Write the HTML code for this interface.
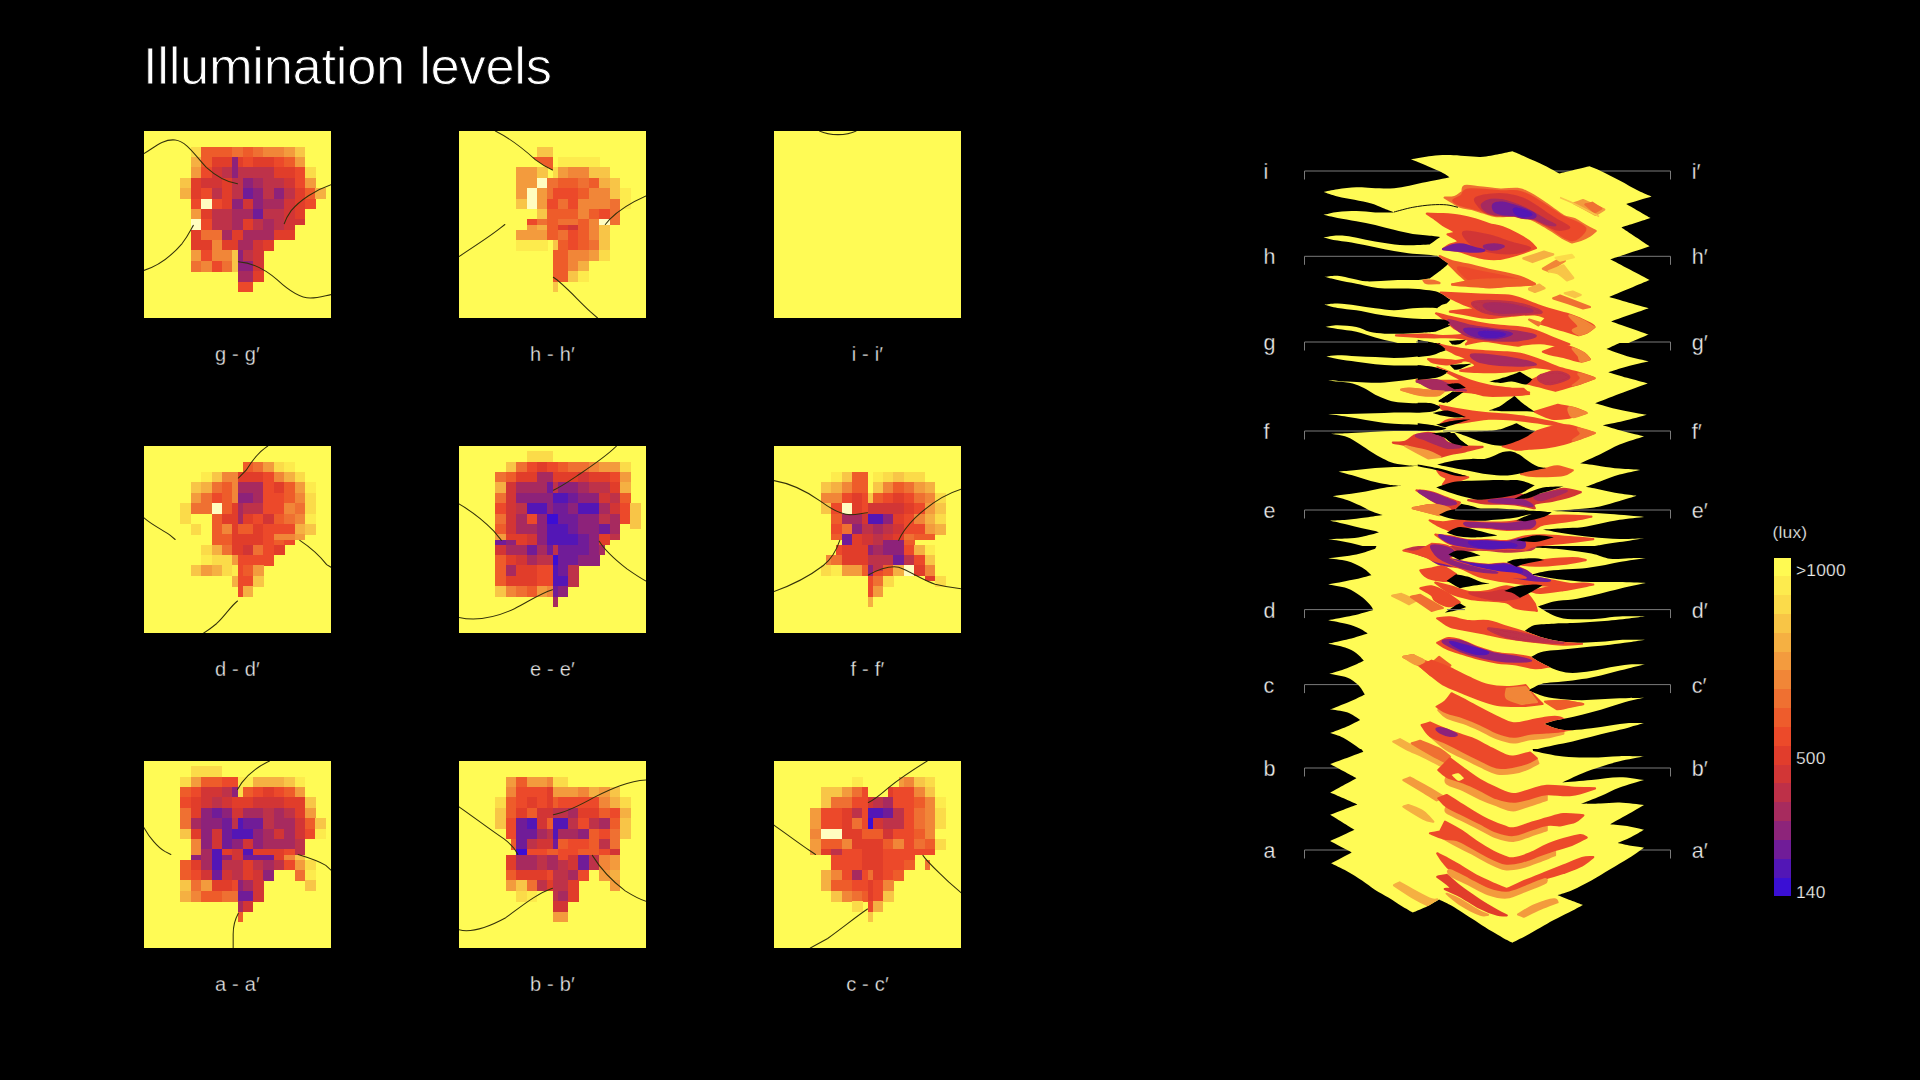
<!DOCTYPE html><html><head><meta charset="utf-8"><title>Illumination levels</title><style>
html,body{margin:0;padding:0;background:#000;}
body{width:1920px;height:1080px;position:relative;overflow:hidden;font-family:"Liberation Sans",sans-serif;color:#fff;}
.title{position:absolute;left:143px;top:35.5px;font-size:52.5px;line-height:60px;letter-spacing:-0.3px;white-space:nowrap;color:#fff;-webkit-text-stroke:0.9px #000;}
.hm{position:absolute;display:block;}
.lbl{position:absolute;width:187px;text-align:center;font-size:20px;line-height:24px;color:#e6e6e6;letter-spacing:0.2px;white-space:nowrap;-webkit-text-stroke:0.3px #000;}
.sl{position:absolute;font-size:21.5px;line-height:24px;color:#ececec;white-space:nowrap;-webkit-text-stroke:0.3px #000;}
.cb{position:absolute;left:1774px;top:557.5px;width:17px;}
.cb div{height:18.83px;width:17px;}
.cl{position:absolute;font-size:17.4px;-webkit-text-stroke:0.25px #000;line-height:20px;color:#f0f0f0;white-space:nowrap;letter-spacing:0.2px;}
#stack{position:absolute;left:0;top:0;}
</style></head><body>
<div class="title">Illumination levels</div>
<svg class="hm" style="left:144px;top:131px" width="187" height="187" viewBox="0 0 1080 1080">
<rect width="1080" height="1080" fill="#FFFB55"/>
<filter id="hb" x="0" y="0" width="100%" height="100%"><feGaussianBlur stdDeviation="2.5"/></filter><g filter="url(#hb)" shape-rendering="crispEdges">
<rect x="270" y="90" width="61.5" height="61.5" fill="#FBDB4A"/>
<rect x="330" y="90" width="61.5" height="61.5" fill="#EE5C2C"/>
<rect x="390" y="90" width="61.5" height="61.5" fill="#EE5C2C"/>
<rect x="450" y="90" width="61.5" height="61.5" fill="#EE5C2C"/>
<rect x="510" y="90" width="61.5" height="61.5" fill="#EF7031"/>
<rect x="570" y="90" width="61.5" height="61.5" fill="#EE5C2C"/>
<rect x="630" y="90" width="61.5" height="61.5" fill="#EF7031"/>
<rect x="690" y="90" width="61.5" height="61.5" fill="#F18637"/>
<rect x="750" y="90" width="61.5" height="61.5" fill="#F18637"/>
<rect x="810" y="90" width="61.5" height="61.5" fill="#F39B3E"/>
<rect x="870" y="90" width="61.5" height="61.5" fill="#F8C546"/>
<rect x="270" y="150" width="61.5" height="61.5" fill="#F5B042"/>
<rect x="330" y="150" width="61.5" height="61.5" fill="#EE5C2C"/>
<rect x="390" y="150" width="61.5" height="61.5" fill="#E13D2C"/>
<rect x="450" y="150" width="61.5" height="61.5" fill="#E13D2C"/>
<rect x="510" y="150" width="31.5" height="61.5" fill="#8D247A"/>
<rect x="540" y="150" width="31.5" height="61.5" fill="#E13D2C"/>
<rect x="570" y="150" width="61.5" height="61.5" fill="#EC4A2A"/>
<rect x="630" y="150" width="61.5" height="61.5" fill="#E13D2C"/>
<rect x="690" y="150" width="61.5" height="61.5" fill="#E13D2C"/>
<rect x="750" y="150" width="61.5" height="61.5" fill="#EC4A2A"/>
<rect x="810" y="150" width="61.5" height="61.5" fill="#EE5C2C"/>
<rect x="870" y="150" width="61.5" height="61.5" fill="#F39B3E"/>
<rect x="270" y="210" width="61.5" height="61.5" fill="#F39B3E"/>
<rect x="330" y="210" width="61.5" height="61.5" fill="#EC4A2A"/>
<rect x="390" y="210" width="61.5" height="61.5" fill="#D23636"/>
<rect x="450" y="210" width="61.5" height="61.5" fill="#BE3048"/>
<rect x="510" y="210" width="31.5" height="61.5" fill="#8D247A"/>
<rect x="540" y="210" width="31.5" height="61.5" fill="#BE3048"/>
<rect x="570" y="210" width="61.5" height="61.5" fill="#BE3048"/>
<rect x="630" y="210" width="61.5" height="61.5" fill="#BE3048"/>
<rect x="690" y="210" width="61.5" height="61.5" fill="#BE3048"/>
<rect x="750" y="210" width="61.5" height="61.5" fill="#E13D2C"/>
<rect x="810" y="210" width="61.5" height="61.5" fill="#E13D2C"/>
<rect x="870" y="210" width="61.5" height="61.5" fill="#EC4A2A"/>
<rect x="930" y="210" width="61.5" height="61.5" fill="#FBDB4A"/>
<rect x="210" y="270" width="61.5" height="61.5" fill="#F8C546"/>
<rect x="270" y="270" width="61.5" height="61.5" fill="#E13D2C"/>
<rect x="330" y="270" width="61.5" height="61.5" fill="#D23636"/>
<rect x="390" y="270" width="61.5" height="61.5" fill="#D23636"/>
<rect x="450" y="270" width="61.5" height="61.5" fill="#E13D2C"/>
<rect x="510" y="270" width="61.5" height="61.5" fill="#BE3048"/>
<rect x="570" y="270" width="61.5" height="61.5" fill="#8D247A"/>
<rect x="630" y="270" width="61.5" height="61.5" fill="#A72B5E"/>
<rect x="690" y="270" width="61.5" height="61.5" fill="#BE3048"/>
<rect x="750" y="270" width="61.5" height="61.5" fill="#BE3048"/>
<rect x="810" y="270" width="61.5" height="61.5" fill="#D23636"/>
<rect x="870" y="270" width="61.5" height="61.5" fill="#EC4A2A"/>
<rect x="930" y="270" width="61.5" height="61.5" fill="#F39B3E"/>
<rect x="210" y="330" width="61.5" height="61.5" fill="#F5B042"/>
<rect x="270" y="330" width="61.5" height="61.5" fill="#E13D2C"/>
<rect x="330" y="330" width="61.5" height="61.5" fill="#EC4A2A"/>
<rect x="390" y="330" width="61.5" height="61.5" fill="#BE3048"/>
<rect x="450" y="330" width="61.5" height="61.5" fill="#E13D2C"/>
<rect x="510" y="330" width="61.5" height="61.5" fill="#BE3048"/>
<rect x="570" y="330" width="61.5" height="61.5" fill="#701C98"/>
<rect x="630" y="330" width="61.5" height="61.5" fill="#8D247A"/>
<rect x="690" y="330" width="61.5" height="61.5" fill="#BE3048"/>
<rect x="750" y="330" width="61.5" height="61.5" fill="#8D247A"/>
<rect x="810" y="330" width="61.5" height="61.5" fill="#BE3048"/>
<rect x="870" y="330" width="61.5" height="61.5" fill="#E13D2C"/>
<rect x="930" y="330" width="61.5" height="61.5" fill="#EE5C2C"/>
<rect x="990" y="330" width="61.5" height="61.5" fill="#F5B042"/>
<rect x="270" y="390" width="61.5" height="61.5" fill="#EC4A2A"/>
<rect x="330" y="390" width="61.5" height="61.5" fill="#FFFDC0"/>
<rect x="390" y="390" width="61.5" height="61.5" fill="#EC4A2A"/>
<rect x="450" y="390" width="61.5" height="61.5" fill="#E13D2C"/>
<rect x="510" y="390" width="61.5" height="61.5" fill="#8D247A"/>
<rect x="570" y="390" width="61.5" height="61.5" fill="#D23636"/>
<rect x="630" y="390" width="61.5" height="61.5" fill="#8D247A"/>
<rect x="690" y="390" width="61.5" height="61.5" fill="#A72B5E"/>
<rect x="750" y="390" width="61.5" height="61.5" fill="#A72B5E"/>
<rect x="810" y="390" width="61.5" height="61.5" fill="#D23636"/>
<rect x="870" y="390" width="61.5" height="61.5" fill="#E13D2C"/>
<rect x="930" y="390" width="61.5" height="61.5" fill="#EC4A2A"/>
<rect x="270" y="450" width="61.5" height="61.5" fill="#F39B3E"/>
<rect x="330" y="450" width="61.5" height="61.5" fill="#E13D2C"/>
<rect x="390" y="450" width="61.5" height="61.5" fill="#BE3048"/>
<rect x="450" y="450" width="61.5" height="61.5" fill="#BE3048"/>
<rect x="510" y="450" width="61.5" height="61.5" fill="#A72B5E"/>
<rect x="570" y="450" width="61.5" height="61.5" fill="#A72B5E"/>
<rect x="630" y="450" width="61.5" height="61.5" fill="#701C98"/>
<rect x="690" y="450" width="61.5" height="61.5" fill="#BE3048"/>
<rect x="750" y="450" width="61.5" height="61.5" fill="#BE3048"/>
<rect x="810" y="450" width="61.5" height="61.5" fill="#D23636"/>
<rect x="870" y="450" width="61.5" height="61.5" fill="#E13D2C"/>
<rect x="270" y="510" width="61.5" height="61.5" fill="#FFFDC0"/>
<rect x="330" y="510" width="61.5" height="61.5" fill="#EC4A2A"/>
<rect x="390" y="510" width="61.5" height="61.5" fill="#BE3048"/>
<rect x="450" y="510" width="61.5" height="61.5" fill="#BE3048"/>
<rect x="510" y="510" width="61.5" height="61.5" fill="#A72B5E"/>
<rect x="570" y="510" width="61.5" height="61.5" fill="#E13D2C"/>
<rect x="630" y="510" width="61.5" height="61.5" fill="#BE3048"/>
<rect x="690" y="510" width="61.5" height="61.5" fill="#A72B5E"/>
<rect x="750" y="510" width="61.5" height="61.5" fill="#BE3048"/>
<rect x="810" y="510" width="61.5" height="61.5" fill="#D23636"/>
<rect x="870" y="510" width="61.5" height="31.5" fill="#D23636"/>
<rect x="270" y="570" width="61.5" height="61.5" fill="#E13D2C"/>
<rect x="330" y="570" width="61.5" height="61.5" fill="#EF7031"/>
<rect x="390" y="570" width="61.5" height="61.5" fill="#EF7031"/>
<rect x="450" y="570" width="61.5" height="61.5" fill="#A72B5E"/>
<rect x="510" y="570" width="61.5" height="61.5" fill="#E13D2C"/>
<rect x="570" y="570" width="61.5" height="61.5" fill="#A72B5E"/>
<rect x="630" y="570" width="61.5" height="61.5" fill="#A72B5E"/>
<rect x="690" y="570" width="61.5" height="61.5" fill="#A72B5E"/>
<rect x="750" y="570" width="61.5" height="61.5" fill="#E13D2C"/>
<rect x="810" y="570" width="61.5" height="61.5" fill="#E13D2C"/>
<rect x="270" y="630" width="61.5" height="61.5" fill="#E13D2C"/>
<rect x="330" y="630" width="61.5" height="61.5" fill="#E13D2C"/>
<rect x="390" y="630" width="61.5" height="61.5" fill="#F18637"/>
<rect x="450" y="630" width="61.5" height="61.5" fill="#E13D2C"/>
<rect x="510" y="630" width="31.5" height="61.5" fill="#E13D2C"/>
<rect x="540" y="630" width="31.5" height="61.5" fill="#A72B5E"/>
<rect x="570" y="630" width="61.5" height="61.5" fill="#A72B5E"/>
<rect x="630" y="630" width="61.5" height="61.5" fill="#D23636"/>
<rect x="690" y="630" width="61.5" height="61.5" fill="#E13D2C"/>
<rect x="270" y="690" width="61.5" height="61.5" fill="#F39B3E"/>
<rect x="330" y="690" width="61.5" height="61.5" fill="#EC4A2A"/>
<rect x="390" y="690" width="61.5" height="61.5" fill="#F18637"/>
<rect x="450" y="690" width="61.5" height="61.5" fill="#F18637"/>
<rect x="510" y="690" width="31.5" height="61.5" fill="#F8C546"/>
<rect x="540" y="690" width="31.5" height="61.5" fill="#8D247A"/>
<rect x="570" y="690" width="61.5" height="61.5" fill="#BE3048"/>
<rect x="630" y="690" width="61.5" height="61.5" fill="#D23636"/>
<rect x="270" y="750" width="61.5" height="61.5" fill="#EF7031"/>
<rect x="330" y="750" width="61.5" height="61.5" fill="#F18637"/>
<rect x="390" y="750" width="61.5" height="61.5" fill="#EC4A2A"/>
<rect x="450" y="750" width="61.5" height="61.5" fill="#EF7031"/>
<rect x="510" y="750" width="31.5" height="61.5" fill="#F8C546"/>
<rect x="540" y="750" width="31.5" height="61.5" fill="#8D247A"/>
<rect x="570" y="750" width="61.5" height="61.5" fill="#8D247A"/>
<rect x="630" y="750" width="61.5" height="61.5" fill="#D23636"/>
<rect x="540" y="810" width="31.5" height="61.5" fill="#A72B5E"/>
<rect x="570" y="810" width="61.5" height="61.5" fill="#A72B5E"/>
<rect x="630" y="810" width="61.5" height="61.5" fill="#E13D2C"/>
<rect x="540" y="870" width="31.5" height="61.5" fill="#EC4A2A"/>
<rect x="570" y="870" width="61.5" height="61.5" fill="#EC4A2A"/>
</g>
<path d="M0,130 C60,95 110,45 180,52 C250,60 300,150 360,210 C420,265 480,295 540,305" fill="none" stroke="#33310a" stroke-width="6" stroke-linecap="round"/>
<path d="M1080,310 C990,340 900,400 850,460 C825,495 815,520 810,535" fill="none" stroke="#33310a" stroke-width="6" stroke-linecap="round"/>
<path d="M0,805 C80,780 160,720 220,650 C255,605 270,570 285,545" fill="none" stroke="#33310a" stroke-width="6" stroke-linecap="round"/>
<path d="M545,755 C620,760 690,790 770,860 C840,925 900,965 960,965 C1010,962 1050,950 1080,945" fill="none" stroke="#33310a" stroke-width="6" stroke-linecap="round"/>
</svg>
<div class="lbl" style="left:144px;top:341.9px">g - g′</div>
<svg class="hm" style="left:459px;top:131px" width="187" height="187" viewBox="0 0 1080 1080">
<rect width="1080" height="1080" fill="#FFFB55"/>
<filter id="hb" x="0" y="0" width="100%" height="100%"><feGaussianBlur stdDeviation="2.5"/></filter><g filter="url(#hb)" shape-rendering="crispEdges">
<rect x="450" y="90" width="61.5" height="61.5" fill="#F8C546"/>
<rect x="510" y="90" width="31.5" height="61.5" fill="#F8C546"/>
<rect x="570" y="150" width="61.5" height="61.5" fill="#FDEB4E"/>
<rect x="630" y="150" width="61.5" height="61.5" fill="#FDEB4E"/>
<rect x="690" y="150" width="61.5" height="61.5" fill="#FDEB4E"/>
<rect x="750" y="150" width="61.5" height="61.5" fill="#FDEB4E"/>
<rect x="330" y="210" width="61.5" height="61.5" fill="#F39B3E"/>
<rect x="390" y="210" width="61.5" height="61.5" fill="#F39B3E"/>
<rect x="450" y="210" width="61.5" height="61.5" fill="#F8C546"/>
<rect x="540" y="210" width="31.5" height="61.5" fill="#FBDB4A"/>
<rect x="570" y="210" width="61.5" height="61.5" fill="#F39B3E"/>
<rect x="630" y="210" width="61.5" height="61.5" fill="#F18637"/>
<rect x="690" y="210" width="61.5" height="61.5" fill="#F18637"/>
<rect x="750" y="210" width="61.5" height="61.5" fill="#F8C546"/>
<rect x="810" y="210" width="61.5" height="61.5" fill="#F8C546"/>
<rect x="330" y="270" width="61.5" height="61.5" fill="#F39B3E"/>
<rect x="390" y="270" width="61.5" height="61.5" fill="#F39B3E"/>
<rect x="450" y="270" width="61.5" height="61.5" fill="#FFFDC0"/>
<rect x="510" y="270" width="61.5" height="61.5" fill="#EF7031"/>
<rect x="570" y="270" width="61.5" height="61.5" fill="#EE5C2C"/>
<rect x="630" y="270" width="61.5" height="61.5" fill="#EE5C2C"/>
<rect x="690" y="270" width="61.5" height="61.5" fill="#EF7031"/>
<rect x="750" y="270" width="61.5" height="61.5" fill="#EE5C2C"/>
<rect x="810" y="270" width="61.5" height="61.5" fill="#F5B042"/>
<rect x="870" y="270" width="61.5" height="61.5" fill="#F8C546"/>
<rect x="330" y="330" width="61.5" height="61.5" fill="#F39B3E"/>
<rect x="390" y="330" width="61.5" height="61.5" fill="#FFFDC0"/>
<rect x="450" y="330" width="61.5" height="61.5" fill="#F39B3E"/>
<rect x="510" y="330" width="31.5" height="61.5" fill="#EF7031"/>
<rect x="540" y="330" width="31.5" height="61.5" fill="#EC4A2A"/>
<rect x="570" y="330" width="61.5" height="61.5" fill="#EC4A2A"/>
<rect x="630" y="330" width="61.5" height="61.5" fill="#EC4A2A"/>
<rect x="690" y="330" width="61.5" height="61.5" fill="#EE5C2C"/>
<rect x="750" y="330" width="61.5" height="61.5" fill="#F18637"/>
<rect x="810" y="330" width="61.5" height="61.5" fill="#F18637"/>
<rect x="870" y="330" width="61.5" height="61.5" fill="#F8C546"/>
<rect x="930" y="330" width="61.5" height="61.5" fill="#FDEB4E"/>
<rect x="330" y="390" width="61.5" height="61.5" fill="#F8C546"/>
<rect x="390" y="390" width="61.5" height="61.5" fill="#FFFDC0"/>
<rect x="450" y="390" width="61.5" height="61.5" fill="#F39B3E"/>
<rect x="510" y="390" width="61.5" height="61.5" fill="#EC4A2A"/>
<rect x="570" y="390" width="61.5" height="61.5" fill="#EF7031"/>
<rect x="630" y="390" width="61.5" height="61.5" fill="#EC4A2A"/>
<rect x="690" y="390" width="61.5" height="61.5" fill="#F18637"/>
<rect x="750" y="390" width="61.5" height="61.5" fill="#F18637"/>
<rect x="810" y="390" width="61.5" height="61.5" fill="#F18637"/>
<rect x="870" y="390" width="61.5" height="61.5" fill="#EF7031"/>
<rect x="930" y="390" width="61.5" height="61.5" fill="#FDEB4E"/>
<rect x="450" y="450" width="61.5" height="61.5" fill="#F8C546"/>
<rect x="510" y="450" width="61.5" height="61.5" fill="#EE5C2C"/>
<rect x="570" y="450" width="61.5" height="61.5" fill="#EE5C2C"/>
<rect x="630" y="450" width="61.5" height="61.5" fill="#EE5C2C"/>
<rect x="690" y="450" width="61.5" height="61.5" fill="#F18637"/>
<rect x="750" y="450" width="61.5" height="61.5" fill="#EE5C2C"/>
<rect x="810" y="450" width="61.5" height="61.5" fill="#EC4A2A"/>
<rect x="870" y="450" width="61.5" height="61.5" fill="#EF7031"/>
<rect x="390" y="510" width="61.5" height="31.5" fill="#EC4A2A"/>
<rect x="390" y="540" width="61.5" height="31.5" fill="#F39B3E"/>
<rect x="450" y="510" width="61.5" height="31.5" fill="#EF7031"/>
<rect x="450" y="540" width="61.5" height="31.5" fill="#F5B042"/>
<rect x="510" y="510" width="61.5" height="61.5" fill="#EE5C2C"/>
<rect x="570" y="510" width="61.5" height="31.5" fill="#EF7031"/>
<rect x="570" y="540" width="61.5" height="31.5" fill="#E13D2C"/>
<rect x="630" y="510" width="61.5" height="31.5" fill="#EF7031"/>
<rect x="630" y="540" width="61.5" height="31.5" fill="#D23636"/>
<rect x="690" y="510" width="61.5" height="61.5" fill="#EE5C2C"/>
<rect x="750" y="510" width="61.5" height="61.5" fill="#F18637"/>
<rect x="810" y="510" width="61.5" height="31.5" fill="#FFFDC0"/>
<rect x="810" y="540" width="61.5" height="31.5" fill="#F8C546"/>
<rect x="870" y="510" width="61.5" height="31.5" fill="#EF7031"/>
<rect x="330" y="570" width="61.5" height="61.5" fill="#F39B3E"/>
<rect x="390" y="570" width="61.5" height="61.5" fill="#F39B3E"/>
<rect x="450" y="570" width="61.5" height="61.5" fill="#F39B3E"/>
<rect x="510" y="570" width="61.5" height="61.5" fill="#EE5C2C"/>
<rect x="570" y="570" width="61.5" height="61.5" fill="#EF7031"/>
<rect x="630" y="570" width="61.5" height="61.5" fill="#EC4A2A"/>
<rect x="690" y="570" width="61.5" height="61.5" fill="#EE5C2C"/>
<rect x="750" y="570" width="61.5" height="61.5" fill="#F18637"/>
<rect x="810" y="570" width="61.5" height="61.5" fill="#F8C546"/>
<rect x="330" y="630" width="61.5" height="61.5" fill="#FDEB4E"/>
<rect x="390" y="630" width="61.5" height="61.5" fill="#FDEB4E"/>
<rect x="450" y="630" width="61.5" height="61.5" fill="#FDEB4E"/>
<rect x="540" y="630" width="31.5" height="61.5" fill="#F8C546"/>
<rect x="570" y="630" width="61.5" height="61.5" fill="#EE5C2C"/>
<rect x="630" y="630" width="61.5" height="61.5" fill="#EC4A2A"/>
<rect x="690" y="630" width="61.5" height="61.5" fill="#EE5C2C"/>
<rect x="750" y="630" width="61.5" height="61.5" fill="#EF7031"/>
<rect x="810" y="630" width="61.5" height="61.5" fill="#F8C546"/>
<rect x="540" y="690" width="31.5" height="61.5" fill="#EE5C2C"/>
<rect x="570" y="690" width="61.5" height="61.5" fill="#EE5C2C"/>
<rect x="630" y="690" width="61.5" height="61.5" fill="#F18637"/>
<rect x="690" y="690" width="61.5" height="61.5" fill="#F18637"/>
<rect x="750" y="690" width="61.5" height="61.5" fill="#F39B3E"/>
<rect x="810" y="690" width="61.5" height="61.5" fill="#FBDB4A"/>
<rect x="540" y="750" width="31.5" height="61.5" fill="#EE5C2C"/>
<rect x="570" y="750" width="61.5" height="61.5" fill="#EE5C2C"/>
<rect x="630" y="750" width="61.5" height="61.5" fill="#F18637"/>
<rect x="690" y="750" width="61.5" height="61.5" fill="#F5B042"/>
<rect x="540" y="810" width="31.5" height="61.5" fill="#EE5C2C"/>
<rect x="570" y="810" width="61.5" height="61.5" fill="#EE5C2C"/>
<rect x="630" y="810" width="61.5" height="61.5" fill="#F8C546"/>
<rect x="690" y="810" width="61.5" height="61.5" fill="#FDEB4E"/>
<rect x="540" y="870" width="31.5" height="61.5" fill="#F8C546"/>
<polygon points="425,150 540,150 540,226 500,206 450,172" fill="#EE5C2C"/>
</g>
<path d="M210,0 C300,45 380,110 440,165 C480,195 510,212 540,225" fill="none" stroke="#33310a" stroke-width="6" stroke-linecap="round"/>
<path d="M1080,375 C1000,410 920,460 870,510 L845,540" fill="none" stroke="#33310a" stroke-width="6" stroke-linecap="round"/>
<path d="M0,725 C100,660 190,600 240,560 L265,540" fill="none" stroke="#33310a" stroke-width="6" stroke-linecap="round"/>
<path d="M545,845 C600,880 680,970 760,1045 L800,1080" fill="none" stroke="#33310a" stroke-width="6" stroke-linecap="round"/>
</svg>
<div class="lbl" style="left:459px;top:341.9px">h - h′</div>
<svg class="hm" style="left:774px;top:131px" width="187" height="187" viewBox="0 0 1080 1080">
<rect width="1080" height="1080" fill="#FFFB55"/>
<filter id="hb" x="0" y="0" width="100%" height="100%"><feGaussianBlur stdDeviation="2.5"/></filter><g filter="url(#hb)" shape-rendering="crispEdges">
</g>
<path d="M263,0 C320,28 420,28 474,0" fill="none" stroke="#33310a" stroke-width="6" stroke-linecap="round"/>
</svg>
<div class="lbl" style="left:774px;top:341.9px">i - i′</div>
<svg class="hm" style="left:144px;top:446px" width="187" height="187" viewBox="0 0 1080 1080">
<rect width="1080" height="1080" fill="#FFFB55"/>
<filter id="hb" x="0" y="0" width="100%" height="100%"><feGaussianBlur stdDeviation="2.5"/></filter><g filter="url(#hb)" shape-rendering="crispEdges">
<rect x="570" y="90" width="61.5" height="61.5" fill="#EE5C2C"/>
<rect x="630" y="90" width="61.5" height="61.5" fill="#EF7031"/>
<rect x="690" y="90" width="61.5" height="61.5" fill="#F39B3E"/>
<rect x="750" y="90" width="61.5" height="61.5" fill="#FBDB4A"/>
<rect x="810" y="90" width="61.5" height="61.5" fill="#FDEB4E"/>
<rect x="330" y="150" width="61.5" height="61.5" fill="#FDEB4E"/>
<rect x="390" y="150" width="61.5" height="61.5" fill="#F8C546"/>
<rect x="450" y="150" width="61.5" height="61.5" fill="#F18637"/>
<rect x="510" y="150" width="31.5" height="61.5" fill="#F18637"/>
<rect x="540" y="150" width="31.5" height="61.5" fill="#E13D2C"/>
<rect x="570" y="150" width="61.5" height="61.5" fill="#E13D2C"/>
<rect x="630" y="150" width="61.5" height="61.5" fill="#E13D2C"/>
<rect x="690" y="150" width="61.5" height="61.5" fill="#EC4A2A"/>
<rect x="750" y="150" width="61.5" height="61.5" fill="#F18637"/>
<rect x="810" y="150" width="61.5" height="61.5" fill="#F5B042"/>
<rect x="870" y="150" width="61.5" height="61.5" fill="#FBDB4A"/>
<rect x="270" y="210" width="61.5" height="61.5" fill="#F8C546"/>
<rect x="330" y="210" width="61.5" height="61.5" fill="#F5B042"/>
<rect x="390" y="210" width="61.5" height="61.5" fill="#EF7031"/>
<rect x="450" y="210" width="61.5" height="61.5" fill="#EE5C2C"/>
<rect x="510" y="210" width="31.5" height="61.5" fill="#F18637"/>
<rect x="540" y="210" width="31.5" height="61.5" fill="#A72B5E"/>
<rect x="570" y="210" width="61.5" height="61.5" fill="#A72B5E"/>
<rect x="630" y="210" width="61.5" height="61.5" fill="#A72B5E"/>
<rect x="690" y="210" width="61.5" height="61.5" fill="#EC4A2A"/>
<rect x="750" y="210" width="61.5" height="61.5" fill="#E13D2C"/>
<rect x="810" y="210" width="61.5" height="61.5" fill="#EE5C2C"/>
<rect x="870" y="210" width="61.5" height="61.5" fill="#F39B3E"/>
<rect x="930" y="210" width="61.5" height="61.5" fill="#FDEB4E"/>
<rect x="270" y="270" width="61.5" height="61.5" fill="#F39B3E"/>
<rect x="330" y="270" width="61.5" height="61.5" fill="#EF7031"/>
<rect x="390" y="270" width="61.5" height="61.5" fill="#EC4A2A"/>
<rect x="450" y="270" width="61.5" height="61.5" fill="#EE5C2C"/>
<rect x="510" y="270" width="31.5" height="61.5" fill="#F18637"/>
<rect x="540" y="270" width="31.5" height="61.5" fill="#8D247A"/>
<rect x="570" y="270" width="61.5" height="61.5" fill="#8D247A"/>
<rect x="630" y="270" width="61.5" height="61.5" fill="#A72B5E"/>
<rect x="690" y="270" width="61.5" height="61.5" fill="#EC4A2A"/>
<rect x="750" y="270" width="61.5" height="61.5" fill="#EC4A2A"/>
<rect x="810" y="270" width="61.5" height="61.5" fill="#EE5C2C"/>
<rect x="870" y="270" width="61.5" height="61.5" fill="#F18637"/>
<rect x="930" y="270" width="61.5" height="61.5" fill="#FBDB4A"/>
<rect x="210" y="330" width="61.5" height="61.5" fill="#FBDB4A"/>
<rect x="270" y="330" width="61.5" height="61.5" fill="#EF7031"/>
<rect x="330" y="330" width="61.5" height="61.5" fill="#EF7031"/>
<rect x="390" y="330" width="61.5" height="61.5" fill="#FFFDC0"/>
<rect x="450" y="330" width="61.5" height="61.5" fill="#EE5C2C"/>
<rect x="510" y="330" width="31.5" height="61.5" fill="#E13D2C"/>
<rect x="540" y="330" width="31.5" height="61.5" fill="#A72B5E"/>
<rect x="570" y="330" width="61.5" height="61.5" fill="#BE3048"/>
<rect x="630" y="330" width="61.5" height="61.5" fill="#BE3048"/>
<rect x="690" y="330" width="61.5" height="61.5" fill="#EC4A2A"/>
<rect x="750" y="330" width="61.5" height="61.5" fill="#EC4A2A"/>
<rect x="810" y="330" width="61.5" height="61.5" fill="#F18637"/>
<rect x="870" y="330" width="61.5" height="61.5" fill="#EF7031"/>
<rect x="930" y="330" width="61.5" height="61.5" fill="#FBDB4A"/>
<rect x="210" y="390" width="61.5" height="61.5" fill="#FBDB4A"/>
<rect x="390" y="390" width="61.5" height="61.5" fill="#EE5C2C"/>
<rect x="450" y="390" width="61.5" height="61.5" fill="#E13D2C"/>
<rect x="510" y="390" width="31.5" height="61.5" fill="#E13D2C"/>
<rect x="540" y="390" width="31.5" height="61.5" fill="#A72B5E"/>
<rect x="570" y="390" width="61.5" height="61.5" fill="#E13D2C"/>
<rect x="630" y="390" width="61.5" height="61.5" fill="#EC4A2A"/>
<rect x="690" y="390" width="61.5" height="61.5" fill="#D23636"/>
<rect x="750" y="390" width="61.5" height="61.5" fill="#EE5C2C"/>
<rect x="810" y="390" width="61.5" height="61.5" fill="#EF7031"/>
<rect x="870" y="390" width="61.5" height="61.5" fill="#F18637"/>
<rect x="930" y="390" width="61.5" height="61.5" fill="#FDEB4E"/>
<rect x="270" y="450" width="61.5" height="61.5" fill="#FBDB4A"/>
<rect x="390" y="450" width="61.5" height="61.5" fill="#EE5C2C"/>
<rect x="450" y="450" width="61.5" height="61.5" fill="#F18637"/>
<rect x="510" y="450" width="31.5" height="61.5" fill="#E13D2C"/>
<rect x="540" y="450" width="31.5" height="61.5" fill="#EE5C2C"/>
<rect x="570" y="450" width="61.5" height="61.5" fill="#EE5C2C"/>
<rect x="630" y="450" width="61.5" height="61.5" fill="#E13D2C"/>
<rect x="690" y="450" width="61.5" height="61.5" fill="#EC4A2A"/>
<rect x="750" y="450" width="61.5" height="61.5" fill="#EC4A2A"/>
<rect x="810" y="450" width="61.5" height="61.5" fill="#EC4A2A"/>
<rect x="870" y="450" width="61.5" height="61.5" fill="#F5B042"/>
<rect x="930" y="450" width="61.5" height="61.5" fill="#F8C546"/>
<rect x="390" y="510" width="61.5" height="61.5" fill="#EE5C2C"/>
<rect x="450" y="510" width="61.5" height="61.5" fill="#EE5C2C"/>
<rect x="510" y="510" width="61.5" height="61.5" fill="#E13D2C"/>
<rect x="570" y="510" width="61.5" height="61.5" fill="#E13D2C"/>
<rect x="630" y="510" width="61.5" height="61.5" fill="#E13D2C"/>
<rect x="690" y="510" width="61.5" height="61.5" fill="#EC4A2A"/>
<rect x="750" y="510" width="61.5" height="31.5" fill="#F18637"/>
<rect x="750" y="540" width="61.5" height="31.5" fill="#EE5C2C"/>
<rect x="810" y="510" width="61.5" height="31.5" fill="#F18637"/>
<rect x="810" y="540" width="61.5" height="31.5" fill="#EC4A2A"/>
<rect x="870" y="510" width="61.5" height="31.5" fill="#F39B3E"/>
<rect x="330" y="570" width="61.5" height="61.5" fill="#FBDB4A"/>
<rect x="390" y="570" width="61.5" height="61.5" fill="#F5B042"/>
<rect x="450" y="570" width="61.5" height="61.5" fill="#EF7031"/>
<rect x="510" y="570" width="61.5" height="61.5" fill="#E13D2C"/>
<rect x="570" y="570" width="61.5" height="61.5" fill="#D23636"/>
<rect x="630" y="570" width="61.5" height="61.5" fill="#EF7031"/>
<rect x="690" y="570" width="61.5" height="61.5" fill="#EC4A2A"/>
<rect x="750" y="570" width="61.5" height="61.5" fill="#E13D2C"/>
<rect x="330" y="630" width="61.5" height="61.5" fill="#FDEB4E"/>
<rect x="390" y="630" width="61.5" height="61.5" fill="#FBDB4A"/>
<rect x="450" y="630" width="61.5" height="61.5" fill="#FBDB4A"/>
<rect x="510" y="630" width="31.5" height="61.5" fill="#F39B3E"/>
<rect x="540" y="630" width="31.5" height="61.5" fill="#EC4A2A"/>
<rect x="570" y="630" width="61.5" height="61.5" fill="#EC4A2A"/>
<rect x="630" y="630" width="61.5" height="61.5" fill="#EC4A2A"/>
<rect x="690" y="630" width="61.5" height="61.5" fill="#EC4A2A"/>
<rect x="270" y="690" width="61.5" height="61.5" fill="#F8C546"/>
<rect x="330" y="690" width="61.5" height="61.5" fill="#F39B3E"/>
<rect x="390" y="690" width="61.5" height="61.5" fill="#F5B042"/>
<rect x="450" y="690" width="61.5" height="61.5" fill="#FBDB4A"/>
<rect x="510" y="690" width="31.5" height="61.5" fill="#FDEB4E"/>
<rect x="540" y="690" width="31.5" height="61.5" fill="#EC4A2A"/>
<rect x="570" y="690" width="61.5" height="61.5" fill="#EE5C2C"/>
<rect x="630" y="690" width="61.5" height="61.5" fill="#F39B3E"/>
<rect x="510" y="750" width="31.5" height="61.5" fill="#F5B042"/>
<rect x="540" y="750" width="31.5" height="61.5" fill="#EC4A2A"/>
<rect x="570" y="750" width="61.5" height="61.5" fill="#EC4A2A"/>
<rect x="630" y="750" width="61.5" height="61.5" fill="#F8C546"/>
<rect x="540" y="810" width="31.5" height="61.5" fill="#EC4A2A"/>
<rect x="570" y="810" width="61.5" height="61.5" fill="#F5B042"/>
</g>
<path d="M715,0 C660,35 620,90 590,140 L545,185" fill="none" stroke="#33310a" stroke-width="6" stroke-linecap="round"/>
<path d="M0,415 C50,460 120,490 150,515 L180,540" fill="none" stroke="#33310a" stroke-width="6" stroke-linecap="round"/>
<path d="M900,545 C960,585 1020,640 1055,685 L1080,700" fill="none" stroke="#33310a" stroke-width="6" stroke-linecap="round"/>
<path d="M540,895 C500,925 470,980 420,1025 C390,1050 365,1068 345,1080" fill="none" stroke="#33310a" stroke-width="6" stroke-linecap="round"/>
</svg>
<div class="lbl" style="left:144px;top:656.9px">d - d′</div>
<svg class="hm" style="left:459px;top:446px" width="187" height="187" viewBox="0 0 1080 1080">
<rect width="1080" height="1080" fill="#FFFB55"/>
<filter id="hb" x="0" y="0" width="100%" height="100%"><feGaussianBlur stdDeviation="2.5"/></filter><g filter="url(#hb)" shape-rendering="crispEdges">
<rect x="390" y="30" width="61.5" height="61.5" fill="#FBDB4A"/>
<rect x="450" y="30" width="61.5" height="61.5" fill="#FBDB4A"/>
<rect x="510" y="30" width="31.5" height="61.5" fill="#FBDB4A"/>
<rect x="270" y="90" width="61.5" height="61.5" fill="#F8C546"/>
<rect x="330" y="90" width="61.5" height="61.5" fill="#EF7031"/>
<rect x="390" y="90" width="61.5" height="61.5" fill="#EC4A2A"/>
<rect x="450" y="90" width="61.5" height="61.5" fill="#E13D2C"/>
<rect x="510" y="90" width="61.5" height="61.5" fill="#EC4A2A"/>
<rect x="570" y="90" width="61.5" height="61.5" fill="#EE5C2C"/>
<rect x="630" y="90" width="61.5" height="61.5" fill="#EF7031"/>
<rect x="690" y="90" width="61.5" height="61.5" fill="#EF7031"/>
<rect x="750" y="90" width="61.5" height="61.5" fill="#F18637"/>
<rect x="810" y="90" width="61.5" height="61.5" fill="#F39B3E"/>
<rect x="870" y="90" width="61.5" height="61.5" fill="#F39B3E"/>
<rect x="930" y="90" width="61.5" height="61.5" fill="#FBDB4A"/>
<rect x="210" y="150" width="61.5" height="61.5" fill="#EF7031"/>
<rect x="270" y="150" width="61.5" height="61.5" fill="#EE5C2C"/>
<rect x="330" y="150" width="61.5" height="61.5" fill="#E13D2C"/>
<rect x="390" y="150" width="61.5" height="61.5" fill="#E13D2C"/>
<rect x="450" y="150" width="61.5" height="61.5" fill="#A72B5E"/>
<rect x="510" y="150" width="31.5" height="61.5" fill="#A72B5E"/>
<rect x="540" y="150" width="31.5" height="61.5" fill="#E13D2C"/>
<rect x="570" y="150" width="61.5" height="61.5" fill="#E13D2C"/>
<rect x="630" y="150" width="61.5" height="61.5" fill="#E13D2C"/>
<rect x="690" y="150" width="61.5" height="61.5" fill="#D23636"/>
<rect x="750" y="150" width="61.5" height="61.5" fill="#E13D2C"/>
<rect x="810" y="150" width="61.5" height="61.5" fill="#E13D2C"/>
<rect x="870" y="150" width="61.5" height="61.5" fill="#EC4A2A"/>
<rect x="930" y="150" width="61.5" height="61.5" fill="#F39B3E"/>
<rect x="210" y="210" width="61.5" height="61.5" fill="#F5B042"/>
<rect x="270" y="210" width="61.5" height="61.5" fill="#D23636"/>
<rect x="330" y="210" width="61.5" height="61.5" fill="#A72B5E"/>
<rect x="390" y="210" width="61.5" height="61.5" fill="#A72B5E"/>
<rect x="450" y="210" width="61.5" height="61.5" fill="#A72B5E"/>
<rect x="510" y="210" width="31.5" height="61.5" fill="#701C98"/>
<rect x="540" y="210" width="31.5" height="61.5" fill="#BE3048"/>
<rect x="570" y="210" width="61.5" height="61.5" fill="#8D247A"/>
<rect x="630" y="210" width="61.5" height="61.5" fill="#8D247A"/>
<rect x="690" y="210" width="61.5" height="61.5" fill="#A72B5E"/>
<rect x="750" y="210" width="61.5" height="61.5" fill="#BE3048"/>
<rect x="810" y="210" width="61.5" height="61.5" fill="#BE3048"/>
<rect x="870" y="210" width="61.5" height="61.5" fill="#E13D2C"/>
<rect x="930" y="210" width="61.5" height="61.5" fill="#F5B042"/>
<rect x="210" y="270" width="61.5" height="61.5" fill="#EF7031"/>
<rect x="270" y="270" width="61.5" height="61.5" fill="#D23636"/>
<rect x="330" y="270" width="61.5" height="61.5" fill="#8D247A"/>
<rect x="390" y="270" width="61.5" height="61.5" fill="#8D247A"/>
<rect x="450" y="270" width="61.5" height="61.5" fill="#8D247A"/>
<rect x="510" y="270" width="31.5" height="61.5" fill="#8D247A"/>
<rect x="540" y="270" width="31.5" height="61.5" fill="#5216B6"/>
<rect x="570" y="270" width="61.5" height="61.5" fill="#5216B6"/>
<rect x="630" y="270" width="61.5" height="61.5" fill="#701C98"/>
<rect x="690" y="270" width="61.5" height="61.5" fill="#8D247A"/>
<rect x="750" y="270" width="61.5" height="61.5" fill="#8D247A"/>
<rect x="810" y="270" width="61.5" height="61.5" fill="#D23636"/>
<rect x="870" y="270" width="61.5" height="61.5" fill="#BE3048"/>
<rect x="930" y="270" width="61.5" height="61.5" fill="#EE5C2C"/>
<rect x="210" y="330" width="61.5" height="61.5" fill="#EC4A2A"/>
<rect x="270" y="330" width="61.5" height="61.5" fill="#D23636"/>
<rect x="330" y="330" width="61.5" height="61.5" fill="#BE3048"/>
<rect x="390" y="330" width="61.5" height="61.5" fill="#5216B6"/>
<rect x="450" y="330" width="61.5" height="61.5" fill="#5216B6"/>
<rect x="510" y="330" width="31.5" height="61.5" fill="#8D247A"/>
<rect x="540" y="330" width="31.5" height="61.5" fill="#701C98"/>
<rect x="570" y="330" width="61.5" height="61.5" fill="#701C98"/>
<rect x="630" y="330" width="61.5" height="61.5" fill="#8D247A"/>
<rect x="690" y="330" width="61.5" height="61.5" fill="#5216B6"/>
<rect x="750" y="330" width="61.5" height="61.5" fill="#5216B6"/>
<rect x="810" y="330" width="61.5" height="61.5" fill="#A72B5E"/>
<rect x="870" y="330" width="61.5" height="61.5" fill="#D23636"/>
<rect x="930" y="330" width="61.5" height="61.5" fill="#EC4A2A"/>
<rect x="990" y="330" width="61.5" height="61.5" fill="#F8C546"/>
<rect x="210" y="390" width="61.5" height="61.5" fill="#EF7031"/>
<rect x="270" y="390" width="61.5" height="61.5" fill="#D23636"/>
<rect x="330" y="390" width="61.5" height="61.5" fill="#A72B5E"/>
<rect x="390" y="390" width="61.5" height="61.5" fill="#EC4A2A"/>
<rect x="450" y="390" width="61.5" height="61.5" fill="#8D247A"/>
<rect x="510" y="390" width="61.5" height="61.5" fill="#3A0FD4"/>
<rect x="570" y="390" width="61.5" height="61.5" fill="#701C98"/>
<rect x="630" y="390" width="61.5" height="61.5" fill="#701C98"/>
<rect x="690" y="390" width="61.5" height="61.5" fill="#8D247A"/>
<rect x="750" y="390" width="61.5" height="61.5" fill="#8D247A"/>
<rect x="810" y="390" width="61.5" height="61.5" fill="#BE3048"/>
<rect x="870" y="390" width="61.5" height="61.5" fill="#A72B5E"/>
<rect x="930" y="390" width="61.5" height="61.5" fill="#EC4A2A"/>
<rect x="990" y="390" width="61.5" height="61.5" fill="#F8C546"/>
<rect x="210" y="450" width="61.5" height="61.5" fill="#EE5C2C"/>
<rect x="270" y="450" width="61.5" height="61.5" fill="#D23636"/>
<rect x="330" y="450" width="61.5" height="61.5" fill="#A72B5E"/>
<rect x="390" y="450" width="61.5" height="61.5" fill="#A72B5E"/>
<rect x="450" y="450" width="61.5" height="61.5" fill="#8D247A"/>
<rect x="510" y="450" width="61.5" height="61.5" fill="#5216B6"/>
<rect x="570" y="450" width="61.5" height="61.5" fill="#5216B6"/>
<rect x="630" y="450" width="61.5" height="61.5" fill="#701C98"/>
<rect x="690" y="450" width="61.5" height="61.5" fill="#8D247A"/>
<rect x="750" y="450" width="61.5" height="61.5" fill="#8D247A"/>
<rect x="810" y="450" width="61.5" height="61.5" fill="#701C98"/>
<rect x="870" y="450" width="61.5" height="61.5" fill="#A72B5E"/>
<rect x="990" y="450" width="61.5" height="31.5" fill="#F8C546"/>
<rect x="210" y="510" width="61.5" height="31.5" fill="#F39B3E"/>
<rect x="210" y="540" width="61.5" height="31.5" fill="#701C98"/>
<rect x="270" y="510" width="61.5" height="31.5" fill="#E13D2C"/>
<rect x="270" y="540" width="61.5" height="31.5" fill="#8D247A"/>
<rect x="330" y="510" width="61.5" height="61.5" fill="#E13D2C"/>
<rect x="390" y="510" width="61.5" height="61.5" fill="#D23636"/>
<rect x="450" y="510" width="61.5" height="61.5" fill="#8D247A"/>
<rect x="510" y="510" width="61.5" height="61.5" fill="#5216B6"/>
<rect x="570" y="510" width="61.5" height="61.5" fill="#5216B6"/>
<rect x="630" y="510" width="61.5" height="61.5" fill="#5216B6"/>
<rect x="690" y="510" width="61.5" height="61.5" fill="#701C98"/>
<rect x="750" y="510" width="61.5" height="61.5" fill="#8D247A"/>
<rect x="810" y="510" width="61.5" height="61.5" fill="#E13D2C"/>
<rect x="870" y="510" width="61.5" height="31.5" fill="#BE3048"/>
<rect x="210" y="570" width="61.5" height="61.5" fill="#D23636"/>
<rect x="270" y="570" width="61.5" height="61.5" fill="#A72B5E"/>
<rect x="330" y="570" width="61.5" height="61.5" fill="#A72B5E"/>
<rect x="390" y="570" width="61.5" height="61.5" fill="#701C98"/>
<rect x="450" y="570" width="61.5" height="61.5" fill="#A72B5E"/>
<rect x="510" y="570" width="31.5" height="61.5" fill="#701C98"/>
<rect x="540" y="570" width="31.5" height="61.5" fill="#BE3048"/>
<rect x="570" y="570" width="61.5" height="61.5" fill="#701C98"/>
<rect x="630" y="570" width="61.5" height="61.5" fill="#701C98"/>
<rect x="690" y="570" width="61.5" height="61.5" fill="#701C98"/>
<rect x="750" y="570" width="61.5" height="61.5" fill="#8D247A"/>
<rect x="810" y="570" width="31.5" height="61.5" fill="#A72B5E"/>
<rect x="210" y="630" width="61.5" height="61.5" fill="#EE5C2C"/>
<rect x="270" y="630" width="61.5" height="61.5" fill="#E13D2C"/>
<rect x="330" y="630" width="61.5" height="61.5" fill="#D23636"/>
<rect x="390" y="630" width="61.5" height="61.5" fill="#A72B5E"/>
<rect x="450" y="630" width="61.5" height="61.5" fill="#BE3048"/>
<rect x="510" y="630" width="31.5" height="61.5" fill="#BE3048"/>
<rect x="540" y="630" width="31.5" height="61.5" fill="#3A0FD4"/>
<rect x="570" y="630" width="61.5" height="61.5" fill="#701C98"/>
<rect x="630" y="630" width="61.5" height="61.5" fill="#701C98"/>
<rect x="690" y="630" width="61.5" height="61.5" fill="#8D247A"/>
<rect x="750" y="630" width="61.5" height="61.5" fill="#8D247A"/>
<rect x="210" y="690" width="61.5" height="61.5" fill="#EE5C2C"/>
<rect x="270" y="690" width="61.5" height="61.5" fill="#A72B5E"/>
<rect x="330" y="690" width="61.5" height="61.5" fill="#E13D2C"/>
<rect x="390" y="690" width="61.5" height="61.5" fill="#E13D2C"/>
<rect x="450" y="690" width="61.5" height="61.5" fill="#EC4A2A"/>
<rect x="510" y="690" width="31.5" height="61.5" fill="#EC4A2A"/>
<rect x="540" y="690" width="31.5" height="61.5" fill="#5216B6"/>
<rect x="570" y="690" width="61.5" height="61.5" fill="#701C98"/>
<rect x="630" y="690" width="61.5" height="61.5" fill="#BE3048"/>
<rect x="210" y="750" width="61.5" height="61.5" fill="#EE5C2C"/>
<rect x="270" y="750" width="61.5" height="61.5" fill="#E13D2C"/>
<rect x="330" y="750" width="61.5" height="61.5" fill="#E13D2C"/>
<rect x="390" y="750" width="61.5" height="61.5" fill="#E13D2C"/>
<rect x="450" y="750" width="61.5" height="61.5" fill="#EC4A2A"/>
<rect x="510" y="750" width="31.5" height="61.5" fill="#EC4A2A"/>
<rect x="540" y="750" width="31.5" height="61.5" fill="#5216B6"/>
<rect x="570" y="750" width="61.5" height="61.5" fill="#5216B6"/>
<rect x="630" y="750" width="61.5" height="61.5" fill="#BE3048"/>
<rect x="210" y="810" width="61.5" height="61.5" fill="#F8C546"/>
<rect x="270" y="810" width="61.5" height="61.5" fill="#F18637"/>
<rect x="330" y="810" width="61.5" height="61.5" fill="#EF7031"/>
<rect x="390" y="810" width="61.5" height="61.5" fill="#EE5C2C"/>
<rect x="450" y="810" width="61.5" height="61.5" fill="#F39B3E"/>
<rect x="510" y="810" width="31.5" height="61.5" fill="#F18637"/>
<rect x="540" y="810" width="31.5" height="61.5" fill="#701C98"/>
<rect x="570" y="810" width="61.5" height="61.5" fill="#8D247A"/>
<rect x="540" y="870" width="31.5" height="61.5" fill="#A72B5E"/>
</g>
<path d="M910,0 C860,50 790,100 700,160 C640,200 590,235 545,255" fill="none" stroke="#33310a" stroke-width="6" stroke-linecap="round"/>
<path d="M0,335 C70,375 150,440 200,490 L245,545" fill="none" stroke="#33310a" stroke-width="6" stroke-linecap="round"/>
<path d="M810,550 C840,600 900,655 970,710 C1010,738 1050,765 1080,780" fill="none" stroke="#33310a" stroke-width="6" stroke-linecap="round"/>
<path d="M0,990 C90,1010 200,995 320,940 C400,900 470,850 540,830" fill="none" stroke="#33310a" stroke-width="6" stroke-linecap="round"/>
</svg>
<div class="lbl" style="left:459px;top:656.9px">e - e′</div>
<svg class="hm" style="left:774px;top:446px" width="187" height="187" viewBox="0 0 1080 1080">
<rect width="1080" height="1080" fill="#FFFB55"/>
<filter id="hb" x="0" y="0" width="100%" height="100%"><feGaussianBlur stdDeviation="2.5"/></filter><g filter="url(#hb)" shape-rendering="crispEdges">
<rect x="330" y="150" width="61.5" height="61.5" fill="#FDEB4E"/>
<rect x="390" y="150" width="61.5" height="61.5" fill="#F8C546"/>
<rect x="450" y="150" width="61.5" height="61.5" fill="#EE5C2C"/>
<rect x="510" y="150" width="31.5" height="61.5" fill="#EE5C2C"/>
<rect x="570" y="150" width="61.5" height="61.5" fill="#FDEB4E"/>
<rect x="630" y="150" width="61.5" height="61.5" fill="#FBDB4A"/>
<rect x="690" y="150" width="61.5" height="61.5" fill="#F8C546"/>
<rect x="750" y="150" width="61.5" height="61.5" fill="#FBDB4A"/>
<rect x="810" y="150" width="61.5" height="61.5" fill="#FBDB4A"/>
<rect x="270" y="210" width="61.5" height="61.5" fill="#F8C546"/>
<rect x="330" y="210" width="61.5" height="61.5" fill="#F5B042"/>
<rect x="390" y="210" width="61.5" height="61.5" fill="#F18637"/>
<rect x="450" y="210" width="61.5" height="61.5" fill="#EE5C2C"/>
<rect x="510" y="210" width="31.5" height="61.5" fill="#EE5C2C"/>
<rect x="570" y="210" width="61.5" height="61.5" fill="#F8C546"/>
<rect x="630" y="210" width="61.5" height="61.5" fill="#F18637"/>
<rect x="690" y="210" width="61.5" height="61.5" fill="#EE5C2C"/>
<rect x="750" y="210" width="61.5" height="61.5" fill="#EF7031"/>
<rect x="810" y="210" width="61.5" height="61.5" fill="#F39B3E"/>
<rect x="870" y="210" width="61.5" height="61.5" fill="#F5B042"/>
<rect x="270" y="270" width="61.5" height="61.5" fill="#F18637"/>
<rect x="330" y="270" width="61.5" height="61.5" fill="#F18637"/>
<rect x="390" y="270" width="61.5" height="61.5" fill="#EC4A2A"/>
<rect x="450" y="270" width="61.5" height="61.5" fill="#E13D2C"/>
<rect x="510" y="270" width="31.5" height="61.5" fill="#EC4A2A"/>
<rect x="540" y="270" width="31.5" height="61.5" fill="#F8C546"/>
<rect x="570" y="270" width="61.5" height="61.5" fill="#EE5C2C"/>
<rect x="630" y="270" width="61.5" height="61.5" fill="#EC4A2A"/>
<rect x="690" y="270" width="61.5" height="61.5" fill="#E13D2C"/>
<rect x="750" y="270" width="61.5" height="61.5" fill="#EC4A2A"/>
<rect x="810" y="270" width="61.5" height="61.5" fill="#EF7031"/>
<rect x="870" y="270" width="61.5" height="61.5" fill="#F18637"/>
<rect x="930" y="270" width="61.5" height="61.5" fill="#FBDB4A"/>
<rect x="270" y="330" width="61.5" height="61.5" fill="#F8C546"/>
<rect x="330" y="330" width="61.5" height="61.5" fill="#EC4A2A"/>
<rect x="390" y="330" width="61.5" height="61.5" fill="#FFFDC0"/>
<rect x="450" y="330" width="61.5" height="61.5" fill="#E13D2C"/>
<rect x="510" y="330" width="31.5" height="61.5" fill="#EC4A2A"/>
<rect x="540" y="330" width="31.5" height="61.5" fill="#D23636"/>
<rect x="570" y="330" width="61.5" height="61.5" fill="#D23636"/>
<rect x="630" y="330" width="61.5" height="61.5" fill="#D23636"/>
<rect x="690" y="330" width="61.5" height="61.5" fill="#D23636"/>
<rect x="750" y="330" width="61.5" height="61.5" fill="#E13D2C"/>
<rect x="810" y="330" width="61.5" height="61.5" fill="#EC4A2A"/>
<rect x="870" y="330" width="61.5" height="61.5" fill="#F39B3E"/>
<rect x="930" y="330" width="61.5" height="61.5" fill="#F8C546"/>
<rect x="330" y="390" width="61.5" height="61.5" fill="#EE5C2C"/>
<rect x="390" y="390" width="61.5" height="61.5" fill="#A72B5E"/>
<rect x="450" y="390" width="61.5" height="61.5" fill="#A72B5E"/>
<rect x="510" y="390" width="31.5" height="61.5" fill="#D23636"/>
<rect x="540" y="390" width="31.5" height="61.5" fill="#5216B6"/>
<rect x="570" y="390" width="61.5" height="61.5" fill="#5216B6"/>
<rect x="630" y="390" width="61.5" height="61.5" fill="#8D247A"/>
<rect x="690" y="390" width="61.5" height="61.5" fill="#E13D2C"/>
<rect x="750" y="390" width="61.5" height="61.5" fill="#EC4A2A"/>
<rect x="810" y="390" width="61.5" height="61.5" fill="#F18637"/>
<rect x="870" y="390" width="61.5" height="61.5" fill="#F5B042"/>
<rect x="930" y="390" width="61.5" height="61.5" fill="#FBDB4A"/>
<rect x="330" y="450" width="61.5" height="61.5" fill="#EC4A2A"/>
<rect x="390" y="450" width="61.5" height="61.5" fill="#EF7031"/>
<rect x="450" y="450" width="61.5" height="61.5" fill="#8D247A"/>
<rect x="510" y="450" width="61.5" height="61.5" fill="#BE3048"/>
<rect x="570" y="450" width="61.5" height="61.5" fill="#A72B5E"/>
<rect x="630" y="450" width="61.5" height="61.5" fill="#BE3048"/>
<rect x="690" y="450" width="61.5" height="61.5" fill="#D23636"/>
<rect x="750" y="450" width="61.5" height="61.5" fill="#EC4A2A"/>
<rect x="810" y="450" width="61.5" height="61.5" fill="#EC4A2A"/>
<rect x="870" y="450" width="61.5" height="61.5" fill="#F39B3E"/>
<rect x="930" y="450" width="61.5" height="61.5" fill="#F5B042"/>
<rect x="330" y="510" width="61.5" height="31.5" fill="#EE5C2C"/>
<rect x="390" y="510" width="61.5" height="61.5" fill="#701C98"/>
<rect x="450" y="510" width="61.5" height="61.5" fill="#E13D2C"/>
<rect x="510" y="510" width="61.5" height="61.5" fill="#D23636"/>
<rect x="570" y="510" width="61.5" height="61.5" fill="#BE3048"/>
<rect x="630" y="510" width="61.5" height="31.5" fill="#D23636"/>
<rect x="630" y="540" width="61.5" height="31.5" fill="#8D247A"/>
<rect x="690" y="510" width="61.5" height="31.5" fill="#E13D2C"/>
<rect x="690" y="540" width="61.5" height="31.5" fill="#8D247A"/>
<rect x="750" y="510" width="61.5" height="31.5" fill="#EF7031"/>
<rect x="750" y="540" width="61.5" height="31.5" fill="#EE5C2C"/>
<rect x="810" y="510" width="61.5" height="31.5" fill="#EE5C2C"/>
<rect x="870" y="510" width="61.5" height="31.5" fill="#EE5C2C"/>
<rect x="360" y="570" width="31.5" height="61.5" fill="#EC4A2A"/>
<rect x="390" y="570" width="61.5" height="61.5" fill="#E13D2C"/>
<rect x="450" y="570" width="61.5" height="61.5" fill="#E13D2C"/>
<rect x="510" y="570" width="31.5" height="61.5" fill="#E13D2C"/>
<rect x="540" y="570" width="31.5" height="61.5" fill="#8D247A"/>
<rect x="570" y="570" width="61.5" height="61.5" fill="#A72B5E"/>
<rect x="630" y="570" width="61.5" height="61.5" fill="#8D247A"/>
<rect x="690" y="570" width="61.5" height="61.5" fill="#8D247A"/>
<rect x="750" y="570" width="61.5" height="61.5" fill="#EC4A2A"/>
<rect x="810" y="570" width="61.5" height="61.5" fill="#F5B042"/>
<rect x="870" y="570" width="61.5" height="61.5" fill="#FDEB4E"/>
<rect x="300" y="630" width="31.5" height="61.5" fill="#F18637"/>
<rect x="330" y="630" width="61.5" height="61.5" fill="#EF7031"/>
<rect x="390" y="630" width="61.5" height="61.5" fill="#E13D2C"/>
<rect x="450" y="630" width="61.5" height="61.5" fill="#E13D2C"/>
<rect x="510" y="630" width="31.5" height="61.5" fill="#E13D2C"/>
<rect x="540" y="630" width="31.5" height="61.5" fill="#BE3048"/>
<rect x="570" y="630" width="61.5" height="61.5" fill="#BE3048"/>
<rect x="630" y="630" width="61.5" height="61.5" fill="#BE3048"/>
<rect x="690" y="630" width="61.5" height="61.5" fill="#701C98"/>
<rect x="750" y="630" width="61.5" height="61.5" fill="#BE3048"/>
<rect x="810" y="630" width="61.5" height="61.5" fill="#EC4A2A"/>
<rect x="870" y="630" width="61.5" height="61.5" fill="#F8C546"/>
<rect x="270" y="690" width="61.5" height="61.5" fill="#FBDB4A"/>
<rect x="330" y="690" width="61.5" height="61.5" fill="#FDEB4E"/>
<rect x="390" y="690" width="61.5" height="61.5" fill="#F39B3E"/>
<rect x="450" y="690" width="61.5" height="61.5" fill="#F39B3E"/>
<rect x="510" y="690" width="31.5" height="61.5" fill="#EE5C2C"/>
<rect x="540" y="690" width="31.5" height="61.5" fill="#8D247A"/>
<rect x="570" y="690" width="61.5" height="31.5" fill="#BE3048"/>
<rect x="570" y="720" width="61.5" height="31.5" fill="#EC4A2A"/>
<rect x="630" y="690" width="61.5" height="61.5" fill="#EE5C2C"/>
<rect x="690" y="690" width="61.5" height="61.5" fill="#F5B042"/>
<rect x="750" y="690" width="61.5" height="61.5" fill="#FFFDC0"/>
<rect x="810" y="690" width="61.5" height="61.5" fill="#E13D2C"/>
<rect x="870" y="690" width="61.5" height="61.5" fill="#F18637"/>
<rect x="540" y="750" width="31.5" height="61.5" fill="#EC4A2A"/>
<rect x="570" y="750" width="61.5" height="61.5" fill="#EF7031"/>
<rect x="630" y="750" width="61.5" height="61.5" fill="#FBDB4A"/>
<rect x="870" y="750" width="61.5" height="31.5" fill="#E13D2C"/>
<rect x="930" y="750" width="61.5" height="61.5" fill="#FBDB4A"/>
<rect x="540" y="810" width="31.5" height="61.5" fill="#EC4A2A"/>
<rect x="570" y="810" width="61.5" height="61.5" fill="#F39B3E"/>
<rect x="540" y="870" width="31.5" height="61.5" fill="#F5B042"/>
</g>
<path d="M0,200 C90,215 180,255 270,320 C330,365 390,395 440,397 C480,397 510,388 540,385" fill="none" stroke="#33310a" stroke-width="6" stroke-linecap="round"/>
<path d="M1080,250 C1000,275 900,335 815,415 C770,460 735,510 720,545" fill="none" stroke="#33310a" stroke-width="6" stroke-linecap="round"/>
<path d="M0,840 C100,805 200,755 285,690 C335,650 365,590 380,545" fill="none" stroke="#33310a" stroke-width="6" stroke-linecap="round"/>
<path d="M545,745 C600,715 660,690 720,700 C790,725 860,775 930,798 C990,812 1040,820 1080,825" fill="none" stroke="#33310a" stroke-width="6" stroke-linecap="round"/>
</svg>
<div class="lbl" style="left:774px;top:656.9px">f - f′</div>
<svg class="hm" style="left:144px;top:761px" width="187" height="187" viewBox="0 0 1080 1080">
<rect width="1080" height="1080" fill="#FFFB55"/>
<filter id="hb" x="0" y="0" width="100%" height="100%"><feGaussianBlur stdDeviation="2.5"/></filter><g filter="url(#hb)" shape-rendering="crispEdges">
<rect x="270" y="30" width="61.5" height="61.5" fill="#FBDB4A"/>
<rect x="330" y="30" width="61.5" height="61.5" fill="#FBDB4A"/>
<rect x="390" y="30" width="61.5" height="61.5" fill="#FBDB4A"/>
<rect x="210" y="90" width="61.5" height="61.5" fill="#FBDB4A"/>
<rect x="270" y="90" width="61.5" height="61.5" fill="#F39B3E"/>
<rect x="330" y="90" width="61.5" height="61.5" fill="#EE5C2C"/>
<rect x="390" y="90" width="61.5" height="61.5" fill="#EE5C2C"/>
<rect x="450" y="90" width="61.5" height="61.5" fill="#EC4A2A"/>
<rect x="510" y="90" width="31.5" height="61.5" fill="#EC4A2A"/>
<rect x="540" y="90" width="31.5" height="61.5" fill="#FDEB4E"/>
<rect x="570" y="90" width="61.5" height="61.5" fill="#FDEB4E"/>
<rect x="630" y="90" width="61.5" height="61.5" fill="#F5B042"/>
<rect x="690" y="90" width="61.5" height="61.5" fill="#F5B042"/>
<rect x="750" y="90" width="61.5" height="61.5" fill="#F5B042"/>
<rect x="810" y="90" width="61.5" height="61.5" fill="#F8C546"/>
<rect x="870" y="90" width="61.5" height="61.5" fill="#FDEB4E"/>
<rect x="210" y="150" width="61.5" height="61.5" fill="#EE5C2C"/>
<rect x="270" y="150" width="61.5" height="61.5" fill="#EC4A2A"/>
<rect x="330" y="150" width="61.5" height="61.5" fill="#D23636"/>
<rect x="390" y="150" width="61.5" height="61.5" fill="#D23636"/>
<rect x="450" y="150" width="61.5" height="61.5" fill="#BE3048"/>
<rect x="510" y="150" width="31.5" height="61.5" fill="#8D247A"/>
<rect x="540" y="150" width="31.5" height="61.5" fill="#FBDB4A"/>
<rect x="570" y="150" width="61.5" height="61.5" fill="#EE5C2C"/>
<rect x="630" y="150" width="61.5" height="61.5" fill="#EC4A2A"/>
<rect x="690" y="150" width="61.5" height="61.5" fill="#E13D2C"/>
<rect x="750" y="150" width="61.5" height="61.5" fill="#EC4A2A"/>
<rect x="810" y="150" width="61.5" height="61.5" fill="#EE5C2C"/>
<rect x="870" y="150" width="61.5" height="61.5" fill="#F39B3E"/>
<rect x="210" y="210" width="61.5" height="61.5" fill="#EC4A2A"/>
<rect x="270" y="210" width="61.5" height="61.5" fill="#E13D2C"/>
<rect x="330" y="210" width="61.5" height="61.5" fill="#D23636"/>
<rect x="390" y="210" width="61.5" height="61.5" fill="#BE3048"/>
<rect x="450" y="210" width="61.5" height="61.5" fill="#D23636"/>
<rect x="510" y="210" width="61.5" height="61.5" fill="#E13D2C"/>
<rect x="570" y="210" width="61.5" height="61.5" fill="#E13D2C"/>
<rect x="630" y="210" width="61.5" height="61.5" fill="#D23636"/>
<rect x="690" y="210" width="61.5" height="61.5" fill="#D23636"/>
<rect x="750" y="210" width="61.5" height="61.5" fill="#D23636"/>
<rect x="810" y="210" width="61.5" height="61.5" fill="#E13D2C"/>
<rect x="870" y="210" width="61.5" height="61.5" fill="#E13D2C"/>
<rect x="930" y="210" width="61.5" height="61.5" fill="#F8C546"/>
<rect x="210" y="270" width="61.5" height="61.5" fill="#EF7031"/>
<rect x="270" y="270" width="61.5" height="61.5" fill="#E13D2C"/>
<rect x="330" y="270" width="61.5" height="61.5" fill="#8D247A"/>
<rect x="390" y="270" width="61.5" height="61.5" fill="#701C98"/>
<rect x="450" y="270" width="61.5" height="61.5" fill="#8D247A"/>
<rect x="510" y="270" width="61.5" height="61.5" fill="#D23636"/>
<rect x="570" y="270" width="61.5" height="61.5" fill="#A72B5E"/>
<rect x="630" y="270" width="61.5" height="61.5" fill="#A72B5E"/>
<rect x="690" y="270" width="61.5" height="61.5" fill="#BE3048"/>
<rect x="750" y="270" width="61.5" height="61.5" fill="#A72B5E"/>
<rect x="810" y="270" width="61.5" height="61.5" fill="#BE3048"/>
<rect x="870" y="270" width="61.5" height="61.5" fill="#E13D2C"/>
<rect x="930" y="270" width="61.5" height="61.5" fill="#F39B3E"/>
<rect x="210" y="330" width="61.5" height="61.5" fill="#EF7031"/>
<rect x="270" y="330" width="61.5" height="61.5" fill="#A72B5E"/>
<rect x="330" y="330" width="61.5" height="61.5" fill="#8D247A"/>
<rect x="390" y="330" width="61.5" height="61.5" fill="#8D247A"/>
<rect x="450" y="330" width="61.5" height="61.5" fill="#701C98"/>
<rect x="510" y="330" width="31.5" height="61.5" fill="#BE3048"/>
<rect x="540" y="330" width="31.5" height="61.5" fill="#5216B6"/>
<rect x="570" y="330" width="61.5" height="61.5" fill="#701C98"/>
<rect x="630" y="330" width="61.5" height="61.5" fill="#701C98"/>
<rect x="690" y="330" width="61.5" height="61.5" fill="#BE3048"/>
<rect x="750" y="330" width="61.5" height="61.5" fill="#A72B5E"/>
<rect x="810" y="330" width="61.5" height="61.5" fill="#A72B5E"/>
<rect x="870" y="330" width="61.5" height="61.5" fill="#D23636"/>
<rect x="930" y="330" width="61.5" height="61.5" fill="#EE5C2C"/>
<rect x="990" y="330" width="61.5" height="61.5" fill="#F8C546"/>
<rect x="210" y="390" width="61.5" height="61.5" fill="#F8C546"/>
<rect x="270" y="390" width="61.5" height="61.5" fill="#E13D2C"/>
<rect x="330" y="390" width="61.5" height="61.5" fill="#8D247A"/>
<rect x="390" y="390" width="61.5" height="61.5" fill="#D23636"/>
<rect x="450" y="390" width="61.5" height="61.5" fill="#701C98"/>
<rect x="510" y="390" width="61.5" height="61.5" fill="#5216B6"/>
<rect x="570" y="390" width="61.5" height="61.5" fill="#5216B6"/>
<rect x="630" y="390" width="61.5" height="61.5" fill="#8D247A"/>
<rect x="690" y="390" width="61.5" height="61.5" fill="#A72B5E"/>
<rect x="750" y="390" width="61.5" height="61.5" fill="#D23636"/>
<rect x="810" y="390" width="61.5" height="61.5" fill="#A72B5E"/>
<rect x="870" y="390" width="61.5" height="61.5" fill="#D23636"/>
<rect x="930" y="390" width="61.5" height="61.5" fill="#EC4A2A"/>
<rect x="990" y="390" width="61.5" height="61.5" fill="#FDEB4E"/>
<rect x="270" y="450" width="61.5" height="61.5" fill="#F18637"/>
<rect x="330" y="450" width="61.5" height="61.5" fill="#8D247A"/>
<rect x="390" y="450" width="61.5" height="61.5" fill="#D23636"/>
<rect x="450" y="450" width="61.5" height="61.5" fill="#701C98"/>
<rect x="510" y="450" width="61.5" height="61.5" fill="#8D247A"/>
<rect x="570" y="450" width="61.5" height="61.5" fill="#D23636"/>
<rect x="630" y="450" width="61.5" height="61.5" fill="#8D247A"/>
<rect x="690" y="450" width="61.5" height="61.5" fill="#A72B5E"/>
<rect x="750" y="450" width="61.5" height="61.5" fill="#A72B5E"/>
<rect x="810" y="450" width="61.5" height="61.5" fill="#A72B5E"/>
<rect x="870" y="450" width="61.5" height="61.5" fill="#BE3048"/>
<rect x="270" y="510" width="61.5" height="31.5" fill="#F18637"/>
<rect x="270" y="540" width="61.5" height="31.5" fill="#8D247A"/>
<rect x="330" y="510" width="61.5" height="61.5" fill="#A72B5E"/>
<rect x="390" y="510" width="61.5" height="61.5" fill="#5216B6"/>
<rect x="450" y="510" width="61.5" height="31.5" fill="#E13D2C"/>
<rect x="450" y="540" width="61.5" height="31.5" fill="#8D247A"/>
<rect x="510" y="510" width="61.5" height="61.5" fill="#D23636"/>
<rect x="570" y="510" width="61.5" height="31.5" fill="#5216B6"/>
<rect x="570" y="540" width="61.5" height="31.5" fill="#701C98"/>
<rect x="630" y="510" width="61.5" height="31.5" fill="#E13D2C"/>
<rect x="630" y="540" width="61.5" height="31.5" fill="#701C98"/>
<rect x="690" y="510" width="61.5" height="31.5" fill="#E13D2C"/>
<rect x="690" y="540" width="61.5" height="31.5" fill="#701C98"/>
<rect x="750" y="510" width="61.5" height="61.5" fill="#E13D2C"/>
<rect x="810" y="510" width="61.5" height="31.5" fill="#EC4A2A"/>
<rect x="810" y="540" width="61.5" height="31.5" fill="#F18637"/>
<rect x="870" y="510" width="61.5" height="31.5" fill="#BE3048"/>
<rect x="870" y="540" width="61.5" height="31.5" fill="#F8C546"/>
<rect x="210" y="570" width="61.5" height="61.5" fill="#EE5C2C"/>
<rect x="270" y="570" width="61.5" height="61.5" fill="#E13D2C"/>
<rect x="330" y="570" width="61.5" height="61.5" fill="#A72B5E"/>
<rect x="390" y="570" width="61.5" height="61.5" fill="#5216B6"/>
<rect x="450" y="570" width="61.5" height="61.5" fill="#BE3048"/>
<rect x="510" y="570" width="61.5" height="61.5" fill="#BE3048"/>
<rect x="570" y="570" width="61.5" height="61.5" fill="#E13D2C"/>
<rect x="630" y="570" width="61.5" height="61.5" fill="#BE3048"/>
<rect x="690" y="570" width="61.5" height="61.5" fill="#A72B5E"/>
<rect x="750" y="570" width="61.5" height="61.5" fill="#BE3048"/>
<rect x="810" y="570" width="61.5" height="61.5" fill="#EC4A2A"/>
<rect x="870" y="570" width="61.5" height="61.5" fill="#F39B3E"/>
<rect x="930" y="570" width="61.5" height="61.5" fill="#FBDB4A"/>
<rect x="210" y="630" width="61.5" height="61.5" fill="#EE5C2C"/>
<rect x="270" y="630" width="61.5" height="61.5" fill="#EC4A2A"/>
<rect x="330" y="630" width="61.5" height="61.5" fill="#D23636"/>
<rect x="390" y="630" width="61.5" height="61.5" fill="#701C98"/>
<rect x="450" y="630" width="61.5" height="61.5" fill="#D23636"/>
<rect x="510" y="630" width="61.5" height="61.5" fill="#BE3048"/>
<rect x="570" y="630" width="61.5" height="61.5" fill="#E13D2C"/>
<rect x="630" y="630" width="61.5" height="61.5" fill="#D23636"/>
<rect x="690" y="630" width="61.5" height="61.5" fill="#8D247A"/>
<rect x="870" y="630" width="61.5" height="61.5" fill="#EF7031"/>
<rect x="930" y="630" width="61.5" height="61.5" fill="#FDEB4E"/>
<rect x="210" y="690" width="61.5" height="61.5" fill="#F8C546"/>
<rect x="270" y="690" width="61.5" height="61.5" fill="#EF7031"/>
<rect x="330" y="690" width="61.5" height="61.5" fill="#F39B3E"/>
<rect x="390" y="690" width="61.5" height="61.5" fill="#E13D2C"/>
<rect x="450" y="690" width="61.5" height="61.5" fill="#E13D2C"/>
<rect x="510" y="690" width="31.5" height="61.5" fill="#EC4A2A"/>
<rect x="540" y="690" width="31.5" height="61.5" fill="#8D247A"/>
<rect x="570" y="690" width="61.5" height="61.5" fill="#A72B5E"/>
<rect x="630" y="690" width="61.5" height="61.5" fill="#D23636"/>
<rect x="930" y="690" width="61.5" height="61.5" fill="#F8C546"/>
<rect x="210" y="750" width="61.5" height="61.5" fill="#F5B042"/>
<rect x="270" y="750" width="61.5" height="61.5" fill="#F18637"/>
<rect x="330" y="750" width="61.5" height="61.5" fill="#EE5C2C"/>
<rect x="390" y="750" width="61.5" height="61.5" fill="#EE5C2C"/>
<rect x="450" y="750" width="61.5" height="61.5" fill="#EF7031"/>
<rect x="510" y="750" width="31.5" height="61.5" fill="#EF7031"/>
<rect x="540" y="750" width="31.5" height="61.5" fill="#701C98"/>
<rect x="570" y="750" width="61.5" height="61.5" fill="#701C98"/>
<rect x="630" y="750" width="61.5" height="61.5" fill="#D23636"/>
<rect x="540" y="810" width="31.5" height="61.5" fill="#A72B5E"/>
<rect x="570" y="810" width="61.5" height="61.5" fill="#D23636"/>
<rect x="540" y="870" width="31.5" height="61.5" fill="#EE5C2C"/>
</g>
<path d="M725,0 C660,30 600,80 565,125 L540,165" fill="none" stroke="#33310a" stroke-width="6" stroke-linecap="round"/>
<path d="M0,385 C30,440 80,500 120,522 L155,540" fill="none" stroke="#33310a" stroke-width="6" stroke-linecap="round"/>
<path d="M890,540 C950,558 1010,578 1050,603 L1080,630" fill="none" stroke="#33310a" stroke-width="6" stroke-linecap="round"/>
<path d="M545,880 C520,925 515,960 515,1000 L515,1080" fill="none" stroke="#33310a" stroke-width="6" stroke-linecap="round"/>
</svg>
<div class="lbl" style="left:144px;top:971.9px">a - a′</div>
<svg class="hm" style="left:459px;top:761px" width="187" height="187" viewBox="0 0 1080 1080">
<rect width="1080" height="1080" fill="#FFFB55"/>
<filter id="hb" x="0" y="0" width="100%" height="100%"><feGaussianBlur stdDeviation="2.5"/></filter><g filter="url(#hb)" shape-rendering="crispEdges">
<rect x="270" y="90" width="61.5" height="61.5" fill="#F39B3E"/>
<rect x="330" y="90" width="61.5" height="61.5" fill="#EE5C2C"/>
<rect x="390" y="90" width="61.5" height="61.5" fill="#F39B3E"/>
<rect x="450" y="90" width="61.5" height="61.5" fill="#F39B3E"/>
<rect x="510" y="90" width="31.5" height="61.5" fill="#F18637"/>
<rect x="540" y="90" width="31.5" height="61.5" fill="#FBDB4A"/>
<rect x="570" y="90" width="61.5" height="61.5" fill="#FBDB4A"/>
<rect x="270" y="150" width="61.5" height="61.5" fill="#F18637"/>
<rect x="330" y="150" width="61.5" height="61.5" fill="#EC4A2A"/>
<rect x="390" y="150" width="61.5" height="61.5" fill="#EC4A2A"/>
<rect x="450" y="150" width="61.5" height="61.5" fill="#EC4A2A"/>
<rect x="510" y="150" width="31.5" height="61.5" fill="#E13D2C"/>
<rect x="540" y="150" width="31.5" height="61.5" fill="#F39B3E"/>
<rect x="570" y="150" width="61.5" height="61.5" fill="#F39B3E"/>
<rect x="630" y="150" width="61.5" height="61.5" fill="#F39B3E"/>
<rect x="690" y="150" width="61.5" height="61.5" fill="#F18637"/>
<rect x="750" y="150" width="61.5" height="61.5" fill="#F5B042"/>
<rect x="810" y="150" width="61.5" height="61.5" fill="#F39B3E"/>
<rect x="870" y="150" width="61.5" height="61.5" fill="#F8C546"/>
<rect x="210" y="210" width="61.5" height="61.5" fill="#FBDB4A"/>
<rect x="270" y="210" width="61.5" height="61.5" fill="#EE5C2C"/>
<rect x="330" y="210" width="61.5" height="61.5" fill="#EC4A2A"/>
<rect x="390" y="210" width="61.5" height="61.5" fill="#E13D2C"/>
<rect x="450" y="210" width="61.5" height="61.5" fill="#EC4A2A"/>
<rect x="510" y="210" width="31.5" height="61.5" fill="#E13D2C"/>
<rect x="540" y="210" width="31.5" height="61.5" fill="#EE5C2C"/>
<rect x="570" y="210" width="61.5" height="61.5" fill="#EC4A2A"/>
<rect x="630" y="210" width="61.5" height="61.5" fill="#EC4A2A"/>
<rect x="690" y="210" width="61.5" height="61.5" fill="#EC4A2A"/>
<rect x="750" y="210" width="61.5" height="61.5" fill="#EC4A2A"/>
<rect x="810" y="210" width="61.5" height="61.5" fill="#F18637"/>
<rect x="870" y="210" width="61.5" height="61.5" fill="#F5B042"/>
<rect x="930" y="210" width="61.5" height="61.5" fill="#FBDB4A"/>
<rect x="210" y="270" width="61.5" height="61.5" fill="#F8C546"/>
<rect x="270" y="270" width="61.5" height="61.5" fill="#EE5C2C"/>
<rect x="330" y="270" width="61.5" height="61.5" fill="#E13D2C"/>
<rect x="390" y="270" width="61.5" height="61.5" fill="#EE5C2C"/>
<rect x="450" y="270" width="61.5" height="61.5" fill="#D23636"/>
<rect x="510" y="270" width="31.5" height="61.5" fill="#D23636"/>
<rect x="540" y="270" width="31.5" height="61.5" fill="#BE3048"/>
<rect x="570" y="270" width="61.5" height="61.5" fill="#BE3048"/>
<rect x="630" y="270" width="61.5" height="61.5" fill="#A72B5E"/>
<rect x="690" y="270" width="61.5" height="61.5" fill="#E13D2C"/>
<rect x="750" y="270" width="61.5" height="61.5" fill="#E13D2C"/>
<rect x="810" y="270" width="61.5" height="61.5" fill="#EE5C2C"/>
<rect x="870" y="270" width="61.5" height="61.5" fill="#EC4A2A"/>
<rect x="930" y="270" width="61.5" height="61.5" fill="#F5B042"/>
<rect x="210" y="330" width="61.5" height="61.5" fill="#F8C546"/>
<rect x="270" y="330" width="61.5" height="61.5" fill="#EC4A2A"/>
<rect x="330" y="330" width="61.5" height="61.5" fill="#701C98"/>
<rect x="390" y="330" width="61.5" height="61.5" fill="#5216B6"/>
<rect x="450" y="330" width="61.5" height="61.5" fill="#D23636"/>
<rect x="510" y="330" width="31.5" height="61.5" fill="#EE5C2C"/>
<rect x="540" y="330" width="31.5" height="61.5" fill="#5216B6"/>
<rect x="570" y="330" width="61.5" height="61.5" fill="#5216B6"/>
<rect x="630" y="330" width="61.5" height="61.5" fill="#BE3048"/>
<rect x="690" y="330" width="61.5" height="61.5" fill="#EC4A2A"/>
<rect x="750" y="330" width="61.5" height="61.5" fill="#BE3048"/>
<rect x="810" y="330" width="61.5" height="61.5" fill="#A72B5E"/>
<rect x="870" y="330" width="61.5" height="61.5" fill="#EE5C2C"/>
<rect x="930" y="330" width="61.5" height="61.5" fill="#F8C546"/>
<rect x="270" y="390" width="61.5" height="61.5" fill="#EC4A2A"/>
<rect x="330" y="390" width="61.5" height="61.5" fill="#701C98"/>
<rect x="390" y="390" width="61.5" height="61.5" fill="#701C98"/>
<rect x="450" y="390" width="61.5" height="61.5" fill="#A72B5E"/>
<rect x="510" y="390" width="31.5" height="61.5" fill="#BE3048"/>
<rect x="540" y="390" width="31.5" height="61.5" fill="#5216B6"/>
<rect x="570" y="390" width="61.5" height="61.5" fill="#A72B5E"/>
<rect x="630" y="390" width="61.5" height="61.5" fill="#A72B5E"/>
<rect x="690" y="390" width="61.5" height="61.5" fill="#8D247A"/>
<rect x="750" y="390" width="61.5" height="61.5" fill="#EE5C2C"/>
<rect x="810" y="390" width="61.5" height="61.5" fill="#EC4A2A"/>
<rect x="870" y="390" width="61.5" height="61.5" fill="#EF7031"/>
<rect x="930" y="390" width="61.5" height="61.5" fill="#F8C546"/>
<rect x="300" y="450" width="31.5" height="61.5" fill="#EE5C2C"/>
<rect x="330" y="450" width="61.5" height="61.5" fill="#701C98"/>
<rect x="390" y="450" width="61.5" height="61.5" fill="#BE3048"/>
<rect x="450" y="450" width="61.5" height="61.5" fill="#D23636"/>
<rect x="510" y="450" width="31.5" height="61.5" fill="#D23636"/>
<rect x="540" y="450" width="31.5" height="61.5" fill="#701C98"/>
<rect x="570" y="450" width="61.5" height="61.5" fill="#EE5C2C"/>
<rect x="630" y="450" width="61.5" height="61.5" fill="#EC4A2A"/>
<rect x="690" y="450" width="61.5" height="61.5" fill="#EC4A2A"/>
<rect x="750" y="450" width="61.5" height="61.5" fill="#EE5C2C"/>
<rect x="810" y="450" width="61.5" height="61.5" fill="#BE3048"/>
<rect x="870" y="450" width="61.5" height="61.5" fill="#EF7031"/>
<rect x="270" y="540" width="61.5" height="31.5" fill="#E13D2C"/>
<rect x="330" y="510" width="61.5" height="31.5" fill="#3A0FD4"/>
<rect x="330" y="540" width="61.5" height="31.5" fill="#A72B5E"/>
<rect x="390" y="510" width="61.5" height="31.5" fill="#EC4A2A"/>
<rect x="390" y="540" width="61.5" height="31.5" fill="#A72B5E"/>
<rect x="450" y="510" width="61.5" height="31.5" fill="#EC4A2A"/>
<rect x="450" y="540" width="61.5" height="31.5" fill="#BE3048"/>
<rect x="510" y="510" width="61.5" height="31.5" fill="#EE5C2C"/>
<rect x="510" y="540" width="61.5" height="31.5" fill="#A72B5E"/>
<rect x="570" y="510" width="61.5" height="61.5" fill="#EC4A2A"/>
<rect x="630" y="510" width="61.5" height="31.5" fill="#EC4A2A"/>
<rect x="630" y="540" width="61.5" height="31.5" fill="#D23636"/>
<rect x="690" y="510" width="61.5" height="31.5" fill="#EE5C2C"/>
<rect x="690" y="540" width="61.5" height="31.5" fill="#701C98"/>
<rect x="750" y="510" width="61.5" height="31.5" fill="#EE5C2C"/>
<rect x="750" y="540" width="61.5" height="31.5" fill="#BE3048"/>
<rect x="810" y="510" width="61.5" height="31.5" fill="#EC4A2A"/>
<rect x="810" y="540" width="61.5" height="31.5" fill="#F18637"/>
<rect x="870" y="510" width="61.5" height="31.5" fill="#D23636"/>
<rect x="870" y="540" width="61.5" height="31.5" fill="#F39B3E"/>
<rect x="270" y="570" width="61.5" height="61.5" fill="#E13D2C"/>
<rect x="330" y="570" width="61.5" height="61.5" fill="#A72B5E"/>
<rect x="390" y="570" width="61.5" height="61.5" fill="#A72B5E"/>
<rect x="450" y="570" width="61.5" height="61.5" fill="#BE3048"/>
<rect x="510" y="570" width="61.5" height="61.5" fill="#A72B5E"/>
<rect x="570" y="570" width="61.5" height="61.5" fill="#BE3048"/>
<rect x="630" y="570" width="61.5" height="61.5" fill="#D23636"/>
<rect x="690" y="570" width="61.5" height="61.5" fill="#701C98"/>
<rect x="750" y="570" width="61.5" height="61.5" fill="#BE3048"/>
<rect x="810" y="570" width="61.5" height="61.5" fill="#F18637"/>
<rect x="870" y="570" width="61.5" height="61.5" fill="#F39B3E"/>
<rect x="270" y="630" width="61.5" height="61.5" fill="#EE5C2C"/>
<rect x="330" y="630" width="61.5" height="61.5" fill="#E13D2C"/>
<rect x="390" y="630" width="61.5" height="61.5" fill="#E13D2C"/>
<rect x="450" y="630" width="61.5" height="61.5" fill="#E13D2C"/>
<rect x="510" y="630" width="31.5" height="61.5" fill="#EC4A2A"/>
<rect x="540" y="630" width="31.5" height="61.5" fill="#BE3048"/>
<rect x="570" y="630" width="61.5" height="61.5" fill="#BE3048"/>
<rect x="630" y="630" width="61.5" height="61.5" fill="#A72B5E"/>
<rect x="690" y="630" width="61.5" height="61.5" fill="#EC4A2A"/>
<rect x="810" y="630" width="61.5" height="61.5" fill="#F39B3E"/>
<rect x="870" y="630" width="61.5" height="61.5" fill="#F5B042"/>
<rect x="270" y="690" width="61.5" height="61.5" fill="#F39B3E"/>
<rect x="330" y="690" width="61.5" height="61.5" fill="#F8C546"/>
<rect x="390" y="690" width="61.5" height="61.5" fill="#EF7031"/>
<rect x="450" y="690" width="61.5" height="61.5" fill="#BE3048"/>
<rect x="510" y="690" width="31.5" height="61.5" fill="#E13D2C"/>
<rect x="540" y="690" width="31.5" height="61.5" fill="#BE3048"/>
<rect x="570" y="690" width="61.5" height="61.5" fill="#BE3048"/>
<rect x="630" y="690" width="61.5" height="61.5" fill="#E13D2C"/>
<rect x="870" y="690" width="61.5" height="61.5" fill="#F39B3E"/>
<rect x="330" y="750" width="61.5" height="61.5" fill="#FBDB4A"/>
<rect x="390" y="750" width="61.5" height="61.5" fill="#FDEB4E"/>
<rect x="540" y="750" width="31.5" height="61.5" fill="#BE3048"/>
<rect x="570" y="750" width="61.5" height="61.5" fill="#A72B5E"/>
<rect x="630" y="750" width="61.5" height="61.5" fill="#E13D2C"/>
<rect x="540" y="810" width="31.5" height="61.5" fill="#D23636"/>
<rect x="570" y="810" width="61.5" height="61.5" fill="#D23636"/>
<rect x="540" y="870" width="31.5" height="61.5" fill="#F39B3E"/>
<rect x="570" y="870" width="61.5" height="61.5" fill="#F39B3E"/>
</g>
<path d="M1080,110 C980,115 880,160 780,210 C700,255 620,295 545,310" fill="none" stroke="#33310a" stroke-width="6" stroke-linecap="round"/>
<path d="M0,265 C80,320 170,390 260,450 C300,480 325,510 340,540" fill="none" stroke="#33310a" stroke-width="6" stroke-linecap="round"/>
<path d="M770,545 C810,610 880,690 960,750 C1000,775 1045,800 1080,810" fill="none" stroke="#33310a" stroke-width="6" stroke-linecap="round"/>
<path d="M0,975 C60,990 160,965 270,905 C360,840 450,765 540,735" fill="none" stroke="#33310a" stroke-width="6" stroke-linecap="round"/>
</svg>
<div class="lbl" style="left:459px;top:971.9px">b - b′</div>
<svg class="hm" style="left:774px;top:761px" width="187" height="187" viewBox="0 0 1080 1080">
<rect width="1080" height="1080" fill="#FFFB55"/>
<filter id="hb" x="0" y="0" width="100%" height="100%"><feGaussianBlur stdDeviation="2.5"/></filter><g filter="url(#hb)" shape-rendering="crispEdges">
<rect x="450" y="90" width="61.5" height="61.5" fill="#FDEB4E"/>
<rect x="720" y="90" width="31.5" height="61.5" fill="#F39B3E"/>
<rect x="750" y="90" width="61.5" height="61.5" fill="#F18637"/>
<rect x="810" y="90" width="61.5" height="61.5" fill="#F8C546"/>
<rect x="870" y="90" width="61.5" height="61.5" fill="#FBDB4A"/>
<rect x="270" y="150" width="61.5" height="61.5" fill="#F8C546"/>
<rect x="330" y="150" width="61.5" height="61.5" fill="#F8C546"/>
<rect x="390" y="150" width="61.5" height="61.5" fill="#F39B3E"/>
<rect x="450" y="150" width="61.5" height="61.5" fill="#EF7031"/>
<rect x="510" y="150" width="31.5" height="61.5" fill="#EC4A2A"/>
<rect x="660" y="150" width="31.5" height="61.5" fill="#E13D2C"/>
<rect x="690" y="150" width="61.5" height="61.5" fill="#EC4A2A"/>
<rect x="750" y="150" width="61.5" height="61.5" fill="#EC4A2A"/>
<rect x="810" y="150" width="61.5" height="61.5" fill="#F18637"/>
<rect x="870" y="150" width="61.5" height="61.5" fill="#F8C546"/>
<rect x="270" y="210" width="61.5" height="61.5" fill="#F8C546"/>
<rect x="330" y="210" width="61.5" height="61.5" fill="#EF7031"/>
<rect x="390" y="210" width="61.5" height="61.5" fill="#EF7031"/>
<rect x="450" y="210" width="61.5" height="61.5" fill="#EC4A2A"/>
<rect x="510" y="210" width="31.5" height="61.5" fill="#EC4A2A"/>
<rect x="540" y="210" width="31.5" height="61.5" fill="#D23636"/>
<rect x="570" y="210" width="61.5" height="61.5" fill="#BE3048"/>
<rect x="630" y="210" width="61.5" height="61.5" fill="#A72B5E"/>
<rect x="690" y="210" width="61.5" height="61.5" fill="#EC4A2A"/>
<rect x="750" y="210" width="61.5" height="61.5" fill="#EC4A2A"/>
<rect x="810" y="210" width="61.5" height="61.5" fill="#EE5C2C"/>
<rect x="870" y="210" width="61.5" height="61.5" fill="#F18637"/>
<rect x="930" y="210" width="61.5" height="61.5" fill="#FDEB4E"/>
<rect x="210" y="270" width="61.5" height="61.5" fill="#F39B3E"/>
<rect x="270" y="270" width="61.5" height="61.5" fill="#EC4A2A"/>
<rect x="330" y="270" width="61.5" height="61.5" fill="#EC4A2A"/>
<rect x="390" y="270" width="61.5" height="61.5" fill="#E13D2C"/>
<rect x="450" y="270" width="61.5" height="61.5" fill="#BE3048"/>
<rect x="510" y="270" width="31.5" height="61.5" fill="#EC4A2A"/>
<rect x="540" y="270" width="31.5" height="61.5" fill="#5216B6"/>
<rect x="570" y="270" width="61.5" height="61.5" fill="#5216B6"/>
<rect x="630" y="270" width="61.5" height="61.5" fill="#701C98"/>
<rect x="690" y="270" width="61.5" height="61.5" fill="#BE3048"/>
<rect x="750" y="270" width="61.5" height="61.5" fill="#EC4A2A"/>
<rect x="810" y="270" width="61.5" height="61.5" fill="#EF7031"/>
<rect x="870" y="270" width="61.5" height="61.5" fill="#F18637"/>
<rect x="930" y="270" width="61.5" height="61.5" fill="#FBDB4A"/>
<rect x="210" y="330" width="61.5" height="61.5" fill="#F39B3E"/>
<rect x="270" y="330" width="61.5" height="61.5" fill="#EC4A2A"/>
<rect x="330" y="330" width="61.5" height="61.5" fill="#EC4A2A"/>
<rect x="390" y="330" width="61.5" height="61.5" fill="#E13D2C"/>
<rect x="450" y="330" width="61.5" height="61.5" fill="#EF7031"/>
<rect x="510" y="330" width="31.5" height="61.5" fill="#EC4A2A"/>
<rect x="540" y="330" width="31.5" height="61.5" fill="#3A0FD4"/>
<rect x="570" y="330" width="61.5" height="61.5" fill="#D23636"/>
<rect x="630" y="330" width="61.5" height="61.5" fill="#BE3048"/>
<rect x="690" y="330" width="61.5" height="61.5" fill="#BE3048"/>
<rect x="750" y="330" width="61.5" height="61.5" fill="#EC4A2A"/>
<rect x="810" y="330" width="61.5" height="61.5" fill="#EF7031"/>
<rect x="870" y="330" width="61.5" height="61.5" fill="#F18637"/>
<rect x="930" y="330" width="61.5" height="61.5" fill="#FBDB4A"/>
<rect x="210" y="390" width="61.5" height="61.5" fill="#F18637"/>
<rect x="270" y="390" width="61.5" height="61.5" fill="#FFFDC0"/>
<rect x="330" y="390" width="61.5" height="61.5" fill="#FFFDC0"/>
<rect x="390" y="390" width="61.5" height="61.5" fill="#E13D2C"/>
<rect x="450" y="390" width="61.5" height="61.5" fill="#E13D2C"/>
<rect x="510" y="390" width="61.5" height="61.5" fill="#EE5C2C"/>
<rect x="570" y="390" width="61.5" height="61.5" fill="#EE5C2C"/>
<rect x="630" y="390" width="61.5" height="61.5" fill="#D23636"/>
<rect x="690" y="390" width="61.5" height="61.5" fill="#EC4A2A"/>
<rect x="750" y="390" width="61.5" height="61.5" fill="#EC4A2A"/>
<rect x="810" y="390" width="61.5" height="61.5" fill="#EE5C2C"/>
<rect x="870" y="390" width="61.5" height="61.5" fill="#F18637"/>
<rect x="210" y="450" width="61.5" height="61.5" fill="#F39B3E"/>
<rect x="270" y="450" width="61.5" height="61.5" fill="#EE5C2C"/>
<rect x="330" y="450" width="61.5" height="61.5" fill="#EE5C2C"/>
<rect x="390" y="450" width="61.5" height="61.5" fill="#F18637"/>
<rect x="450" y="450" width="61.5" height="61.5" fill="#E13D2C"/>
<rect x="510" y="450" width="61.5" height="61.5" fill="#E13D2C"/>
<rect x="570" y="450" width="61.5" height="61.5" fill="#E13D2C"/>
<rect x="630" y="450" width="61.5" height="61.5" fill="#EE5C2C"/>
<rect x="690" y="450" width="61.5" height="61.5" fill="#F18637"/>
<rect x="750" y="450" width="61.5" height="61.5" fill="#EC4A2A"/>
<rect x="810" y="450" width="61.5" height="61.5" fill="#EF7031"/>
<rect x="870" y="450" width="61.5" height="61.5" fill="#EE5C2C"/>
<rect x="930" y="450" width="61.5" height="61.5" fill="#FBDB4A"/>
<rect x="210" y="510" width="61.5" height="31.5" fill="#F39B3E"/>
<rect x="270" y="510" width="61.5" height="31.5" fill="#E13D2C"/>
<rect x="330" y="510" width="61.5" height="31.5" fill="#BE3048"/>
<rect x="330" y="540" width="61.5" height="31.5" fill="#EC4A2A"/>
<rect x="390" y="510" width="61.5" height="61.5" fill="#EC4A2A"/>
<rect x="450" y="510" width="61.5" height="61.5" fill="#EC4A2A"/>
<rect x="510" y="510" width="61.5" height="61.5" fill="#E13D2C"/>
<rect x="570" y="510" width="61.5" height="61.5" fill="#E13D2C"/>
<rect x="630" y="510" width="61.5" height="61.5" fill="#EC4A2A"/>
<rect x="690" y="510" width="61.5" height="61.5" fill="#EC4A2A"/>
<rect x="750" y="510" width="61.5" height="61.5" fill="#EC4A2A"/>
<rect x="810" y="510" width="61.5" height="31.5" fill="#EC4A2A"/>
<rect x="870" y="510" width="61.5" height="31.5" fill="#EC4A2A"/>
<rect x="330" y="570" width="61.5" height="61.5" fill="#EC4A2A"/>
<rect x="390" y="570" width="61.5" height="61.5" fill="#EC4A2A"/>
<rect x="450" y="570" width="61.5" height="61.5" fill="#EC4A2A"/>
<rect x="510" y="570" width="61.5" height="61.5" fill="#E13D2C"/>
<rect x="570" y="570" width="61.5" height="61.5" fill="#E13D2C"/>
<rect x="630" y="570" width="61.5" height="61.5" fill="#EC4A2A"/>
<rect x="690" y="570" width="61.5" height="61.5" fill="#EC4A2A"/>
<rect x="750" y="570" width="61.5" height="61.5" fill="#EE5C2C"/>
<rect x="870" y="570" width="31.5" height="61.5" fill="#EF7031"/>
<rect x="270" y="630" width="61.5" height="61.5" fill="#F5B042"/>
<rect x="330" y="630" width="61.5" height="61.5" fill="#F18637"/>
<rect x="390" y="630" width="61.5" height="61.5" fill="#EC4A2A"/>
<rect x="450" y="630" width="61.5" height="61.5" fill="#A72B5E"/>
<rect x="510" y="630" width="31.5" height="61.5" fill="#EC4A2A"/>
<rect x="540" y="630" width="31.5" height="61.5" fill="#EF7031"/>
<rect x="570" y="630" width="61.5" height="61.5" fill="#E13D2C"/>
<rect x="630" y="630" width="61.5" height="61.5" fill="#EC4A2A"/>
<rect x="690" y="630" width="61.5" height="61.5" fill="#EE5C2C"/>
<rect x="270" y="690" width="61.5" height="61.5" fill="#F5B042"/>
<rect x="330" y="690" width="61.5" height="61.5" fill="#EE5C2C"/>
<rect x="390" y="690" width="61.5" height="61.5" fill="#EE5C2C"/>
<rect x="450" y="690" width="61.5" height="61.5" fill="#EC4A2A"/>
<rect x="510" y="690" width="31.5" height="61.5" fill="#EC4A2A"/>
<rect x="540" y="690" width="31.5" height="61.5" fill="#E13D2C"/>
<rect x="570" y="690" width="61.5" height="61.5" fill="#EC4A2A"/>
<rect x="630" y="690" width="61.5" height="61.5" fill="#F18637"/>
<rect x="330" y="750" width="61.5" height="61.5" fill="#F8C546"/>
<rect x="390" y="750" width="61.5" height="61.5" fill="#F18637"/>
<rect x="450" y="750" width="61.5" height="61.5" fill="#EF7031"/>
<rect x="510" y="750" width="31.5" height="61.5" fill="#EE5C2C"/>
<rect x="540" y="750" width="31.5" height="61.5" fill="#E13D2C"/>
<rect x="570" y="750" width="61.5" height="61.5" fill="#EC4A2A"/>
<rect x="630" y="750" width="61.5" height="61.5" fill="#F8C546"/>
<rect x="450" y="810" width="61.5" height="61.5" fill="#FBDB4A"/>
<rect x="540" y="810" width="31.5" height="61.5" fill="#EC4A2A"/>
<rect x="570" y="810" width="61.5" height="61.5" fill="#F5B042"/>
<rect x="540" y="870" width="31.5" height="61.5" fill="#F8C546"/>
</g>
<path d="M885,0 C820,40 740,90 660,155 C620,190 585,220 545,240" fill="none" stroke="#33310a" stroke-width="6" stroke-linecap="round"/>
<path d="M0,370 C70,420 150,480 210,520 L240,540" fill="none" stroke="#33310a" stroke-width="6" stroke-linecap="round"/>
<path d="M860,545 C890,590 950,640 1010,700 L1080,760" fill="none" stroke="#33310a" stroke-width="6" stroke-linecap="round"/>
<path d="M540,855 C480,895 400,960 310,1025 L210,1080" fill="none" stroke="#33310a" stroke-width="6" stroke-linecap="round"/>
</svg>
<div class="lbl" style="left:774px;top:971.9px">c - c′</div>
<svg id="stack" width="1920" height="1080" viewBox="0 0 1920 1080"><defs><clipPath id="cs1"><rect x="1200" y="140" width="560" height="203"/></clipPath><filter id="blA" x="-5%" y="-5%" width="110%" height="110%"><feGaussianBlur stdDeviation="4"/></filter><clipPath id="cs2"><rect x="1200" y="343" width="560" height="203"/></clipPath><clipPath id="cs3"><rect x="1200" y="546" width="560" height="203"/></clipPath><filter id="blS" x="-5%" y="-5%" width="110%" height="110%"><feGaussianBlur stdDeviation="2.5"/></filter><clipPath id="cs4"><rect x="1200" y="749" width="560" height="211"/></clipPath><clipPath id="sil"><path d="M590,103C605,109 652,128 680,140C708,152 741,165 760,175C779,185 789,194 795,198C786,200 764,205 740,210C716,215 680,222 650,228C620,234 588,243 560,248C532,253 510,257 480,258C450,259 410,256 380,255C350,254 330,251 300,252C270,253 229,258 200,262C171,266 138,274 125,276C138,280 172,293 200,300C228,307 260,312 290,318C320,324 355,331 380,338C405,345 420,354 440,362C460,370 490,381 500,385C483,385 433,386 400,385C367,384 333,378 300,378C267,378 229,380 200,383C171,386 138,396 125,398C138,401 171,409 200,415C229,421 267,426 300,432C333,438 367,444 400,452C433,460 467,470 500,478C533,486 567,495 600,500C633,505 676,507 700,510C724,513 738,515 745,516C736,523 699,549 690,556C668,557 600,561 560,560C520,559 485,553 450,548C415,543 382,536 350,530C318,524 285,516 260,512C235,508 222,507 200,508C178,509 138,516 125,518C138,521 171,530 200,535C229,540 267,544 300,550C333,556 367,563 400,570C433,577 467,584 500,590C533,596 570,602 600,605C630,608 658,608 680,610C702,612 722,615 730,616C740,623 780,651 790,658C782,665 757,687 740,700C723,713 698,731 690,737C678,738 648,744 620,745C592,746 552,744 520,745C488,746 458,749 430,750C402,751 375,754 350,752C325,750 305,743 280,738C255,733 225,724 200,722C175,720 142,727 130,728C142,731 172,739 200,745C228,751 270,759 300,765C330,771 355,778 380,782C405,786 422,789 450,790C478,791 517,789 550,790C583,791 622,792 650,795C678,798 702,800 720,805C738,810 753,819 760,822C767,827 793,845 800,850C797,853 783,867 780,870C767,873 730,884 700,888C670,892 633,892 600,895C567,898 533,905 500,905C467,905 433,899 400,895C367,891 333,884 300,880C267,876 228,871 200,870C172,869 142,875 130,876C142,879 172,888 200,893C228,898 267,900 300,905C333,910 367,919 400,925C433,931 467,936 500,940C533,944 567,948 600,950C633,952 673,953 700,955C727,957 750,961 760,962C767,966 793,984 800,988C787,993 733,1015 720,1020C708,1021 678,1023 650,1025C622,1027 583,1029 550,1030C517,1031 480,1032 450,1030C420,1028 395,1026 370,1020C345,1014 328,1001 300,995C272,989 228,985 200,985C172,985 146,992 135,993C146,995 172,1000 200,1005C228,1010 267,1012 300,1020C333,1028 367,1041 400,1050C433,1059 467,1067 500,1075C533,1083 583,1096 600,1100C783,1100 1517,1100 1700,1100C1726,1089 1829,1046 1855,1035C1822,1023 1688,977 1655,965C1688,953 1822,907 1855,895C1820,885 1680,845 1645,835C1681,820 1824,760 1860,745C1825,727 1685,653 1650,635C1685,623 1825,577 1860,565C1835,548 1735,482 1710,465C1736,457 1839,423 1865,415C1843,402 1757,352 1735,340C1758,333 1848,307 1870,300C1858,295 1828,284 1800,270C1772,256 1733,232 1700,215C1667,198 1627,178 1600,165C1573,152 1550,144 1540,140C1513,146 1407,172 1380,178C1367,171 1330,150 1300,135C1270,120 1228,102 1200,90C1172,78 1142,65 1130,60C1118,62 1088,70 1060,75C1032,80 1003,89 960,90C917,91 843,81 800,80C757,79 735,81 700,85C665,89 608,100 590,103Z" transform="translate(1300,140) scale(0.18799)"/><path d="M720,-30C729,-18 766,28 775,40C762,43 729,54 700,60C671,66 633,72 600,75C567,78 533,80 500,80C467,80 433,77 400,75C367,73 333,72 300,70C267,68 227,65 200,65C173,65 150,71 140,72C150,74 173,80 200,85C227,90 267,95 300,100C333,105 367,110 400,113C433,116 467,119 500,120C533,121 567,119 600,120C633,121 668,120 700,125C732,130 775,146 790,150C783,153 773,164 750,170C727,176 683,180 650,185C617,190 583,196 550,200C517,204 483,208 450,210C417,212 383,211 350,210C317,209 285,208 250,205C215,202 158,197 140,195C150,197 177,202 200,205C223,208 257,209 280,215C303,221 320,230 340,240C360,250 380,265 400,275C420,285 440,293 460,300C480,307 497,312 520,315C543,318 570,318 600,320C630,322 675,322 700,325C725,328 742,338 750,340C745,343 737,355 720,360C703,365 678,368 650,370C622,372 583,370 550,370C517,370 483,371 450,372C417,373 383,374 350,375C317,376 283,378 250,378C217,378 167,378 150,378C167,380 217,387 250,392C283,397 317,404 350,410C383,416 417,421 450,425C483,429 517,430 550,432C583,434 622,434 650,435C678,436 698,437 720,440C742,443 770,452 780,455C773,457 762,463 740,465C718,467 682,468 650,468C618,468 583,468 550,468C517,468 483,469 450,470C417,471 383,473 350,475C317,477 281,479 250,480C219,481 179,482 165,483C179,486 224,490 250,500C276,510 298,527 320,540C342,553 360,568 380,580C400,592 420,605 440,615C460,625 477,634 500,640C523,646 555,649 580,652C605,655 638,655 650,656C642,656 625,654 600,655C575,656 533,658 500,660C467,662 433,662 400,665C367,668 332,672 300,675C268,678 221,682 205,683C221,688 268,700 300,710C332,720 370,732 400,740C430,748 457,752 480,755C503,758 530,759 540,760C525,762 482,765 450,770C418,775 383,784 350,790C317,796 279,801 250,805C221,809 188,813 175,815C188,818 226,827 250,835C274,843 298,855 320,865C342,875 360,887 380,895C400,903 430,912 440,915C425,917 382,924 350,928C318,932 282,937 250,940C218,943 175,944 160,945C175,948 222,958 250,965C278,972 305,979 330,985C355,991 385,996 400,1000C415,1004 417,1007 420,1008C405,1012 358,1025 330,1030C302,1035 280,1038 250,1040C220,1042 167,1042 150,1043C167,1046 217,1053 250,1060C283,1067 325,1077 350,1085C375,1093 392,1106 400,1110C583,1110 1317,1110 1500,1110C1510,1105 1543,1088 1560,1082C1577,1076 1577,1078 1600,1074C1623,1070 1662,1065 1700,1059C1738,1053 1808,1042 1830,1038C1808,1039 1747,1043 1700,1042C1653,1041 1600,1037 1550,1032C1500,1027 1443,1019 1400,1012C1357,1005 1308,995 1290,992C1308,991 1365,987 1400,985C1435,983 1467,984 1500,980C1533,976 1567,967 1600,960C1633,953 1662,946 1700,940C1738,934 1808,928 1830,925C1800,922 1705,914 1650,910C1595,906 1552,903 1500,900C1448,897 1367,894 1340,893C1367,891 1457,886 1500,882C1543,878 1567,875 1600,868C1633,861 1668,849 1700,840C1732,831 1775,817 1790,812C1775,810 1732,805 1700,800C1668,795 1630,786 1600,780C1570,774 1533,768 1520,765C1533,760 1570,746 1600,735C1630,724 1665,710 1700,700C1735,690 1792,679 1810,675C1792,674 1735,671 1700,668C1665,665 1635,660 1600,655C1565,650 1508,642 1490,640C1508,632 1565,607 1600,590C1635,573 1662,556 1700,540C1738,524 1808,504 1830,497C1812,492 1757,480 1720,470C1683,460 1628,443 1610,438C1628,434 1681,424 1720,415C1759,406 1824,388 1845,382C1821,378 1746,365 1700,355C1654,345 1592,326 1570,320C1592,312 1653,288 1700,270C1747,252 1825,224 1850,215C1832,210 1775,195 1740,185C1705,175 1657,160 1640,155C1657,150 1704,135 1740,125C1776,115 1836,102 1855,97C1836,92 1778,81 1740,70C1702,59 1648,38 1630,32C1642,27 1678,10 1700,0C1722,-10 1750,-25 1760,-30C1587,-30 893,-30 720,-30Z" transform="translate(1300,343) scale(0.18799)"/><path d="M420,-30C417,-22 403,8 400,15C383,20 342,37 300,45C258,53 175,62 150,65C167,68 220,72 250,80C280,88 308,102 330,115C352,128 372,148 380,155C363,159 318,172 280,180C242,188 172,201 150,205C167,208 222,215 250,225C278,235 300,251 320,265C340,279 358,298 370,310C382,322 387,335 390,340C372,345 320,361 280,370C240,379 172,391 150,395C167,398 222,408 250,415C278,422 302,432 320,440C338,448 353,461 360,465C343,470 295,486 260,495C225,504 168,516 150,520C165,523 215,532 240,540C265,548 283,558 300,570C317,582 333,603 340,610C325,617 281,638 250,650C219,662 171,675 155,680C171,683 224,690 250,700C276,710 294,725 310,740C326,755 339,782 345,790C331,797 291,817 260,830C229,843 177,863 160,870C175,872 223,876 250,885C277,894 308,918 320,925C308,931 277,948 250,960C223,972 175,989 160,995C172,999 207,1008 230,1020C253,1032 282,1052 300,1065C318,1078 333,1090 340,1095C333,1098 307,1108 300,1110C458,1110 1092,1110 1250,1110C1250,1106 1233,1093 1250,1085C1267,1077 1317,1068 1350,1060C1383,1052 1417,1048 1450,1040C1483,1032 1517,1023 1550,1015C1583,1007 1617,998 1650,990C1683,982 1720,973 1750,965C1780,957 1817,946 1830,942C1817,942 1780,940 1750,942C1720,944 1683,950 1650,955C1617,960 1583,966 1550,970C1517,974 1478,979 1450,980C1422,981 1405,980 1380,975C1355,970 1313,952 1300,947C1308,944 1325,936 1350,930C1375,924 1417,918 1450,910C1483,902 1517,894 1550,885C1583,876 1617,865 1650,855C1683,845 1720,833 1750,825C1780,817 1817,810 1830,807C1808,808 1738,809 1700,810C1662,811 1633,813 1600,815C1567,817 1533,820 1500,820C1467,820 1433,818 1400,815C1367,812 1331,808 1300,800C1269,792 1229,772 1215,767C1226,762 1258,742 1280,735C1302,728 1322,728 1350,725C1378,722 1417,719 1450,715C1483,711 1517,707 1550,700C1583,693 1617,683 1650,675C1683,667 1719,658 1750,650C1781,642 1821,633 1835,630C1821,630 1781,628 1750,630C1719,632 1683,639 1650,645C1617,651 1583,660 1550,665C1517,670 1478,675 1450,675C1422,675 1405,672 1380,665C1355,658 1325,642 1300,630C1275,618 1242,597 1230,590C1238,586 1260,571 1280,565C1300,559 1322,558 1350,555C1378,552 1417,548 1450,545C1483,542 1517,538 1550,535C1583,532 1617,529 1650,525C1683,521 1719,516 1750,512C1781,508 1821,501 1835,499C1812,499 1739,498 1700,500C1661,502 1633,508 1600,510C1567,512 1533,515 1500,515C1467,515 1433,514 1400,510C1367,506 1334,500 1300,490C1266,480 1212,458 1195,452C1204,447 1224,426 1250,420C1276,414 1317,415 1350,413C1383,411 1408,412 1450,410C1492,408 1550,404 1600,400C1650,396 1711,389 1750,385C1789,381 1821,376 1835,374C1812,374 1739,373 1700,375C1661,377 1633,382 1600,385C1567,388 1533,390 1500,390C1467,390 1428,390 1400,385C1372,380 1352,370 1330,360C1308,350 1276,328 1265,322C1279,318 1319,301 1350,295C1381,289 1417,290 1450,285C1483,280 1517,272 1550,265C1583,258 1617,248 1650,240C1683,232 1718,222 1750,215C1782,208 1825,200 1840,197C1817,196 1740,193 1700,192C1660,191 1633,192 1600,192C1567,192 1533,192 1500,190C1467,188 1433,184 1400,180C1367,176 1328,170 1300,165C1272,160 1242,154 1230,152C1242,149 1272,140 1300,135C1328,130 1367,128 1400,125C1433,122 1467,123 1500,120C1533,117 1567,111 1600,105C1633,99 1660,92 1700,85C1740,78 1817,68 1840,64C1825,64 1782,64 1750,65C1718,66 1683,72 1650,68C1617,64 1592,48 1550,40C1508,32 1458,24 1400,18C1342,12 1233,7 1200,5C1192,-1 1158,-24 1150,-30C1028,-30 542,-30 420,-30Z" transform="translate(1300,546) scale(0.18799)"/><path d="M300,-30C306,-23 331,7 337,14C308,25 190,69 160,80C183,92 277,142 300,155C277,168 183,219 160,232C184,242 281,284 305,295C281,304 184,341 160,350C182,363 268,417 290,430C268,440 182,480 160,490C179,500 256,540 275,550C257,560 183,598 165,608C179,615 222,635 250,650C278,665 305,683 330,700C355,717 377,735 400,750C423,765 447,776 470,790C493,804 518,822 540,835C562,848 590,864 600,870C613,864 657,847 680,835C703,823 730,806 740,800C750,805 777,817 800,830C823,843 855,864 880,880C905,896 927,910 950,925C973,940 998,957 1020,970C1042,983 1062,995 1080,1005C1098,1015 1122,1026 1130,1030C1142,1024 1175,1008 1200,995C1225,982 1255,964 1280,950C1305,936 1325,923 1350,910C1375,897 1404,883 1430,870C1456,857 1492,837 1505,830C1494,826 1462,814 1440,805C1418,796 1382,782 1370,778C1383,773 1420,763 1450,750C1480,737 1517,718 1550,700C1583,682 1617,660 1650,640C1683,620 1720,599 1750,580C1780,561 1817,534 1830,525C1818,523 1783,519 1760,515C1737,511 1702,502 1690,500C1702,495 1737,482 1760,470C1783,458 1818,437 1830,430C1815,427 1770,415 1740,410C1710,405 1665,402 1650,400C1665,392 1710,367 1740,350C1770,333 1815,307 1830,298C1808,296 1738,286 1700,285C1662,284 1634,289 1600,290C1566,291 1512,292 1495,292C1512,285 1566,264 1600,250C1634,236 1662,219 1700,205C1738,191 1808,172 1830,165C1808,162 1747,150 1700,150C1653,150 1601,160 1550,165C1499,170 1421,176 1395,178C1412,170 1466,144 1500,130C1534,116 1567,106 1600,95C1633,84 1662,74 1700,65C1738,56 1808,44 1830,40C1808,40 1747,37 1700,38C1653,39 1600,45 1550,45C1500,45 1452,46 1400,40C1348,34 1267,15 1240,10C1238,3 1232,-23 1230,-30C1075,-30 455,-30 300,-30Z" transform="translate(1300,749) scale(0.18799)"/></clipPath></defs>
<path d="M1304.5,858.5 V850 H1670.5 V858.5" fill="none" stroke="#7a7a7a" stroke-width="1"/>
<path d="M1304.5,776.5 V768 H1670.5 V776.5" fill="none" stroke="#7a7a7a" stroke-width="1"/>
<path d="M1304.5,693.1 V684.6 H1670.5 V693.1" fill="none" stroke="#7a7a7a" stroke-width="1"/>
<path d="M1304.5,618.1 V609.6 H1670.5 V618.1" fill="none" stroke="#7a7a7a" stroke-width="1"/>
<path d="M1304.5,518.5 V510 H1670.5 V518.5" fill="none" stroke="#7a7a7a" stroke-width="1"/>
<path d="M1304.5,439.5 V431 H1670.5 V439.5" fill="none" stroke="#7a7a7a" stroke-width="1"/>
<path d="M1304.5,350.5 V342 H1670.5 V350.5" fill="none" stroke="#7a7a7a" stroke-width="1"/>
<path d="M1304.5,264.8 V256.3 H1670.5 V264.8" fill="none" stroke="#7a7a7a" stroke-width="1"/>
<path d="M1304.5,179.5 V171 H1670.5 V179.5" fill="none" stroke="#7a7a7a" stroke-width="1"/>
<g clip-path="url(#cs1)"><g transform="translate(1300,140) scale(0.18799)"><path d="M590,103C605,109 652,128 680,140C708,152 741,165 760,175C779,185 789,194 795,198C786,200 764,205 740,210C716,215 680,222 650,228C620,234 588,243 560,248C532,253 510,257 480,258C450,259 410,256 380,255C350,254 330,251 300,252C270,253 229,258 200,262C171,266 138,274 125,276C138,280 172,293 200,300C228,307 260,312 290,318C320,324 355,331 380,338C405,345 420,354 440,362C460,370 490,381 500,385C483,385 433,386 400,385C367,384 333,378 300,378C267,378 229,380 200,383C171,386 138,396 125,398C138,401 171,409 200,415C229,421 267,426 300,432C333,438 367,444 400,452C433,460 467,470 500,478C533,486 567,495 600,500C633,505 676,507 700,510C724,513 738,515 745,516C736,523 699,549 690,556C668,557 600,561 560,560C520,559 485,553 450,548C415,543 382,536 350,530C318,524 285,516 260,512C235,508 222,507 200,508C178,509 138,516 125,518C138,521 171,530 200,535C229,540 267,544 300,550C333,556 367,563 400,570C433,577 467,584 500,590C533,596 570,602 600,605C630,608 658,608 680,610C702,612 722,615 730,616C740,623 780,651 790,658C782,665 757,687 740,700C723,713 698,731 690,737C678,738 648,744 620,745C592,746 552,744 520,745C488,746 458,749 430,750C402,751 375,754 350,752C325,750 305,743 280,738C255,733 225,724 200,722C175,720 142,727 130,728C142,731 172,739 200,745C228,751 270,759 300,765C330,771 355,778 380,782C405,786 422,789 450,790C478,791 517,789 550,790C583,791 622,792 650,795C678,798 702,800 720,805C738,810 753,819 760,822C767,827 793,845 800,850C797,853 783,867 780,870C767,873 730,884 700,888C670,892 633,892 600,895C567,898 533,905 500,905C467,905 433,899 400,895C367,891 333,884 300,880C267,876 228,871 200,870C172,869 142,875 130,876C142,879 172,888 200,893C228,898 267,900 300,905C333,910 367,919 400,925C433,931 467,936 500,940C533,944 567,948 600,950C633,952 673,953 700,955C727,957 750,961 760,962C767,966 793,984 800,988C787,993 733,1015 720,1020C708,1021 678,1023 650,1025C622,1027 583,1029 550,1030C517,1031 480,1032 450,1030C420,1028 395,1026 370,1020C345,1014 328,1001 300,995C272,989 228,985 200,985C172,985 146,992 135,993C146,995 172,1000 200,1005C228,1010 267,1012 300,1020C333,1028 367,1041 400,1050C433,1059 467,1067 500,1075C533,1083 583,1096 600,1100C783,1100 1517,1100 1700,1100C1726,1089 1829,1046 1855,1035C1822,1023 1688,977 1655,965C1688,953 1822,907 1855,895C1820,885 1680,845 1645,835C1681,820 1824,760 1860,745C1825,727 1685,653 1650,635C1685,623 1825,577 1860,565C1835,548 1735,482 1710,465C1736,457 1839,423 1865,415C1843,402 1757,352 1735,340C1758,333 1848,307 1870,300C1858,295 1828,284 1800,270C1772,256 1733,232 1700,215C1667,198 1627,178 1600,165C1573,152 1550,144 1540,140C1513,146 1407,172 1380,178C1367,171 1330,150 1300,135C1270,120 1228,102 1200,90C1172,78 1142,65 1130,60C1118,62 1088,70 1060,75C1032,80 1003,89 960,90C917,91 843,81 800,80C757,79 735,81 700,85C665,89 608,100 590,103Z" fill="#FFFB55" /></g></g>
<g clip-path="url(#cs2)"><g transform="translate(1300,343) scale(0.18799)"><path d="M720,-30C729,-18 766,28 775,40C762,43 729,54 700,60C671,66 633,72 600,75C567,78 533,80 500,80C467,80 433,77 400,75C367,73 333,72 300,70C267,68 227,65 200,65C173,65 150,71 140,72C150,74 173,80 200,85C227,90 267,95 300,100C333,105 367,110 400,113C433,116 467,119 500,120C533,121 567,119 600,120C633,121 668,120 700,125C732,130 775,146 790,150C783,153 773,164 750,170C727,176 683,180 650,185C617,190 583,196 550,200C517,204 483,208 450,210C417,212 383,211 350,210C317,209 285,208 250,205C215,202 158,197 140,195C150,197 177,202 200,205C223,208 257,209 280,215C303,221 320,230 340,240C360,250 380,265 400,275C420,285 440,293 460,300C480,307 497,312 520,315C543,318 570,318 600,320C630,322 675,322 700,325C725,328 742,338 750,340C745,343 737,355 720,360C703,365 678,368 650,370C622,372 583,370 550,370C517,370 483,371 450,372C417,373 383,374 350,375C317,376 283,378 250,378C217,378 167,378 150,378C167,380 217,387 250,392C283,397 317,404 350,410C383,416 417,421 450,425C483,429 517,430 550,432C583,434 622,434 650,435C678,436 698,437 720,440C742,443 770,452 780,455C773,457 762,463 740,465C718,467 682,468 650,468C618,468 583,468 550,468C517,468 483,469 450,470C417,471 383,473 350,475C317,477 281,479 250,480C219,481 179,482 165,483C179,486 224,490 250,500C276,510 298,527 320,540C342,553 360,568 380,580C400,592 420,605 440,615C460,625 477,634 500,640C523,646 555,649 580,652C605,655 638,655 650,656C642,656 625,654 600,655C575,656 533,658 500,660C467,662 433,662 400,665C367,668 332,672 300,675C268,678 221,682 205,683C221,688 268,700 300,710C332,720 370,732 400,740C430,748 457,752 480,755C503,758 530,759 540,760C525,762 482,765 450,770C418,775 383,784 350,790C317,796 279,801 250,805C221,809 188,813 175,815C188,818 226,827 250,835C274,843 298,855 320,865C342,875 360,887 380,895C400,903 430,912 440,915C425,917 382,924 350,928C318,932 282,937 250,940C218,943 175,944 160,945C175,948 222,958 250,965C278,972 305,979 330,985C355,991 385,996 400,1000C415,1004 417,1007 420,1008C405,1012 358,1025 330,1030C302,1035 280,1038 250,1040C220,1042 167,1042 150,1043C167,1046 217,1053 250,1060C283,1067 325,1077 350,1085C375,1093 392,1106 400,1110C583,1110 1317,1110 1500,1110C1510,1105 1543,1088 1560,1082C1577,1076 1577,1078 1600,1074C1623,1070 1662,1065 1700,1059C1738,1053 1808,1042 1830,1038C1808,1039 1747,1043 1700,1042C1653,1041 1600,1037 1550,1032C1500,1027 1443,1019 1400,1012C1357,1005 1308,995 1290,992C1308,991 1365,987 1400,985C1435,983 1467,984 1500,980C1533,976 1567,967 1600,960C1633,953 1662,946 1700,940C1738,934 1808,928 1830,925C1800,922 1705,914 1650,910C1595,906 1552,903 1500,900C1448,897 1367,894 1340,893C1367,891 1457,886 1500,882C1543,878 1567,875 1600,868C1633,861 1668,849 1700,840C1732,831 1775,817 1790,812C1775,810 1732,805 1700,800C1668,795 1630,786 1600,780C1570,774 1533,768 1520,765C1533,760 1570,746 1600,735C1630,724 1665,710 1700,700C1735,690 1792,679 1810,675C1792,674 1735,671 1700,668C1665,665 1635,660 1600,655C1565,650 1508,642 1490,640C1508,632 1565,607 1600,590C1635,573 1662,556 1700,540C1738,524 1808,504 1830,497C1812,492 1757,480 1720,470C1683,460 1628,443 1610,438C1628,434 1681,424 1720,415C1759,406 1824,388 1845,382C1821,378 1746,365 1700,355C1654,345 1592,326 1570,320C1592,312 1653,288 1700,270C1747,252 1825,224 1850,215C1832,210 1775,195 1740,185C1705,175 1657,160 1640,155C1657,150 1704,135 1740,125C1776,115 1836,102 1855,97C1836,92 1778,81 1740,70C1702,59 1648,38 1630,32C1642,27 1678,10 1700,0C1722,-10 1750,-25 1760,-30C1587,-30 893,-30 720,-30Z" fill="#FFFB55" /></g></g>
<g clip-path="url(#cs3)"><g transform="translate(1300,546) scale(0.18799)"><path d="M420,-30C417,-22 403,8 400,15C383,20 342,37 300,45C258,53 175,62 150,65C167,68 220,72 250,80C280,88 308,102 330,115C352,128 372,148 380,155C363,159 318,172 280,180C242,188 172,201 150,205C167,208 222,215 250,225C278,235 300,251 320,265C340,279 358,298 370,310C382,322 387,335 390,340C372,345 320,361 280,370C240,379 172,391 150,395C167,398 222,408 250,415C278,422 302,432 320,440C338,448 353,461 360,465C343,470 295,486 260,495C225,504 168,516 150,520C165,523 215,532 240,540C265,548 283,558 300,570C317,582 333,603 340,610C325,617 281,638 250,650C219,662 171,675 155,680C171,683 224,690 250,700C276,710 294,725 310,740C326,755 339,782 345,790C331,797 291,817 260,830C229,843 177,863 160,870C175,872 223,876 250,885C277,894 308,918 320,925C308,931 277,948 250,960C223,972 175,989 160,995C172,999 207,1008 230,1020C253,1032 282,1052 300,1065C318,1078 333,1090 340,1095C333,1098 307,1108 300,1110C458,1110 1092,1110 1250,1110C1250,1106 1233,1093 1250,1085C1267,1077 1317,1068 1350,1060C1383,1052 1417,1048 1450,1040C1483,1032 1517,1023 1550,1015C1583,1007 1617,998 1650,990C1683,982 1720,973 1750,965C1780,957 1817,946 1830,942C1817,942 1780,940 1750,942C1720,944 1683,950 1650,955C1617,960 1583,966 1550,970C1517,974 1478,979 1450,980C1422,981 1405,980 1380,975C1355,970 1313,952 1300,947C1308,944 1325,936 1350,930C1375,924 1417,918 1450,910C1483,902 1517,894 1550,885C1583,876 1617,865 1650,855C1683,845 1720,833 1750,825C1780,817 1817,810 1830,807C1808,808 1738,809 1700,810C1662,811 1633,813 1600,815C1567,817 1533,820 1500,820C1467,820 1433,818 1400,815C1367,812 1331,808 1300,800C1269,792 1229,772 1215,767C1226,762 1258,742 1280,735C1302,728 1322,728 1350,725C1378,722 1417,719 1450,715C1483,711 1517,707 1550,700C1583,693 1617,683 1650,675C1683,667 1719,658 1750,650C1781,642 1821,633 1835,630C1821,630 1781,628 1750,630C1719,632 1683,639 1650,645C1617,651 1583,660 1550,665C1517,670 1478,675 1450,675C1422,675 1405,672 1380,665C1355,658 1325,642 1300,630C1275,618 1242,597 1230,590C1238,586 1260,571 1280,565C1300,559 1322,558 1350,555C1378,552 1417,548 1450,545C1483,542 1517,538 1550,535C1583,532 1617,529 1650,525C1683,521 1719,516 1750,512C1781,508 1821,501 1835,499C1812,499 1739,498 1700,500C1661,502 1633,508 1600,510C1567,512 1533,515 1500,515C1467,515 1433,514 1400,510C1367,506 1334,500 1300,490C1266,480 1212,458 1195,452C1204,447 1224,426 1250,420C1276,414 1317,415 1350,413C1383,411 1408,412 1450,410C1492,408 1550,404 1600,400C1650,396 1711,389 1750,385C1789,381 1821,376 1835,374C1812,374 1739,373 1700,375C1661,377 1633,382 1600,385C1567,388 1533,390 1500,390C1467,390 1428,390 1400,385C1372,380 1352,370 1330,360C1308,350 1276,328 1265,322C1279,318 1319,301 1350,295C1381,289 1417,290 1450,285C1483,280 1517,272 1550,265C1583,258 1617,248 1650,240C1683,232 1718,222 1750,215C1782,208 1825,200 1840,197C1817,196 1740,193 1700,192C1660,191 1633,192 1600,192C1567,192 1533,192 1500,190C1467,188 1433,184 1400,180C1367,176 1328,170 1300,165C1272,160 1242,154 1230,152C1242,149 1272,140 1300,135C1328,130 1367,128 1400,125C1433,122 1467,123 1500,120C1533,117 1567,111 1600,105C1633,99 1660,92 1700,85C1740,78 1817,68 1840,64C1825,64 1782,64 1750,65C1718,66 1683,72 1650,68C1617,64 1592,48 1550,40C1508,32 1458,24 1400,18C1342,12 1233,7 1200,5C1192,-1 1158,-24 1150,-30C1028,-30 542,-30 420,-30Z" fill="#FFFB55" /></g></g>
<g clip-path="url(#cs4)"><g transform="translate(1300,749) scale(0.18799)"><path d="M300,-30C306,-23 331,7 337,14C308,25 190,69 160,80C183,92 277,142 300,155C277,168 183,219 160,232C184,242 281,284 305,295C281,304 184,341 160,350C182,363 268,417 290,430C268,440 182,480 160,490C179,500 256,540 275,550C257,560 183,598 165,608C179,615 222,635 250,650C278,665 305,683 330,700C355,717 377,735 400,750C423,765 447,776 470,790C493,804 518,822 540,835C562,848 590,864 600,870C613,864 657,847 680,835C703,823 730,806 740,800C750,805 777,817 800,830C823,843 855,864 880,880C905,896 927,910 950,925C973,940 998,957 1020,970C1042,983 1062,995 1080,1005C1098,1015 1122,1026 1130,1030C1142,1024 1175,1008 1200,995C1225,982 1255,964 1280,950C1305,936 1325,923 1350,910C1375,897 1404,883 1430,870C1456,857 1492,837 1505,830C1494,826 1462,814 1440,805C1418,796 1382,782 1370,778C1383,773 1420,763 1450,750C1480,737 1517,718 1550,700C1583,682 1617,660 1650,640C1683,620 1720,599 1750,580C1780,561 1817,534 1830,525C1818,523 1783,519 1760,515C1737,511 1702,502 1690,500C1702,495 1737,482 1760,470C1783,458 1818,437 1830,430C1815,427 1770,415 1740,410C1710,405 1665,402 1650,400C1665,392 1710,367 1740,350C1770,333 1815,307 1830,298C1808,296 1738,286 1700,285C1662,284 1634,289 1600,290C1566,291 1512,292 1495,292C1512,285 1566,264 1600,250C1634,236 1662,219 1700,205C1738,191 1808,172 1830,165C1808,162 1747,150 1700,150C1653,150 1601,160 1550,165C1499,170 1421,176 1395,178C1412,170 1466,144 1500,130C1534,116 1567,106 1600,95C1633,84 1662,74 1700,65C1738,56 1808,44 1830,40C1808,40 1747,37 1700,38C1653,39 1600,45 1550,45C1500,45 1452,46 1400,40C1348,34 1267,15 1240,10C1238,3 1232,-23 1230,-30C1075,-30 455,-30 300,-30Z" fill="#FFFB55" /></g></g>
<g clip-path="url(#sil)">
<g clip-path="url(#cs1)"><g transform="translate(1420,170) scale(0.11482)"><g filter="url(#blA)"><path d="M390,140C415,133 468,145 520,150C572,155 645,168 700,170C755,172 808,160 850,165C892,170 917,184 950,200C983,216 1017,238 1050,260C1083,282 1117,307 1150,330C1183,353 1217,383 1250,400C1283,417 1317,415 1350,430C1383,445 1420,473 1450,490C1480,507 1517,523 1530,530C1522,537 1502,557 1480,570C1458,583 1427,600 1400,610C1373,620 1333,627 1320,630C1307,623 1268,607 1240,590C1212,573 1182,550 1150,530C1118,510 1083,488 1050,470C1017,452 983,432 950,420C917,408 883,398 850,395C817,392 783,399 750,400C717,401 683,405 650,400C617,395 583,380 550,370C517,360 483,348 450,340C417,332 378,330 350,320C322,310 302,293 280,280C258,267 226,247 215,240C229,239 274,243 300,235C326,227 358,198 370,190C373,182 365,147 390,140Z" fill="#EF7031"  stroke="#EF7031" stroke-width="19.2" stroke-linejoin="round"/>
<path d="M420,170C477,163 628,182 700,185C772,188 808,179 850,185C892,191 917,204 950,220C983,236 1017,259 1050,280C1083,301 1117,323 1150,345C1183,367 1217,392 1250,410C1283,428 1318,433 1350,450C1382,467 1435,487 1440,510C1445,533 1400,573 1380,590C1360,607 1343,612 1320,610C1297,608 1268,591 1240,575C1212,559 1182,535 1150,515C1118,495 1083,472 1050,455C1017,438 983,422 950,410C917,398 883,388 850,385C817,382 783,391 750,392C717,393 683,397 650,392C617,387 583,370 550,360C517,350 483,339 450,330C417,321 377,316 350,305C323,294 288,278 290,265C292,252 338,241 360,225C382,209 363,177 420,170Z" fill="#EC4A2A"  stroke="#EC4A2A" stroke-width="19.2" stroke-linejoin="round"/>
<path d="M480,250C493,228 573,221 620,215C667,209 713,209 760,215C807,221 857,232 900,250C943,268 983,297 1020,320C1057,343 1087,368 1120,390C1153,412 1190,432 1220,450C1250,468 1303,488 1300,500C1297,512 1233,523 1200,520C1167,517 1133,495 1100,480C1067,465 1033,441 1000,430C967,419 930,421 900,415C870,409 850,398 820,395C790,392 753,397 720,395C687,393 650,393 620,385C590,377 563,368 540,345C517,322 467,272 480,250Z" fill="#D23636"  stroke="#D23636" stroke-width="19.2" stroke-linejoin="round"/>
<path d="M540,300C550,286 590,266 620,260C650,254 687,259 720,265C753,271 787,283 820,295C853,307 888,320 920,335C952,350 980,368 1010,385C1040,402 1072,424 1100,440C1128,456 1180,475 1180,480C1180,485 1130,479 1100,470C1070,461 1033,434 1000,425C967,416 930,422 900,418C870,414 850,402 820,398C790,394 753,396 720,393C687,390 647,386 620,378C593,370 573,358 560,345C547,332 530,314 540,300Z" fill="#A72B5E"  stroke="#A72B5E" stroke-width="19.2" stroke-linejoin="round"/>
<path d="M640,300C652,288 690,283 720,285C750,287 787,300 820,310C853,320 890,332 920,345C950,358 988,373 1000,385C1012,397 1007,410 990,415C973,420 928,416 900,412C872,408 850,396 820,392C790,388 748,390 720,385C692,380 663,374 650,360C637,346 628,312 640,300Z" fill="#701C98"  stroke="#701C98" stroke-width="19.2" stroke-linejoin="round"/>
<path d="M820,340C830,334 875,342 900,350C925,358 970,376 970,385C970,394 922,405 900,405C878,405 853,396 840,385C827,374 810,346 820,340Z" fill="#5216B6"  stroke="#5216B6" stroke-width="19.2" stroke-linejoin="round"/>
<path d="M1340,290C1353,285 1407,267 1420,262C1451,276 1574,331 1605,345C1592,353 1542,384 1530,392C1498,375 1372,307 1340,290Z" fill="#F39B3E"  stroke="#F39B3E" stroke-width="19.2" stroke-linejoin="round"/>
<path d="M1440,300C1450,298 1490,288 1500,285C1513,293 1567,327 1580,335C1570,341 1530,364 1520,370C1507,358 1453,312 1440,300Z" fill="#EF7031"  stroke="#EF7031" stroke-width="19.2" stroke-linejoin="round"/>
<path d="M1220,240C1240,249 1283,264 1340,292C1397,320 1523,386 1560,405" fill="none" stroke="#F8C546" stroke-width="14"/>
<path d="M60,380C83,381 152,382 200,385C248,388 303,392 350,400C397,408 438,418 480,430C522,442 560,458 600,470C640,482 678,485 720,500C762,515 812,540 850,560C888,580 923,600 950,620C977,640 1000,670 1010,680C992,687 935,708 900,720C865,732 837,741 800,750C763,759 720,772 680,775C640,778 600,776 560,770C520,764 478,751 440,740C402,729 370,713 330,705C290,697 222,692 200,690C208,684 228,667 250,655C272,643 332,636 330,620C328,604 255,570 240,560C250,557 307,553 300,540C293,527 230,500 200,480C170,460 143,437 120,420C97,403 70,387 60,380Z" fill="#EC4A2A"  stroke="#EC4A2A" stroke-width="19.2" stroke-linejoin="round"/>
<path d="M380,540C405,527 530,554 600,570C670,586 740,617 800,635C860,653 960,665 960,680C960,695 860,720 800,725C740,730 658,722 600,710C542,698 487,678 450,650C413,622 355,553 380,540Z" fill="#D23636"  stroke="#D23636" stroke-width="19.2" stroke-linejoin="round"/>
<path d="M200,690C213,684 250,662 280,655C310,648 347,646 380,650C413,654 450,672 480,680C510,688 565,695 560,700C555,705 488,712 450,712C412,712 372,707 330,703C288,699 222,692 200,690Z" fill="#701C98"  stroke="#701C98" stroke-width="19.2" stroke-linejoin="round"/>
<path d="M560,660C572,654 622,647 650,648C678,649 730,658 730,665C730,672 675,689 650,692C625,695 595,690 580,685C565,680 548,666 560,660Z" fill="#8D247A"  stroke="#8D247A" stroke-width="19.2" stroke-linejoin="round"/>
<path d="M900,770C930,760 1050,720 1080,710C1093,714 1147,731 1160,735C1130,746 1010,791 980,802C967,797 913,775 900,770Z" fill="#F5B042"  stroke="#F5B042" stroke-width="19.2" stroke-linejoin="round"/>
<path d="M1070,860C1097,844 1203,781 1230,765C1235,769 1257,786 1262,790C1238,805 1144,867 1120,882C1112,878 1078,864 1070,860Z" fill="#F18637"  stroke="#F18637" stroke-width="19.2" stroke-linejoin="round"/>
<path d="M1120,882C1142,873 1228,839 1250,830C1264,848 1321,922 1335,940C1326,944 1289,958 1280,962C1267,952 1227,913 1200,900C1173,887 1133,885 1120,882Z" fill="#F8C546"  stroke="#F8C546" stroke-width="19.2" stroke-linejoin="round"/>
<path d="M1180,765C1203,760 1297,742 1320,738C1323,742 1337,756 1340,760C1320,765 1240,785 1220,790C1213,786 1187,769 1180,765Z" fill="#FBDB4A"  stroke="#FBDB4A" stroke-width="19.2" stroke-linejoin="round"/>
<path d="M170,750C192,758 253,787 300,800C347,813 400,818 450,830C500,842 550,858 600,870C650,882 700,888 750,900C800,912 858,925 900,940C942,955 983,982 1000,990C983,992 942,997 900,1000C858,1003 800,1006 750,1010C700,1014 650,1024 600,1022C550,1020 503,1004 450,1000C397,996 308,996 280,995C300,992 392,991 400,975C408,959 353,924 330,900C307,876 287,855 260,830C233,805 185,763 170,750Z" fill="#EE5C2C"  stroke="#EE5C2C" stroke-width="19.2" stroke-linejoin="round"/>
<path d="M330,850C342,837 438,868 500,880C562,892 637,906 700,920C763,934 880,952 880,965C880,978 760,994 700,1000C640,1006 565,1007 520,1000C475,993 462,985 430,960C398,935 318,863 330,850Z" fill="#EC4A2A"  stroke="#EC4A2A" stroke-width="19.2" stroke-linejoin="round"/>
<path d="M950,1040C965,1035 1025,1015 1040,1010C1048,1013 1078,1027 1085,1030C1071,1035 1014,1057 1000,1062C992,1058 958,1044 950,1040Z" fill="#F5B042"  stroke="#F5B042" stroke-width="19.2" stroke-linejoin="round"/>
<path d="M30,960C45,961 97,961 120,965C143,969 162,982 170,985C152,985 83,989 60,985C37,981 35,964 30,960Z" fill="#EF7031"  stroke="#EF7031" stroke-width="19.2" stroke-linejoin="round"/></g></g></g>
<g><g transform="translate(1420,280) scale(0.11482)"><g filter="url(#blA)"><path d="M280,40C317,33 397,7 500,0C603,-7 817,-7 900,0C983,7 983,33 1000,40C967,42 867,47 800,50C733,53 667,60 600,60C533,60 453,53 400,50C347,47 300,42 280,40Z" fill="#EE5C2C"  stroke="#EE5C2C" stroke-width="19.2" stroke-linejoin="round"/>
<path d="M950,75C965,69 1025,46 1040,40C1046,44 1069,61 1075,65C1062,71 1012,94 1000,100C992,96 958,79 950,75Z" fill="#F5B042"  stroke="#F5B042" stroke-width="19.2" stroke-linejoin="round"/>
<path d="M180,110C217,112 330,117 400,120C470,123 533,127 600,130C667,133 733,127 800,140C867,153 942,190 1000,210C1058,230 1100,245 1150,260C1200,275 1258,287 1300,300C1342,313 1367,325 1400,340C1433,355 1480,378 1500,390C1520,402 1517,407 1520,410C1508,418 1473,448 1450,460C1427,472 1392,477 1380,480C1358,473 1288,452 1250,440C1212,428 1183,420 1150,410C1117,400 1067,385 1050,380C1058,372 1092,338 1100,330C1083,325 1050,303 1000,300C950,297 867,305 800,310C733,315 667,332 600,330C533,328 457,309 400,300C343,291 283,279 260,275C283,272 363,264 400,260C437,256 483,258 480,250C477,242 415,225 380,210C345,195 303,177 270,160C237,143 195,118 180,110Z" fill="#EC4A2A"  stroke="#EC4A2A" stroke-width="19.2" stroke-linejoin="round"/>
<path d="M1300,310C1303,301 1364,328 1400,345C1436,362 1496,399 1515,410C1504,418 1472,447 1450,458C1428,469 1396,475 1385,478C1376,472 1331,453 1330,440C1329,427 1385,422 1380,400C1375,378 1297,319 1300,310Z" fill="#F18637"  stroke="#F18637" stroke-width="19.2" stroke-linejoin="round"/>
<path d="M460,195C487,180 627,182 700,185C773,188 840,199 900,215C960,231 1060,267 1060,280C1060,293 960,291 900,295C840,299 760,308 700,305C640,302 580,293 540,275C500,257 433,210 460,195Z" fill="#BE3048"  stroke="#BE3048" stroke-width="19.2" stroke-linejoin="round"/>
<path d="M560,215C577,206 647,202 700,205C753,208 833,224 880,235C927,246 983,262 980,270C977,278 907,278 860,280C813,282 743,288 700,285C657,282 623,272 600,260C577,248 543,224 560,215Z" fill="#A72B5E"  stroke="#A72B5E" stroke-width="19.2" stroke-linejoin="round"/>
<path d="M1160,160C1170,156 1210,139 1220,135C1263,152 1437,218 1480,235C1470,237 1430,245 1420,247C1377,232 1203,174 1160,160Z" fill="#EF7031"  stroke="#EF7031" stroke-width="19.2" stroke-linejoin="round"/>
<path d="M1260,115C1272,112 1318,102 1330,100C1342,105 1388,125 1400,130C1392,133 1358,147 1350,150C1335,144 1275,121 1260,115Z" fill="#F8C546"  stroke="#F8C546" stroke-width="19.2" stroke-linejoin="round"/>
<path d="M140,290C167,297 240,317 300,330C360,343 433,358 500,370C567,382 642,393 700,400C758,407 800,403 850,410C900,417 950,425 1000,440C1050,455 1100,480 1150,500C1200,520 1275,550 1300,560C1283,562 1242,572 1200,570C1158,568 1100,552 1050,550C1000,548 933,556 900,560C867,564 883,574 850,572C817,570 750,557 700,550C650,543 600,528 550,530C500,532 425,555 400,560C403,553 437,530 420,520C403,510 362,504 300,500C238,496 135,501 50,498C-35,495 -166,485 -209,482C-166,481 -18,475 50,476C118,477 142,489 200,488C258,487 383,481 400,470C417,459 330,440 300,420C270,400 247,372 220,350C193,328 153,300 140,290Z" fill="#EC4A2A"  stroke="#EC4A2A" stroke-width="19.2" stroke-linejoin="round"/>
<path d="M250,350C275,348 383,387 450,400C517,413 583,422 650,430C717,438 790,441 850,450C910,459 1010,472 1010,485C1010,498 910,518 850,525C790,532 712,528 650,525C588,522 525,514 480,505C435,496 410,486 380,470C350,454 322,430 300,410C278,390 225,352 250,350Z" fill="#A72B5E"  stroke="#A72B5E" stroke-width="19.2" stroke-linejoin="round"/>
<path d="M400,425C438,421 583,433 650,440C717,447 800,457 800,468C800,479 700,504 650,508C600,512 538,502 500,495C462,488 437,477 420,465C403,453 362,429 400,425Z" fill="#701C98"  stroke="#701C98" stroke-width="19.2" stroke-linejoin="round"/>
<path d="M520,455C538,450 613,452 650,455C687,458 740,465 740,472C740,479 683,493 650,495C617,497 562,492 540,485C518,478 502,460 520,455Z" fill="#5216B6"  stroke="#5216B6" stroke-width="19.2" stroke-linejoin="round"/>
<path d="M1070,625C1097,615 1203,575 1230,565C1247,569 1297,578 1330,590C1363,602 1405,623 1430,640C1455,657 1472,682 1480,690C1467,693 1438,713 1400,710C1362,707 1292,680 1250,670C1208,660 1180,658 1150,650C1120,642 1083,629 1070,625Z" fill="#EC4A2A"  stroke="#EC4A2A" stroke-width="19.2" stroke-linejoin="round"/>
<path d="M1330,595C1338,592 1405,624 1430,640C1455,656 1470,682 1478,690C1465,693 1416,713 1400,708C1384,703 1392,679 1380,660C1368,641 1322,598 1330,595Z" fill="#F18637"  stroke="#F18637" stroke-width="19.2" stroke-linejoin="round"/>
<path d="M950,345C967,350 1033,370 1050,375C1047,378 1033,392 1030,395C1017,387 963,353 950,345Z" fill="#EF7031"  stroke="#EF7031" stroke-width="19.2" stroke-linejoin="round"/>
<path d="M150,560C183,567 283,590 350,600C417,610 483,615 550,620C617,625 692,625 750,630C808,635 850,638 900,650C950,662 1000,682 1050,700C1100,718 1150,743 1200,760C1250,777 1308,788 1350,800C1392,812 1422,821 1450,830C1478,839 1508,851 1520,855C1500,862 1437,888 1400,900C1363,912 1337,919 1300,930C1263,941 1200,959 1180,965C1158,959 1092,941 1050,930C1008,919 950,905 930,900C942,893 958,880 1000,860C1042,840 1150,793 1180,780C1150,777 1047,760 1000,760C953,760 950,773 900,780C850,787 767,797 700,800C633,803 558,802 500,800C442,798 375,792 350,790C372,783 472,765 480,750C488,735 447,705 400,700C353,695 233,717 200,720C233,715 383,703 400,690C417,677 333,657 300,640C267,623 225,603 200,590C175,577 158,565 150,560Z" fill="#EC4A2A"  stroke="#EC4A2A" stroke-width="19.2" stroke-linejoin="round"/>
<path d="M450,650C475,642 583,653 650,660C717,667 790,678 850,690C910,702 1010,726 1010,735C1010,744 910,745 850,745C790,745 708,742 650,735C592,728 533,719 500,705C467,691 425,658 450,650Z" fill="#A72B5E"  stroke="#A72B5E" stroke-width="19.2" stroke-linejoin="round"/>
<path d="M1040,835C1065,821 1157,798 1200,800C1243,802 1308,832 1300,850C1292,868 1192,899 1150,905C1108,911 1068,897 1050,885C1032,873 1015,849 1040,835Z" fill="#BE3048"  stroke="#BE3048" stroke-width="19.2" stroke-linejoin="round"/>
<path d="M1380,815C1388,810 1427,825 1450,832C1473,839 1508,852 1520,856C1500,863 1432,887 1400,898C1368,909 1342,916 1330,920C1342,910 1392,878 1400,860C1408,842 1372,820 1380,815Z" fill="#EF7031"  stroke="#EF7031" stroke-width="19.2" stroke-linejoin="round"/>
<path d="M150,760C175,770 250,800 300,820C350,840 400,863 450,880C500,897 542,908 600,920C658,932 742,940 800,950C858,960 925,975 950,980C933,983 900,997 850,1000C800,1003 717,1003 650,1000C583,997 508,987 450,980C392,973 342,973 300,960C258,947 255,915 200,900C145,885 8,877 -30,872C17,873 187,878 250,878C313,878 350,881 350,870C350,859 283,828 250,810C217,792 167,768 150,760Z" fill="#EC4A2A"  stroke="#EC4A2A" stroke-width="19.2" stroke-linejoin="round"/>
<path d="M-30,885C0,884 95,872 150,880C205,888 258,916 300,930C342,944 383,957 400,962C375,960 300,959 250,952C200,945 147,933 100,922C53,911 -8,891 -30,885Z" fill="#A72B5E"  stroke="#A72B5E" stroke-width="19.2" stroke-linejoin="round"/>
<path d="M-165,955C-154,953 -136,944 -100,945C-64,946 0,955 50,960C100,965 175,972 200,975C192,980 183,1001 150,1005C117,1009 52,1008 0,1000C-52,992 -138,962 -165,955Z" fill="#F18637"  stroke="#F18637" stroke-width="19.2" stroke-linejoin="round"/></g></g></g>
<g><g transform="translate(1420,390) scale(0.11482)"><g filter="url(#blA)"><path d="M430,-10C508,-10 822,-10 900,-10C908,-2 942,28 950,35C925,37 858,42 800,45C742,48 650,52 600,50C550,48 528,40 500,30C472,20 442,-3 430,-10Z" fill="#EC4A2A"  stroke="#EC4A2A" stroke-width="19.2" stroke-linejoin="round"/>
<path d="M1000,190C1033,180 1167,140 1200,130C1225,135 1308,148 1350,160C1392,172 1433,193 1450,200C1425,207 1350,232 1300,240C1250,248 1200,258 1150,250C1100,242 1025,200 1000,190Z" fill="#EC4A2A"  stroke="#EC4A2A" stroke-width="19.2" stroke-linejoin="round"/>
<path d="M1300,150C1320,144 1425,192 1450,200C1430,206 1355,243 1330,235C1305,227 1280,156 1300,150Z" fill="#F18637"  stroke="#F18637" stroke-width="19.2" stroke-linejoin="round"/>
<path d="M170,135C200,141 287,159 350,170C413,181 483,192 550,200C617,208 683,208 750,215C817,222 883,229 950,240C1017,251 1092,267 1150,280C1208,293 1275,313 1300,320C1283,318 1250,317 1200,310C1150,303 1067,289 1000,280C933,271 867,260 800,255C733,250 658,248 600,250C542,252 500,263 450,270C400,277 345,285 300,290C255,295 200,298 180,300C192,293 213,269 250,260C287,251 392,255 400,245C408,235 333,212 300,200C267,188 222,181 200,170C178,159 175,141 170,135Z" fill="#EC4A2A"  stroke="#EC4A2A" stroke-width="19.2" stroke-linejoin="round"/>
<path d="M720,490C742,482 812,455 850,440C888,425 922,413 950,400C978,387 987,373 1020,360C1053,347 1103,328 1150,320C1197,312 1258,307 1300,310C1342,313 1363,329 1400,340C1437,351 1500,369 1520,375C1500,382 1445,404 1400,420C1355,436 1300,457 1250,470C1200,483 1150,493 1100,500C1050,507 992,507 950,510C908,513 888,523 850,520C812,517 742,495 720,490Z" fill="#EC4A2A"  stroke="#EC4A2A" stroke-width="19.2" stroke-linejoin="round"/>
<path d="M1380,335C1400,333 1498,368 1522,375C1502,383 1432,411 1400,422C1368,433 1330,446 1330,440C1330,434 1392,402 1400,385C1408,368 1360,337 1380,335Z" fill="#EF7031"  stroke="#EF7031" stroke-width="19.2" stroke-linejoin="round"/>
<path d="M150,700C175,706 255,725 300,735C345,745 400,756 420,760C405,765 367,780 330,790C293,800 222,817 200,822C205,813 233,784 230,770C227,756 193,752 180,740C167,728 155,707 150,700Z" fill="#EC4A2A"  stroke="#EC4A2A" stroke-width="19.2" stroke-linejoin="round"/>
<path d="M880,730C900,725 963,708 1000,700C1037,692 1067,691 1100,685C1133,679 1162,662 1200,665C1238,668 1308,694 1330,700C1317,707 1288,732 1250,740C1212,748 1150,749 1100,750C1050,751 987,748 950,745C913,742 892,732 880,730Z" fill="#EE5C2C"  stroke="#EE5C2C" stroke-width="19.2" stroke-linejoin="round"/>
<path d="M420,960C442,960 503,963 550,960C597,957 650,949 700,940C750,931 808,904 850,905C892,906 933,938 950,945C975,938 1050,914 1100,900C1150,886 1200,862 1250,860C1300,858 1375,885 1400,890C1383,897 1342,918 1300,930C1258,942 1200,955 1150,965C1100,975 1025,979 1000,990C975,1001 1000,1023 1000,1030C975,1025 900,1007 850,1000C800,993 750,992 700,990C650,988 597,990 550,985C503,980 442,964 420,960Z" fill="#D23636"  stroke="#D23636" stroke-width="19.2" stroke-linejoin="round"/>
<path d="M600,965C608,960 700,951 750,950C800,949 862,950 900,960C938,970 988,1005 980,1010C972,1015 897,995 850,990C803,985 742,986 700,982C658,978 592,970 600,965Z" fill="#8D247A"  stroke="#8D247A" stroke-width="19.2" stroke-linejoin="round"/>
<path d="M1000,930C1017,918 1103,898 1150,890C1197,882 1280,873 1280,880C1280,887 1188,917 1150,930C1112,943 1075,960 1050,960C1025,960 983,942 1000,930Z" fill="#A72B5E"  stroke="#A72B5E" stroke-width="19.2" stroke-linejoin="round"/></g></g></g>
<g clip-path="url(#cs3)"><g transform="translate(1300,546) scale(0.18799)"><g filter="url(#blS)"><path d="M560,20C583,17 593,3 700,0C807,-3 1112,-3 1200,0C1288,3 1225,17 1230,20C1208,22 1147,30 1100,30C1053,30 1000,18 950,20C900,22 842,33 800,40C758,47 730,60 700,60C670,60 643,47 620,40C597,33 570,23 560,20Z" fill="#BE3048"  stroke="#BE3048" stroke-width="11.7" stroke-linejoin="round"/>
<path d="M680,60C700,62 763,65 800,70C837,75 867,85 900,90C933,95 967,99 1000,100C1033,101 1067,90 1100,95C1133,100 1175,118 1200,130C1225,142 1225,156 1250,165C1275,174 1317,178 1350,185C1383,192 1433,202 1450,205C1425,206 1358,212 1300,210C1242,208 1158,198 1100,190C1042,182 992,172 950,160C908,148 883,125 850,115C817,105 778,109 750,100C722,91 692,67 680,60Z" fill="#EC4A2A"  stroke="#EC4A2A" stroke-width="11.7" stroke-linejoin="round"/>
<path d="M700,65C708,61 767,68 800,72C833,76 867,87 900,92C933,97 967,101 1000,102C1033,103 1067,92 1100,97C1133,102 1175,121 1200,132C1225,143 1228,156 1250,165C1272,174 1330,180 1330,183C1330,186 1280,186 1250,183C1220,180 1183,174 1150,168C1117,162 1083,155 1050,148C1017,141 983,135 950,128C917,121 883,113 850,108C817,103 775,105 750,98C725,91 692,69 700,65Z" fill="#701C98"  stroke="#701C98" stroke-width="11.7" stroke-linejoin="round"/>
<path d="M900,98C900,94 967,107 1000,108C1033,109 1070,100 1100,104C1130,108 1180,128 1180,135C1180,142 1130,146 1100,145C1070,144 1033,140 1000,132C967,124 900,102 900,98Z" fill="#5216B6"  stroke="#5216B6" stroke-width="11.7" stroke-linejoin="round"/>
<path d="M1150,95C1175,92 1250,80 1300,75C1350,70 1413,65 1450,65C1487,65 1508,73 1520,75C1500,78 1445,90 1400,95C1355,100 1292,105 1250,105C1208,105 1167,97 1150,95Z" fill="#EC4A2A"  stroke="#EC4A2A" stroke-width="11.7" stroke-linejoin="round"/>
<path d="M640,130C650,128 680,123 700,120C720,117 738,105 760,110C782,115 818,143 830,150C823,156 812,181 790,185C768,189 722,180 700,175C678,170 670,162 660,155C650,148 643,134 640,130Z" fill="#EC4A2A"  stroke="#EC4A2A" stroke-width="11.7" stroke-linejoin="round"/>
<path d="M640,225C650,223 677,211 700,215C723,219 755,236 780,250C805,264 838,292 850,300C840,303 812,322 790,320C768,318 735,300 720,290C705,280 713,271 700,260C687,249 650,231 640,225Z" fill="#EC4A2A"  stroke="#EC4A2A" stroke-width="11.7" stroke-linejoin="round"/>
<path d="M490,265C498,263 532,257 540,255C553,261 607,284 620,290C613,293 587,307 580,310C565,302 505,272 490,265Z" fill="#F5B042"  stroke="#F5B042" stroke-width="11.7" stroke-linejoin="round"/>
<path d="M590,270C598,268 632,262 640,260C660,272 740,318 760,330C750,332 710,342 700,345C682,332 608,282 590,270Z" fill="#EF7031"  stroke="#EF7031" stroke-width="11.7" stroke-linejoin="round"/>
<path d="M720,195C733,198 770,207 800,215C830,223 867,241 900,245C933,249 967,245 1000,240C1033,235 1067,213 1100,215C1133,217 1175,234 1200,250C1225,266 1242,300 1250,310C1252,316 1258,339 1260,345C1242,342 1177,338 1150,330C1123,322 1125,307 1100,300C1075,293 1033,293 1000,290C967,287 933,287 900,280C867,273 830,264 800,250C770,236 733,204 720,195Z" fill="#EC4A2A"  stroke="#EC4A2A" stroke-width="11.7" stroke-linejoin="round"/>
<path d="M900,250C900,245 967,252 1000,250C1033,248 1070,232 1100,235C1130,238 1180,257 1180,265C1180,273 1130,282 1100,285C1070,288 1033,286 1000,280C967,274 900,255 900,250Z" fill="#D23636"  stroke="#D23636" stroke-width="11.7" stroke-linejoin="round"/>
<path d="M1230,240C1250,236 1305,222 1350,215C1395,208 1465,202 1500,200C1535,198 1550,204 1560,205C1533,210 1447,228 1400,235C1353,242 1308,249 1280,250C1252,251 1238,242 1230,240Z" fill="#EC4A2A"  stroke="#EC4A2A" stroke-width="11.7" stroke-linejoin="round"/>
<path d="M730,385C742,384 772,378 800,380C828,382 867,397 900,400C933,403 967,395 1000,400C1033,405 1067,420 1100,430C1133,440 1167,450 1200,460C1233,470 1267,482 1300,490C1333,498 1367,505 1400,510C1433,515 1483,518 1500,520C1483,521 1442,527 1400,525C1358,523 1300,516 1250,510C1200,504 1142,497 1100,490C1058,483 1033,477 1000,470C967,463 933,457 900,450C867,443 828,441 800,430C772,419 742,392 730,385Z" fill="#EC4A2A"  stroke="#EC4A2A" stroke-width="11.7" stroke-linejoin="round"/>
<path d="M1000,440C1000,434 1067,445 1100,450C1133,455 1167,462 1200,470C1233,478 1267,488 1300,495C1333,502 1408,513 1400,515C1392,517 1300,513 1250,508C1200,503 1142,496 1100,485C1058,474 1000,446 1000,440Z" fill="#BE3048"  stroke="#BE3048" stroke-width="11.7" stroke-linejoin="round"/>
<path d="M730,515C740,511 770,492 790,490C810,488 823,492 850,500C877,508 917,528 950,540C983,552 1017,563 1050,570C1083,577 1117,575 1150,580C1183,585 1220,590 1250,600C1280,610 1317,633 1330,640C1317,642 1280,652 1250,650C1220,648 1183,635 1150,630C1117,625 1083,625 1050,620C1017,615 983,608 950,600C917,592 878,579 850,570C822,561 800,554 780,545C760,536 738,520 730,515Z" fill="#EC4A2A"  stroke="#EC4A2A" stroke-width="11.7" stroke-linejoin="round"/>
<path d="M760,505C768,500 818,498 850,505C882,512 917,533 950,545C983,557 1017,568 1050,575C1083,582 1120,584 1150,590C1180,596 1230,606 1230,610C1230,614 1180,615 1150,615C1120,615 1092,615 1050,608C1008,601 942,587 900,575C858,563 823,547 800,535C777,523 752,510 760,505Z" fill="#8D247A"  stroke="#8D247A" stroke-width="11.7" stroke-linejoin="round"/>
<path d="M800,510C808,508 867,526 900,535C933,544 992,558 1000,565C1008,572 975,578 950,575C925,572 875,556 850,545C825,534 792,512 800,510Z" fill="#5216B6"  stroke="#5216B6" stroke-width="11.7" stroke-linejoin="round"/>
<path d="M550,590C558,588 592,582 600,580C615,587 667,618 690,620C713,622 732,595 740,590C750,598 790,628 800,635C793,641 777,661 760,670C743,679 710,687 700,690C690,682 665,657 640,640C615,623 565,598 550,590Z" fill="#EE5C2C"  stroke="#EE5C2C" stroke-width="11.7" stroke-linejoin="round"/>
<path d="M550,590C558,588 592,582 600,580C610,585 657,602 660,610C663,618 638,633 620,630C602,627 562,597 550,590Z" fill="#F39B3E"  stroke="#F39B3E" stroke-width="11.7" stroke-linejoin="round"/>
<path d="M640,640C650,635 690,615 700,610C717,617 767,635 800,650C833,665 867,685 900,700C933,715 967,732 1000,740C1033,748 1067,750 1100,750C1133,750 1183,742 1200,740C1207,748 1225,773 1240,790C1255,807 1282,832 1290,840C1275,842 1240,849 1200,850C1160,851 1092,851 1050,845C1008,839 983,827 950,815C917,803 882,788 850,775C818,762 785,749 760,735C735,721 720,706 700,690C680,674 650,648 640,640Z" fill="#EC4A2A"  stroke="#EC4A2A" stroke-width="11.7" stroke-linejoin="round"/>
<path d="M1100,760C1117,758 1183,752 1200,750C1210,763 1250,817 1260,830C1247,832 1193,838 1180,840C1167,835 1113,823 1100,810C1087,797 1100,768 1100,760Z" fill="#F18637"  stroke="#F18637" stroke-width="11.7" stroke-linejoin="round"/>
<path d="M1310,830C1325,829 1368,823 1400,825C1432,827 1483,838 1500,840C1483,843 1422,856 1400,860C1378,864 1375,864 1370,865C1360,859 1320,836 1310,830Z" fill="#EE5C2C"  stroke="#EE5C2C" stroke-width="11.7" stroke-linejoin="round"/></g></g></g>
<g clip-path="url(#cs4)"><g transform="translate(1300,749) scale(0.18799)"><g filter="url(#blS)"><path d="M730,555C738,559 760,569 780,580C800,591 822,603 850,620C878,637 917,662 950,680C983,698 1025,714 1050,725C1075,736 1092,742 1100,745C1117,738 1167,714 1200,700C1233,686 1267,673 1300,660C1333,647 1367,633 1400,620C1433,607 1473,588 1500,580C1527,572 1550,576 1560,575C1550,582 1527,606 1500,620C1473,634 1433,648 1400,660C1367,672 1333,678 1300,690C1267,702 1233,718 1200,730C1167,742 1117,757 1100,762C1083,759 1033,754 1000,742C967,730 933,709 900,692C867,675 823,657 800,642C777,627 772,614 760,600C748,586 735,562 730,555Z" fill="#EC4A2A"  stroke="#EC4A2A" stroke-width="11.7" stroke-linejoin="round"/>
<path d="M800,645C817,649 867,678 900,695C933,712 967,733 1000,745C1033,757 1067,767 1100,765C1133,763 1167,745 1200,733C1233,721 1283,696 1300,693C1317,690 1317,705 1300,715C1283,725 1233,742 1200,755C1167,768 1133,787 1100,790C1067,793 1033,783 1000,772C967,761 933,739 900,722C867,705 817,685 800,672C783,659 783,641 800,645Z" fill="#F39B3E"  stroke="#F39B3E" stroke-width="11.7" stroke-linejoin="round"/>
<path d="M730,680C738,678 772,672 780,670C792,680 822,708 850,730C878,752 917,778 950,800C983,822 1025,846 1050,860C1075,874 1092,881 1100,885C1092,884 1075,889 1050,882C1025,875 983,859 950,842C917,825 880,798 850,782C820,766 783,751 770,745C775,743 807,746 800,735C793,724 742,689 730,680Z" fill="#E13D2C"  stroke="#E13D2C" stroke-width="11.7" stroke-linejoin="round"/>
<path d="M1160,880C1175,872 1218,843 1250,830C1282,817 1330,802 1350,800C1370,798 1367,812 1370,815C1355,821 1310,837 1280,850C1250,863 1205,885 1190,892C1185,890 1165,882 1160,880Z" fill="#F39B3E"  stroke="#F39B3E" stroke-width="11.7" stroke-linejoin="round"/>
<path d="M780,770C792,775 822,785 850,800C878,815 925,846 950,860C975,874 992,878 1000,882C993,882 983,890 960,882C937,874 890,851 860,832C830,813 793,780 780,770Z" fill="#F39B3E"  stroke="#F39B3E" stroke-width="11.7" stroke-linejoin="round"/>
<path d="M500,725C505,722 525,712 530,710C545,718 592,745 620,760C648,775 682,793 700,800C718,807 725,800 730,800C722,805 688,827 680,832C667,825 630,808 600,790C570,772 517,736 500,725Z" fill="#F5B042"  stroke="#F5B042" stroke-width="11.7" stroke-linejoin="round"/></g></g></g>
<g><g transform="translate(1300,480) scale(0.18799)"><g filter="url(#blS)"><path d="M690,215C702,217 733,225 760,225C787,225 818,215 850,215C882,215 908,223 950,225C992,227 1050,229 1100,225C1150,221 1200,206 1250,200C1300,194 1350,191 1400,190C1450,189 1525,194 1550,195C1533,198 1492,208 1450,215C1408,222 1333,228 1300,235C1267,242 1258,256 1250,260C1225,261 1142,266 1100,265C1058,264 1033,258 1000,255C967,252 933,248 900,250C867,252 817,267 800,270C790,266 758,254 740,245C722,236 698,220 690,215Z" fill="#EC4A2A"  stroke="#EC4A2A" stroke-width="11.7" stroke-linejoin="round"/>
<path d="M880,228C897,226 960,231 1000,232C1040,233 1080,235 1120,232C1160,229 1222,212 1240,215C1258,218 1253,244 1230,252C1207,260 1138,260 1100,260C1062,260 1033,252 1000,250C967,248 920,249 900,245C880,241 863,230 880,228Z" fill="#8D247A"  stroke="#8D247A" stroke-width="11.7" stroke-linejoin="round"/>
<path d="M720,290C733,292 770,295 800,300C830,305 867,317 900,320C933,323 967,319 1000,320C1033,321 1067,328 1100,325C1133,322 1167,305 1200,300C1233,295 1258,294 1300,295C1342,296 1407,302 1450,305C1493,308 1542,313 1560,315C1533,318 1452,329 1400,335C1348,341 1283,344 1250,350C1217,356 1208,367 1200,370C1183,369 1133,365 1100,365C1067,365 1033,371 1000,370C967,369 933,365 900,360C867,355 830,352 800,340C770,328 733,298 720,290Z" fill="#EC4A2A"  stroke="#EC4A2A" stroke-width="11.7" stroke-linejoin="round"/>
<path d="M740,295C740,290 773,300 800,305C827,310 867,322 900,325C933,328 967,324 1000,325C1033,326 1070,332 1100,330C1130,328 1165,310 1180,315C1195,320 1203,352 1190,360C1177,368 1132,359 1100,360C1068,361 1033,366 1000,365C967,364 933,360 900,355C867,350 827,345 800,335C773,325 740,300 740,295Z" fill="#701C98"  stroke="#701C98" stroke-width="11.7" stroke-linejoin="round"/>
<path d="M900,330C908,326 967,329 1000,330C1033,331 1075,332 1100,335C1125,338 1158,346 1150,350C1142,354 1083,359 1050,360C1017,361 975,360 950,355C925,350 892,334 900,330Z" fill="#5216B6"  stroke="#5216B6" stroke-width="11.7" stroke-linejoin="round"/>
<path d="M550,375C562,376 595,386 620,380C645,374 687,347 700,340C713,342 758,342 780,350C802,358 822,379 830,385C823,391 797,414 790,420C800,423 823,432 850,440C877,448 917,462 950,470C983,478 1017,485 1050,490C1083,495 1125,495 1150,500C1175,505 1192,517 1200,520C1183,519 1133,518 1100,515C1067,512 1033,506 1000,500C967,494 933,488 900,480C867,472 830,458 800,450C770,442 745,438 720,430C695,422 678,409 650,400C622,391 567,379 550,375Z" fill="#EC4A2A"  stroke="#EC4A2A" stroke-width="11.7" stroke-linejoin="round"/>
<path d="M700,350C710,344 760,352 780,358C800,364 818,378 820,388C822,398 785,408 790,418C795,428 823,436 850,445C877,454 917,464 950,472C983,480 1050,490 1050,492C1050,494 983,490 950,485C917,480 882,472 850,462C818,452 782,436 760,425C738,414 730,408 720,395C710,382 690,356 700,350Z" fill="#8D247A"  stroke="#8D247A" stroke-width="11.7" stroke-linejoin="round"/>
<path d="M620,55C633,57 673,58 700,65C727,72 755,86 780,95C805,104 838,116 850,120C845,127 838,149 820,160C802,171 753,181 740,185C717,179 623,156 600,150C613,148 657,138 680,135C703,132 738,141 740,135C742,129 710,113 690,100C670,87 632,62 620,55Z" fill="#E13D2C"  stroke="#E13D2C" stroke-width="11.7" stroke-linejoin="round"/>
<path d="M630,60C630,54 675,63 700,70C725,77 758,91 780,100C802,109 833,120 830,125C827,130 782,133 760,130C738,127 722,117 700,105C678,93 630,66 630,60Z" fill="#8D247A"  stroke="#8D247A" stroke-width="11.7" stroke-linejoin="round"/>
<path d="M600,150C613,148 657,138 680,135C703,132 720,131 740,135C760,139 800,151 800,160C800,169 750,182 740,187C717,181 623,156 600,150Z" fill="#F18637"  stroke="#F18637" stroke-width="11.7" stroke-linejoin="round"/></g></g></g>
<g><g transform="translate(1370,330) scale(0.17588)"><g filter="url(#blS)"><path d="M130,640C142,639 180,642 200,635C220,628 242,606 250,600C263,598 305,585 330,585C355,585 382,591 400,600C418,609 420,630 440,640C460,650 487,656 520,660C553,664 620,664 640,665C623,669 570,683 540,690C510,697 483,700 460,705C437,710 410,719 400,722C388,717 355,700 330,690C305,680 283,670 250,662C217,654 150,644 130,640Z" fill="#E13D2C"  stroke="#E13D2C" stroke-width="12.5" stroke-linejoin="round"/>
<path d="M260,600C262,594 307,589 330,590C353,591 382,596 400,605C418,614 420,632 440,642C460,652 520,657 520,662C520,667 463,672 440,670C417,668 400,658 380,650C360,642 340,633 320,625C300,617 258,606 260,600Z" fill="#A72B5E"  stroke="#A72B5E" stroke-width="12.5" stroke-linejoin="round"/>
<path d="M200,660C222,665 297,680 330,690C363,700 388,717 400,722C388,723 342,729 330,730C308,718 222,672 200,660Z" fill="#F39B3E"  stroke="#F39B3E" stroke-width="12.5" stroke-linejoin="round"/>
<path d="M270,290C288,289 352,282 380,285C408,288 423,302 440,310C457,318 473,331 480,335C467,337 425,347 400,345C375,343 352,334 330,325C308,316 280,296 270,290Z" fill="#A72B5E"  stroke="#A72B5E" stroke-width="12.5" stroke-linejoin="round"/>
<path d="M180,340C188,339 205,334 230,335C255,336 298,342 330,345C362,348 405,349 420,350C413,353 403,368 380,370C357,372 313,370 280,365C247,360 197,344 180,340Z" fill="#F18637"  stroke="#F18637" stroke-width="12.5" stroke-linejoin="round"/>
<path d="M330,165C345,166 388,168 420,170C452,172 503,178 520,180C507,182 467,194 440,195C413,196 378,190 360,185C342,180 335,168 330,165Z" fill="#EC4A2A"  stroke="#EC4A2A" stroke-width="12.5" stroke-linejoin="round"/></g></g></g>
<g><g transform="translate(1330,690) scale(0.16667)"><g filter="url(#blS)"><path d="M650,120C658,122 675,128 700,135C725,142 767,153 800,165C833,177 867,190 900,205C933,220 967,242 1000,255C1033,268 1067,279 1100,280C1133,281 1167,266 1200,262C1233,258 1267,260 1300,255C1333,250 1383,238 1400,235C1400,240 1400,258 1400,262C1383,266 1333,280 1300,285C1267,290 1233,290 1200,295C1167,300 1133,316 1100,315C1067,314 1033,302 1000,290C967,278 933,255 900,240C867,225 833,210 800,198C767,186 725,178 700,165C675,152 658,128 650,120Z" fill="#F39B3E"  stroke="#F39B3E" stroke-width="13.2" stroke-linejoin="round"/>
<path d="M640,100C648,95 675,83 690,70C705,57 723,28 730,20C742,26 772,40 800,55C828,70 867,92 900,110C933,128 967,145 1000,160C1033,175 1067,196 1100,200C1133,204 1167,191 1200,185C1233,179 1270,168 1300,165C1330,162 1355,158 1380,165C1405,172 1430,195 1450,205C1470,215 1492,222 1500,225C1483,228 1433,240 1400,245C1367,250 1333,252 1300,255C1267,258 1233,258 1200,262C1167,266 1133,281 1100,280C1067,279 1033,268 1000,255C967,242 933,220 900,205C867,190 833,177 800,165C767,153 727,146 700,135C673,124 650,106 640,100Z" fill="#EC4A2A"  stroke="#EC4A2A" stroke-width="13.2" stroke-linejoin="round"/>
<path d="M1290,70C1308,69 1362,62 1400,65C1438,68 1500,82 1520,85C1500,89 1427,105 1400,110C1373,115 1367,114 1360,115C1348,108 1302,78 1290,70Z" fill="#EE5C2C"  stroke="#EE5C2C" stroke-width="13.2" stroke-linejoin="round"/>
<path d="M380,310C387,308 413,298 420,295C437,304 487,332 520,350C553,368 590,385 620,400C650,415 687,433 700,440C693,442 667,450 660,452C643,443 593,416 560,400C527,384 490,370 460,355C430,340 393,318 380,310Z" fill="#F5B042"  stroke="#F5B042" stroke-width="13.2" stroke-linejoin="round"/>
<path d="M490,320C498,318 532,308 540,305C558,312 620,334 650,350C680,366 708,392 720,400C715,405 695,427 690,432C675,424 633,404 600,385C567,366 508,331 490,320Z" fill="#EF7031"  stroke="#EF7031" stroke-width="13.2" stroke-linejoin="round"/>
<path d="M600,275C617,283 667,308 700,325C733,342 767,358 800,375C833,392 867,409 900,425C933,441 967,463 1000,470C1033,477 1070,469 1100,465C1130,461 1157,454 1180,445C1203,436 1230,418 1240,412C1242,417 1248,435 1250,440C1238,446 1205,465 1180,475C1155,485 1130,494 1100,498C1070,502 1033,507 1000,500C967,493 933,473 900,458C867,443 833,425 800,408C767,391 733,380 700,358C667,336 617,289 600,275Z" fill="#F39B3E"  stroke="#F39B3E" stroke-width="13.2" stroke-linejoin="round"/>
<path d="M550,210C558,208 592,198 600,195C613,201 653,219 680,230C707,241 732,250 760,260C788,270 818,277 850,290C882,303 917,323 950,340C983,357 1025,380 1050,390C1075,400 1075,402 1100,400C1125,398 1183,379 1200,375C1207,381 1233,404 1240,410C1230,415 1203,432 1180,440C1157,448 1130,456 1100,460C1070,464 1033,472 1000,465C967,458 933,436 900,420C867,404 833,387 800,370C767,353 733,336 700,320C667,304 625,293 600,275C575,257 558,221 550,210Z" fill="#EC4A2A"  stroke="#EC4A2A" stroke-width="13.2" stroke-linejoin="round"/>
<path d="M640,232C645,229 670,229 690,235C710,241 755,261 760,268C765,275 737,277 720,275C703,273 673,262 660,255C647,248 635,235 640,232Z" fill="#8D247A"  stroke="#8D247A" stroke-width="13.2" stroke-linejoin="round"/>
<path d="M440,540C447,538 473,528 480,525C500,536 567,571 600,590C633,609 667,632 680,640C673,644 647,658 640,662C623,652 573,620 540,600C507,580 457,550 440,540Z" fill="#F39B3E"  stroke="#F39B3E" stroke-width="13.2" stroke-linejoin="round"/>
<path d="M700,520C717,527 767,546 800,560C833,574 867,589 900,605C933,621 967,643 1000,655C1033,667 1067,675 1100,675C1133,675 1167,662 1200,655C1233,648 1283,634 1300,630C1300,635 1300,655 1300,660C1283,665 1233,682 1200,692C1167,702 1133,722 1100,722C1067,722 1033,704 1000,692C967,680 933,667 900,652C867,637 833,617 800,602C767,587 717,574 700,560C683,546 700,527 700,520Z" fill="#F39B3E"  stroke="#F39B3E" stroke-width="13.2" stroke-linejoin="round"/>
<path d="M650,480C662,468 708,422 720,410C733,420 770,448 800,470C830,492 867,520 900,540C933,560 967,576 1000,590C1033,604 1067,623 1100,625C1133,627 1167,608 1200,600C1233,592 1258,578 1300,575C1342,572 1402,582 1450,585C1498,588 1567,589 1590,590C1567,597 1498,624 1450,630C1402,636 1342,622 1300,625C1258,628 1233,642 1200,650C1167,658 1133,670 1100,670C1067,670 1033,662 1000,650C967,638 933,616 900,600C867,584 833,568 800,555C767,542 725,532 700,520C675,508 658,487 650,480Z" fill="#EC4A2A"  stroke="#EC4A2A" stroke-width="13.2" stroke-linejoin="round"/>
<path d="M730,510C737,508 758,497 770,500C782,503 799,525 805,530C799,532 782,548 770,545C758,542 737,516 730,510Z" fill="#FFFB55" />
<path d="M440,700C445,698 465,692 470,690C485,697 535,713 560,730C585,747 610,780 620,790C610,787 590,787 560,772C530,757 460,712 440,700Z" fill="#F5B042"  stroke="#F5B042" stroke-width="13.2" stroke-linejoin="round"/>
<path d="M700,700C717,709 767,735 800,752C833,769 867,785 900,802C933,819 967,840 1000,852C1033,864 1067,874 1100,872C1133,870 1167,852 1200,842C1233,832 1283,817 1300,812C1300,817 1300,837 1300,842C1283,848 1233,864 1200,875C1167,886 1133,903 1100,905C1067,907 1033,897 1000,885C967,873 933,852 900,835C867,818 833,802 800,785C767,768 717,749 700,735C683,721 700,706 700,700Z" fill="#F39B3E"  stroke="#F39B3E" stroke-width="13.2" stroke-linejoin="round"/>
<path d="M650,650C658,647 692,633 700,630C713,638 753,663 780,680C807,697 832,713 860,730C888,747 918,765 950,780C982,795 1025,812 1050,820C1075,828 1075,833 1100,830C1125,827 1167,810 1200,800C1233,790 1267,779 1300,770C1333,761 1363,748 1400,745C1437,742 1500,751 1520,752C1512,758 1493,780 1470,790C1447,800 1395,808 1380,812C1367,812 1330,805 1300,810C1270,815 1233,830 1200,840C1167,850 1133,868 1100,870C1067,872 1033,862 1000,850C967,838 933,817 900,800C867,783 833,767 800,750C767,733 725,717 700,700C675,683 658,658 650,650Z" fill="#EC4A2A"  stroke="#EC4A2A" stroke-width="13.2" stroke-linejoin="round"/>
<path d="M680,890C693,892 732,892 760,902C788,912 818,930 850,947C882,964 917,986 950,1002C983,1018 1017,1037 1050,1042C1083,1047 1117,1040 1150,1032C1183,1024 1217,1009 1250,997C1283,985 1333,968 1350,962C1350,967 1350,987 1350,992C1333,998 1283,1018 1250,1030C1217,1042 1183,1058 1150,1065C1117,1072 1083,1080 1050,1075C1017,1070 983,1051 950,1035C917,1019 882,997 850,980C818,963 788,950 760,935C732,920 693,898 680,890Z" fill="#F39B3E"  stroke="#F39B3E" stroke-width="13.2" stroke-linejoin="round"/>
<path d="M600,860C610,858 650,852 660,850C665,840 685,800 690,790C705,798 748,820 780,840C812,860 847,888 880,910C913,932 952,955 980,970C1008,985 1030,993 1050,1000C1070,1007 1075,1013 1100,1010C1125,1007 1167,993 1200,980C1233,967 1267,944 1300,930C1333,916 1367,905 1400,895C1433,885 1477,872 1500,870C1523,868 1533,882 1540,885C1525,892 1482,918 1450,930C1418,942 1383,949 1350,960C1317,971 1283,983 1250,995C1217,1007 1183,1022 1150,1030C1117,1038 1083,1045 1050,1040C1017,1035 983,1016 950,1000C917,984 882,962 850,945C818,928 788,909 760,900C732,891 707,897 680,890C653,883 613,865 600,860Z" fill="#EC4A2A"  stroke="#EC4A2A" stroke-width="13.2" stroke-linejoin="round"/></g></g></g>
</g>
<g clip-path="url(#cs1)"><g transform="translate(1300,140) scale(0.18799)"><path d="M500,383C517,379 567,364 600,358C633,352 670,347 700,345C730,343 757,343 780,345C803,347 830,356 840,358" fill="none" stroke="#000" stroke-width="5"/></g></g>
<g><g transform="translate(1420,280) scale(0.11482)"><path d="M-20,80C3,85 75,94 120,110C165,126 228,164 250,175C233,187 167,233 150,245C122,243 8,237 -20,235C-20,209 -20,106 -20,80Z" fill="#000" />
<path d="M-20,340C17,341 153,339 200,345C247,351 252,370 262,375C243,382 197,408 150,420C103,432 8,441 -20,445C-20,428 -20,358 -20,340Z" fill="#000" />
<path d="M-20,520C8,526 110,542 150,555C190,568 210,592 222,600C205,608 160,638 120,650C80,662 3,667 -20,670C-20,645 -20,545 -20,520Z" fill="#000" />
<path d="M-20,740C0,743 58,748 100,760C142,772 210,802 232,810C218,817 192,840 150,850C108,860 8,867 -20,870C-20,848 -20,762 -20,740Z" fill="#000" />
<path d="M250,530C275,528 375,522 400,520C390,527 360,553 340,560C320,567 290,562 280,562C275,557 255,535 250,530Z" fill="#000" />
<path d="M260,740C292,738 418,732 450,730C433,738 375,766 350,775C325,784 308,781 300,782C293,775 267,747 260,740Z" fill="#000" />
<path d="M230,910C247,908 302,895 330,900C358,905 388,933 400,940C383,942 317,950 300,952C288,945 242,917 230,910Z" fill="#000" />
<path d="M160,1060C180,1047 260,993 280,980C297,979 363,976 380,975C358,990 272,1048 250,1062C235,1062 175,1060 160,1060Z" fill="#000" />
<path d="M600,885C627,878 715,854 760,840C805,826 852,807 870,800C888,811 962,854 980,865C970,872 950,907 920,910C890,913 837,887 800,885C763,883 733,897 700,897C667,897 617,887 600,885Z" fill="#000" />
<path d="M740,1085C753,1072 807,1022 820,1010C831,1022 874,1072 885,1085C861,1085 764,1085 740,1085Z" fill="#000" /></g></g>
<g><g transform="translate(1420,390) scale(0.11482)"><path d="M160,95C180,82 260,32 280,20C295,20 355,20 370,20C348,35 262,95 240,110C227,108 173,98 160,95Z" fill="#000" />
<path d="M600,178C617,172 672,155 700,140C728,125 749,104 770,90C791,76 816,61 825,55C838,66 871,98 900,120C929,142 983,178 1000,190C983,189 942,186 900,185C858,184 800,186 750,185C700,184 625,179 600,178Z" fill="#000" />
<path d="M-20,110C0,111 68,109 100,115C132,121 158,140 170,145C158,151 132,172 100,180C68,188 0,188 -20,190C-20,177 -20,123 -20,110Z" fill="#000" />
<path d="M110,200C133,197 202,174 250,180C298,186 375,226 400,235C383,236 333,242 300,240C267,238 232,232 200,225C168,218 125,204 110,200Z" fill="#000" />
<path d="M140,300C167,294 250,272 300,265C350,258 417,257 440,255C422,261 367,278 330,290C293,302 238,319 220,325C207,321 153,304 140,300Z" fill="#000" />
<path d="M-20,290C0,292 68,298 100,305C132,312 158,326 170,330C155,333 112,347 80,350C48,353 -3,350 -20,350C-20,340 -20,300 -20,290Z" fill="#000" />
<path d="M300,365C357,363 563,360 640,352C717,344 727,330 760,320C793,310 827,295 840,290C853,297 893,318 920,330C947,342 987,355 1000,360C990,367 963,387 940,400C917,413 890,428 860,440C830,452 787,468 760,475C733,482 727,486 700,485C673,484 633,478 600,470C567,462 533,452 500,440C467,428 433,412 400,400C367,388 317,371 300,365Z" fill="#000" />
<path d="M100,375C127,373 233,367 260,365C272,374 303,400 330,420C357,440 405,474 420,485C407,484 368,489 340,480C312,471 277,443 250,430C223,417 205,409 180,400C155,391 113,379 100,375Z" fill="#000" />
<path d="M150,650C175,644 250,623 300,615C350,607 407,602 450,600C493,598 527,605 560,600C593,595 623,580 650,570C677,560 695,546 720,540C745,534 777,532 800,535C823,538 838,548 860,560C882,572 903,592 930,610C957,628 992,653 1020,665C1048,677 1087,678 1100,680C1083,683 1033,693 1000,700C967,707 933,713 900,720C867,727 833,736 800,740C767,744 742,747 700,745C658,743 600,738 550,730C500,722 450,710 400,700C350,690 292,678 250,670C208,662 167,653 150,650Z" fill="#000" />
<path d="M-20,648C8,653 97,668 150,680C203,692 255,708 300,720C345,732 400,747 420,752C400,751 345,754 300,745C255,736 203,713 150,700C97,687 8,671 -20,665C-20,662 -20,651 -20,648Z" fill="#000" />
<path d="M140,850C167,842 248,810 300,800C352,790 400,792 450,790C500,788 550,786 600,785C650,784 703,784 750,785C797,786 838,782 880,790C922,798 980,823 1000,830C992,835 970,848 950,860C930,872 913,888 880,900C847,912 797,922 750,930C703,938 642,946 600,950C558,954 533,958 500,955C467,952 442,946 400,935C358,924 293,904 250,890C207,876 158,857 140,850Z" fill="#000" />
<path d="M820,950C833,943 870,923 900,910C930,897 967,881 1000,870C1033,859 1058,850 1100,845C1142,840 1225,841 1250,840C1233,845 1183,860 1150,870C1117,880 1083,888 1050,900C1017,912 988,932 950,940C912,948 842,948 820,950Z" fill="#000" />
<path d="M260,1085C277,1069 343,1006 360,990C375,993 418,1002 450,1010C482,1018 508,1033 550,1040C592,1047 642,1048 700,1050C758,1052 833,1048 900,1050C967,1052 1067,1054 1100,1060C1133,1066 1100,1081 1100,1085C960,1085 400,1085 260,1085Z" fill="#000" /></g></g>
<g clip-path="url(#cs3)"><g transform="translate(1300,546) scale(0.18799)"><path d="M790,45C797,42 812,28 830,25C848,22 878,26 900,30C922,34 950,47 960,50C950,52 918,56 900,60C882,64 858,72 850,75C840,70 800,50 790,45Z" fill="#000" />
<path d="M1100,85C1108,82 1125,73 1150,70C1175,67 1225,64 1250,65C1275,66 1292,73 1300,75C1283,78 1225,89 1200,95C1175,101 1158,108 1150,110C1142,106 1108,89 1100,85Z" fill="#000" />
<path d="M780,185C788,179 822,156 830,150C842,152 878,158 900,165C922,172 942,184 960,190C978,196 1002,198 1010,200C992,202 927,211 900,215C873,219 858,223 850,225C838,218 792,192 780,185Z" fill="#000" />
<path d="M1085,240C1096,236 1122,221 1150,215C1178,209 1227,206 1250,205C1273,204 1283,209 1290,210C1278,217 1240,239 1220,250C1200,261 1178,271 1170,275C1163,271 1144,256 1130,250C1116,244 1092,242 1085,240Z" fill="#000" />
<path d="M770,355C778,349 807,328 820,320C833,312 845,308 850,305C856,308 879,322 885,325C878,328 859,335 840,340C821,345 782,352 770,355Z" fill="#000" /></g></g>
<g><g transform="translate(1300,480) scale(0.18799)"><path d="M740,185C750,181 773,166 800,160C827,154 867,153 900,152C933,151 967,152 1000,152C1033,152 1067,152 1100,154C1133,156 1177,159 1200,162C1223,165 1233,172 1240,174C1225,178 1190,193 1150,200C1110,207 1042,212 1000,215C958,218 933,217 900,215C867,213 827,210 800,205C773,200 750,188 740,185Z" fill="#000" />
<path d="M1150,215C1167,208 1218,182 1250,175C1282,168 1325,171 1340,170C1333,174 1323,187 1300,195C1277,203 1217,216 1200,220C1192,219 1158,216 1150,215Z" fill="#000" />
<path d="M780,280C792,275 822,252 850,250C878,248 917,262 950,270C983,278 1033,291 1050,295C1033,297 983,304 950,305C917,306 878,304 850,300C822,296 792,283 780,280Z" fill="#000" />
<path d="M1150,320C1167,316 1217,298 1250,295C1283,292 1333,303 1350,305C1333,309 1283,328 1250,330C1217,332 1167,322 1150,320Z" fill="#000" /></g></g>
<g><g transform="translate(1370,330) scale(0.17588)"><path d="M360,590C380,589 460,586 480,585C487,592 507,618 520,630C533,642 553,655 560,660C545,658 493,653 470,645C447,637 438,619 420,610C402,601 370,593 360,590Z" fill="#000" />
<path d="M390,405C403,396 457,359 470,350C478,351 512,354 520,355C503,365 437,405 420,415C415,413 395,407 390,405Z" fill="#000" /></g></g>
<path d="M1443,431 H1535" stroke="#7a7a7a" stroke-width="1"/>
<path d="M1455,510 H1525" stroke="#7a7a7a" stroke-width="1"/>
<path d="M1416,342 H1428" stroke="#7a7a7a" stroke-width="1"/>
<path d="M1447,609.6 H1465" stroke="#7a7a7a" stroke-width="1"/>
</svg>
<div class="sl" style="left:1263.5px;top:839px">a</div>
<div class="sl" style="left:1691.7px;top:839px">a′</div>
<div class="sl" style="left:1263.5px;top:757px">b</div>
<div class="sl" style="left:1691.7px;top:757px">b′</div>
<div class="sl" style="left:1263.5px;top:673.6px">c</div>
<div class="sl" style="left:1691.7px;top:673.6px">c′</div>
<div class="sl" style="left:1263.5px;top:598.6px">d</div>
<div class="sl" style="left:1691.7px;top:598.6px">d′</div>
<div class="sl" style="left:1263.5px;top:499px">e</div>
<div class="sl" style="left:1691.7px;top:499px">e′</div>
<div class="sl" style="left:1263.5px;top:420px">f</div>
<div class="sl" style="left:1691.7px;top:420px">f′</div>
<div class="sl" style="left:1263.5px;top:331px">g</div>
<div class="sl" style="left:1691.7px;top:331px">g′</div>
<div class="sl" style="left:1263.5px;top:245.3px">h</div>
<div class="sl" style="left:1691.7px;top:245.3px">h′</div>
<div class="sl" style="left:1263.5px;top:160px">i</div>
<div class="sl" style="left:1691.7px;top:160px">i′</div>
<div class="cb"><div style="background:#FFFA52"></div><div style="background:#FDEB4E"></div><div style="background:#FBDB4A"></div><div style="background:#F8C546"></div><div style="background:#F5B042"></div><div style="background:#F39B3E"></div><div style="background:#F18637"></div><div style="background:#EF7031"></div><div style="background:#EE5C2C"></div><div style="background:#EC4A2A"></div><div style="background:#E13D2C"></div><div style="background:#D23636"></div><div style="background:#BE3048"></div><div style="background:#A72B5E"></div><div style="background:#8D247A"></div><div style="background:#701C98"></div><div style="background:#5216B6"></div><div style="background:#3A0FD4"></div></div>
<div class="cl" style="left:1772.5px;top:522px">(lux)</div>
<div class="cl" style="left:1796px;top:560px">&gt;1000</div>
<div class="cl" style="left:1796px;top:748px">500</div>
<div class="cl" style="left:1796px;top:882px">140</div>
</body></html>
